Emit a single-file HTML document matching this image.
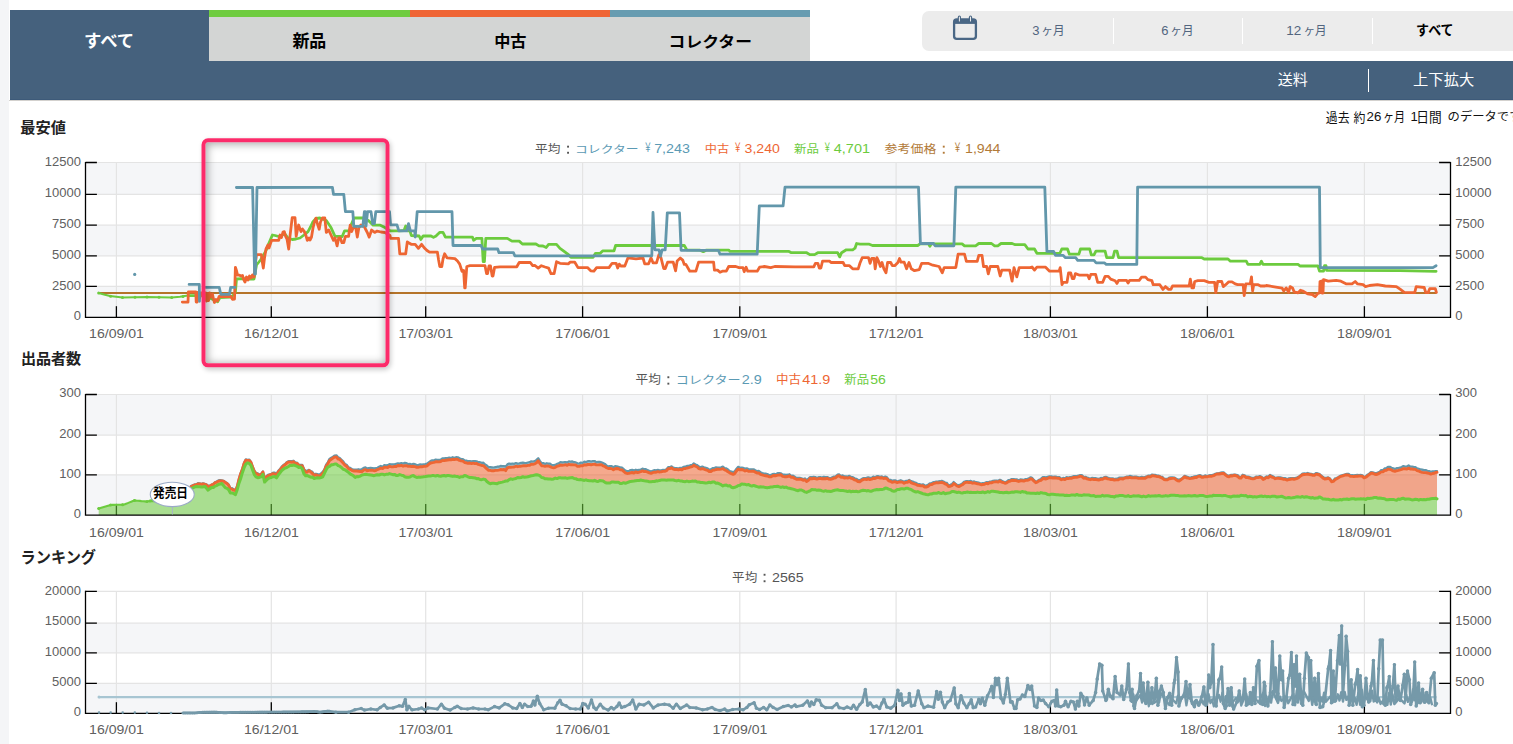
<!DOCTYPE html>
<html lang="ja"><head><meta charset="utf-8"><title>価格推移グラフ</title>
<style>
html,body{margin:0;padding:0;background:#fff;}
html{width:1513px;height:744px;overflow:hidden;}
body{width:1513px;height:744px;overflow:hidden;position:relative;font-family:"Liberation Sans","Noto Sans CJK JP",sans-serif;}
.strip{position:absolute;left:0;top:0;width:8.7px;height:744px;background:#f4f5f7;}
.hdrband{position:absolute;left:10px;top:61px;width:1503px;height:38px;background:#45617d;border-bottom:1px solid #3d5a79;}
.hdrline{position:absolute;left:9px;top:100px;width:1504px;height:1px;background:#d3d1ce;}
.tab{position:absolute;top:10px;height:51px;}
.tab.all{left:10px;width:199px;background:#45617d;}
.tab.g{left:209px;width:201px;background:#d3d5d4;border-top:7px solid #6fcc40;height:44px;}
.tab.o{left:410px;width:200px;background:#d3d5d4;border-top:7px solid #ef6535;height:44px;}
.tab.b{left:610px;width:200px;background:#d3d5d4;border-top:7px solid #679cb1;height:44px;}
.range{position:absolute;left:922px;top:11px;width:591px;height:40px;background:#ececec;border-radius:7px 0 0 7px;}
.sep{position:absolute;top:18px;width:1px;height:26px;background:#fff;}
.vsep{position:absolute;left:1368px;top:69px;width:1px;height:23px;background:#fff;}
.hl{position:absolute;left:202px;top:138px;width:179.8px;height:220.8px;border:4.2px solid #fc2b6a;border-radius:6.5px;
 transform:translate(-0.5px,0.3px);
 box-shadow: inset 1px 1px 9px 1px rgba(0,0,0,0.34), 1.5px 2.5px 5px rgba(0,0,0,0.2);}
svg{position:absolute;left:0;top:0;}
svg text{font-family:"Liberation Sans","Noto Sans CJK JP",sans-serif;}
</style></head><body>
<div class="strip"></div>
<div class="tab all"></div><div class="tab g"></div><div class="tab o"></div><div class="tab b"></div>
<div class="hdrband"></div><div class="hdrline"></div>
<div class="range"></div>
<div class="sep" style="left:1113px"></div>
<div class="sep" style="left:1242px"></div>
<div class="sep" style="left:1371.5px"></div>
<div class="vsep"></div>
<svg width="1513" height="744" viewBox="0 0 1513 744">
<text x="84" y="47" font-size="16.7" font-weight="bold" fill="#fff" textLength="50.2" lengthAdjust="spacingAndGlyphs">すべて</text>
<text x="292.4" y="47.2" font-size="17.3" font-weight="bold" fill="#000" textLength="33.9" lengthAdjust="spacingAndGlyphs">新品</text>
<text x="494.2" y="47" font-size="16.1" font-weight="bold" fill="#000" textLength="32.3" lengthAdjust="spacingAndGlyphs">中古</text>
<text x="668.6" y="47.2" font-size="15.2" font-weight="bold" fill="#000" textLength="83.4" lengthAdjust="spacingAndGlyphs">コレクター</text>
<g fill="none" stroke="#4a6785">
<rect x="954.1" y="19.3" width="21.8" height="19.5" rx="2.6" stroke-width="2.3"/>
<rect x="954.1" y="19.3" width="21.8" height="4.6" fill="#4a6785" stroke="none"/>
</g>
<rect x="957.8" y="15.6" width="3.2" height="6.8" rx="1.6" fill="#4a6785"/>
<rect x="958.9" y="16.4" width="1" height="5" rx="0.5" fill="#ececec"/>
<rect x="968.9" y="15.6" width="3.2" height="6.8" rx="1.6" fill="#4a6785"/>
<rect x="970" y="16.4" width="1" height="5" rx="0.5" fill="#ececec"/>
<text x="1032.2" y="35.3" font-size="13" fill="#52657f">3</text>
<text x="1041.3" y="34.9" font-size="12.2" fill="#52657f" textLength="23.2" lengthAdjust="spacingAndGlyphs">ヶ月</text>
<text x="1161.2" y="35.3" font-size="13" fill="#52657f">6</text>
<text x="1170.3" y="34.9" font-size="12.2" fill="#52657f" textLength="23.2" lengthAdjust="spacingAndGlyphs">ヶ月</text>
<text x="1286.3" y="35.3" font-size="13" fill="#52657f" textLength="15" lengthAdjust="spacingAndGlyphs">12</text>
<text x="1303.5" y="34.9" font-size="12.2" fill="#52657f" textLength="23.2" lengthAdjust="spacingAndGlyphs">ヶ月</text>
<text x="1416.1" y="35.4" font-size="13.5" font-weight="bold" fill="#000" textLength="37.5" lengthAdjust="spacingAndGlyphs">すべて</text>
<text x="1277.8" y="85.1" font-size="14.4" fill="#fff" textLength="30.1" lengthAdjust="spacingAndGlyphs">送料</text>
<text x="1413.1" y="85.1" font-size="14.5" fill="#fff" textLength="61.1" lengthAdjust="spacingAndGlyphs">上下拡大</text>
<text x="1325.8" y="121.6" font-size="12.7" fill="#111" textLength="23.7" lengthAdjust="spacingAndGlyphs">過去</text>
<text x="1353.6" y="121.6" font-size="12.8" fill="#111" textLength="11.9" lengthAdjust="spacingAndGlyphs">約</text>
<text x="1366.6" y="121.4" font-size="13" fill="#111" textLength="14.8" lengthAdjust="spacingAndGlyphs">26</text>
<text x="1383" y="121.4" font-size="12.6" fill="#111" textLength="22.2" lengthAdjust="spacingAndGlyphs">ヶ月</text>
<text x="1410.4" y="121.4" font-size="13" fill="#111">1</text>
<text x="1416.3" y="121.5" font-size="13.1" fill="#111" textLength="25.4" lengthAdjust="spacingAndGlyphs">日間</text>
<text x="1447.6" y="121.3" font-size="12" fill="#111" textLength="73.9" lengthAdjust="spacingAndGlyphs">のデータです</text>
<text x="20.2" y="133.2" font-size="15.2" font-weight="bold" fill="#222" textLength="45.7" lengthAdjust="spacingAndGlyphs">最安値</text>
<text x="20.9" y="364.1" font-size="14.7" font-weight="bold" fill="#222" textLength="60.3" lengthAdjust="spacingAndGlyphs">出品者数</text>
<text x="20.6" y="562.8" font-size="15.9" font-weight="bold" fill="#222" textLength="75.4" lengthAdjust="spacingAndGlyphs">ランキング</text>
<rect x="85.5" y="162.5" width="1365.1" height="31.8" fill="#f5f6f8"/>
<rect x="85.5" y="225.2" width="1365.1" height="30.6" fill="#f5f6f8"/>
<rect x="85.5" y="286.4" width="1365.1" height="31" fill="#f5f6f8"/>
<line x1="85.5" y1="162.5" x2="1450.5" y2="162.5" stroke="#e4e4e4" stroke-width="1.2"/>
<line x1="85.5" y1="194.3" x2="1450.5" y2="194.3" stroke="#e4e4e4" stroke-width="1.2"/>
<line x1="85.5" y1="225.2" x2="1450.5" y2="225.2" stroke="#e4e4e4" stroke-width="1.2"/>
<line x1="85.5" y1="255.8" x2="1450.5" y2="255.8" stroke="#e4e4e4" stroke-width="1.2"/>
<line x1="85.5" y1="286.4" x2="1450.5" y2="286.4" stroke="#e4e4e4" stroke-width="1.2"/>
<line x1="116.4" y1="162.5" x2="116.4" y2="317.4" stroke="#e4e4e4" stroke-width="1.2"/>
<line x1="271.3" y1="162.5" x2="271.3" y2="317.4" stroke="#e4e4e4" stroke-width="1.2"/>
<line x1="425.7" y1="162.5" x2="425.7" y2="317.4" stroke="#e4e4e4" stroke-width="1.2"/>
<line x1="582.6" y1="162.5" x2="582.6" y2="317.4" stroke="#e4e4e4" stroke-width="1.2"/>
<line x1="739.8" y1="162.5" x2="739.8" y2="317.4" stroke="#e4e4e4" stroke-width="1.2"/>
<line x1="896.1" y1="162.5" x2="896.1" y2="317.4" stroke="#e4e4e4" stroke-width="1.2"/>
<line x1="1050.4" y1="162.5" x2="1050.4" y2="317.4" stroke="#e4e4e4" stroke-width="1.2"/>
<line x1="1207.4" y1="162.5" x2="1207.4" y2="317.4" stroke="#e4e4e4" stroke-width="1.2"/>
<line x1="1364.4" y1="162.5" x2="1364.4" y2="317.4" stroke="#e4e4e4" stroke-width="1.2"/>
<line x1="98.7" y1="293" x2="1436.5" y2="293" stroke="#b5742a" stroke-width="1.8"/>
<circle cx="134.7" cy="274.4" r="1.6" fill="#6297ab"/>
<polyline points="98.7,293 104,294.5 110,296 122.5,297.4 135,297.2 147,297 159,297.3 171.7,297.6 180,296.8 188,295.6" fill="none" stroke="#6ccb3e" stroke-width="2" stroke-linejoin="round" stroke-linecap="round"/>
<circle cx="98.7" cy="293" r="1.5" fill="#6ccb3e"/>
<circle cx="110.6" cy="296.2" r="1.5" fill="#6ccb3e"/>
<circle cx="122.5" cy="297.4" r="1.5" fill="#6ccb3e"/>
<circle cx="135" cy="297.2" r="1.5" fill="#6ccb3e"/>
<circle cx="147" cy="297" r="1.5" fill="#6ccb3e"/>
<circle cx="159" cy="297.3" r="1.5" fill="#6ccb3e"/>
<circle cx="171.7" cy="297.6" r="1.5" fill="#6ccb3e"/>
<circle cx="183" cy="296.4" r="1.5" fill="#6ccb3e"/>
<polyline points="188,295.6 201,295.6 206,296 214,300 217.6,301.7 220,297.5 231,297 233.5,295 235.4,292 236.5,279 242.6,278.6 248,279 254,279 256.5,265 260.5,260 263,256 266,250.6 269,243 272.4,235 275,235.5 278.7,236.5 282,235 285,234 288,238 292.2,239.5 296,239 300,238 304,235 308,231.6 310.5,227 312.8,222 316,218.5 320,218 326.3,220.5 331,227.6 335,236.3 342.2,236.5 344.6,230.8 349.4,230.8 351.5,224 354,218 362.8,218 368.4,220.5 373.2,225.2 380.3,225.2 385,227.6 390,230.8 399.4,230.8 404,230.5 405.7,226 407.5,230.8 410,230.8 411.3,235.5 419.2,236 420.8,239.5 423.2,235.9 431,236 433.5,237.4 436,236 438,234 439.8,232.4 443,232.4 445.4,237.1 472.4,237.1 473.6,240.3 476.3,238.4 481.9,238.4 483.2,261.7 484.4,261.7 485.8,238.4 507.3,238.4 512,241.1 519.2,241.1 522.4,244 535.9,244 539,245.9 543,246 546.2,247.5 548.6,244.3 556.5,244.3 560,248.3 562.1,249.8 568.5,254.6 570.9,257.3 593.1,257.3 595.5,253.3 600.2,253.3 602.6,250.9 614,250.9 615.6,245.5 684.3,245.5 686.7,249.8 700,250.2 703.3,251.7 706,250.2 720,250.1 728.7,250.1 730,251.4 789,251.4 791.4,252.7 795,252.7 806.7,252.7 809.8,254.6 814.6,254.6 817.8,252.7 837.6,252.7 839.7,256.9 841.6,252.7 846.3,249.8 852.7,249.8 855,248.2 856.6,243.5 860,244.2 869.3,244.2 872.5,245.5 917.7,245.5 920.1,243.8 928.5,243.8 929.9,246.3 931.3,243.8 962.1,243.8 964.5,245.8 975.6,245.8 978.8,243.5 991.5,243.5 994.6,245.8 997.8,245.8 1001,243.5 1012.1,243.5 1015.2,244.7 1024.8,244.7 1028,249 1034.5,249 1036.9,253.3 1059.9,253.3 1061.8,249 1067.5,249 1069.4,254.2 1078.9,254.2 1080.5,249 1089.7,249 1091.3,254.9 1094,254.9 1095.9,251.1 1105.1,251.1 1106.7,257.7 1113,257.7 1114.6,251.1 1117,251.1 1118.6,257.7 1201.9,257.7 1204.2,259 1228,259 1230.4,261.2 1246.3,261.2 1247.9,264.4 1259.8,264.4 1261.4,261.2 1263,264.4 1265,264.4 1298,264.4 1300,266 1317.9,266 1319.5,271.2 1323.5,271.2 1324.5,265.7 1326,265.7 1326.6,270.4 1400,270.7 1436.1,271.3" fill="none" stroke="#6ccb3e" stroke-width="2.8" stroke-linejoin="round" stroke-linecap="round"/>
<polyline points="182.3,302.1 188,302.1 188.4,291.8 195.8,291.8 196.2,302 197.2,302 197.6,292.5 199,292.5 199.6,298 201,293 205.6,293 206.5,301 207.5,293.5 208.6,300.5 209.6,293 211,297 212.4,294 213.5,299 214.4,302.5 216,299.5 217.5,301 219.2,296.3 231,296.5 232.5,299.3 234.5,299 235.4,267.3 236.6,271 237.6,275.2 239.5,275.2 241,276 242.5,275.5 243.5,279 245,282 246.5,277 248,280 249.5,276 251,278 252.5,275 254,277 255.5,262 256.5,254.6 261.3,254.6 262.3,262 263.3,268 264.5,258 266,249 268,245 269,248 271.6,240.3 278.7,240.3 280,235 281.5,237.5 283,232 284.3,231.6 285.5,236 287,239 288.7,249 290,236 292.2,217.6 295,217.6 296.2,236.3 297.4,230 298.6,225 300,229 301,231.6 302.5,229 304,231 305.5,234 307.3,240.3 309,238 310,240 311.5,237 313,228 314.5,222 316,218.1 317.5,224 319.2,229.2 320.5,222 322.4,218 324.8,218 326.3,232.4 328.7,230 331,235 333.5,240.3 335,238 337.1,245.9 338.7,238 340.3,238 342,242.7 343.8,242.7 345.4,236.3 348.6,236.3 350.2,225.2 351.7,231.6 353.3,227.6 355.7,227.6 357.3,237.1 358.9,227.6 361,225 364.4,226.8 366,230 367.6,233.2 369.2,237.1 371.6,230 374.7,232.4 377.1,231.1 381,232 385.4,232.7 390,235.5 390.6,238.4 398.5,238.4 399.8,253.8 405.7,253.8 407.3,241.9 409,243 411.2,244.3 415.2,244.3 418.4,248.3 421.6,244.3 424.7,248.3 427,250.5 429.5,252.2 437.4,252.2 438.6,260 439.8,266.5 441.8,266.5 443,259 444.6,253.8 447,257.8 454.9,258.6 457.5,261 459.7,264.1 462,271.3 463.6,270.5 464.7,287.9 465.2,287.9 466.8,266.5 470,265.7 485,265.7 486.6,273.7 487.5,273.7 489,266 490.5,266 492.2,276 493,276 494.6,267.3 500,266.8 516.8,266.8 519.2,262.5 530.3,262.5 532.7,265.7 535,265.5 538.2,268.1 541.4,265.7 545,267 548.6,268.1 551,273.7 554.1,273.7 556.5,261.7 560,263.3 568.5,263.8 570,262.2 574.8,262.2 578,267.6 587.5,267.6 590.7,270.8 593.9,271.2 596.6,267.6 609,267.6 612.1,263.3 616.1,263.3 617.7,268 619.3,264.1 620.8,266 624.8,266 628,257.8 636,258.9 643,258 644.7,263.8 648.6,263.8 651,257.8 653,262.8 656.5,262.8 658.9,254.6 661,257.8 663.7,268.5 665.3,268.5 667.6,262.2 673.2,262.2 675.6,270.8 677.2,260.9 680.3,258 682.7,260.1 684.3,264.4 685.9,264.4 689.8,271.2 695.9,271.2 698.6,262.2 713.6,262.2 714.4,270.1 717.6,270.1 720,272.3 722.4,271.2 726.3,271.2 728.7,266.5 735.8,266.5 739,267.6 743,267.6 744.2,271.7 746.1,267.2 747.7,271.2 757.2,271.2 759.6,267.2 764.4,266.5 770.7,267.6 774.7,266.5 795,266.8 813.8,266.9 815.4,263.3 817.8,263.3 819.3,268 820.9,268 822.5,261.2 829.7,261.2 831,262.5 843.1,262.5 844.7,265.7 849.5,265.7 852.7,268.8 858.2,268.8 860,263 862.2,257.7 868.5,257.7 870.1,263.3 871.7,258.5 874.1,258.5 875.2,268.8 876.9,257.7 878.8,261.7 880.4,266.5 882,262.5 883.9,268.8 886,272.8 887.6,262.5 890.7,262.5 892.3,265.7 894.7,265.7 897.9,262.5 899.5,258.5 901,262.2 904.2,262.2 906.6,268.8 909,262.5 911.3,268.8 914.5,270.7 919.3,269.6 921.7,263.3 928,263.3 932.8,265.2 939.1,266.5 942.3,272.8 944.2,267.6 955.8,267.6 958.1,254.2 964.5,254.2 966.4,261.4 977.2,261.4 978.8,255.3 982,255.3 983.5,266.5 986.7,266.5 988.3,273.9 990.2,266.5 997.8,266.5 1000.2,276 1001.8,270.1 1009.7,270.1 1012.1,281.2 1014,267.6 1016.8,276.8 1019.2,267.6 1030,267.6 1032,267 1034.5,270.1 1036.9,267.2 1045.6,267.2 1049.6,271.2 1059.1,271.2 1060.2,267.6 1062,284.7 1063.1,282.3 1067,282.3 1068.6,272.8 1070.7,272.8 1072.3,278.7 1073.9,278.7 1075.4,273.6 1079.7,275.2 1087.7,275.2 1089.2,278.7 1090.8,274.4 1095.6,274.4 1097.7,282.3 1102.7,282.3 1105.1,276.4 1108.3,276.4 1110.7,279.1 1115.1,280.7 1117,283.4 1118.6,280.3 1126.5,280.3 1128.1,283.1 1129.7,280.3 1139.2,280.3 1141.6,277.1 1145.6,277.1 1147.9,279.6 1151.9,280.7 1153.2,284.7 1159.8,284.7 1163,289.4 1165.4,286.6 1168.6,289.4 1170.9,289.4 1172.5,286 1189.2,286 1190.3,279.1 1191.9,287.9 1193.5,287.9 1194.7,281.5 1197.9,280.7 1204.2,280.7 1209,282.3 1214.6,282.3 1215.8,292.6 1217.7,281.5 1221.7,281.5 1223.3,286.6 1225.7,284.7 1228.8,281.8 1232,281.8 1235.2,283.9 1237.6,284.7 1243.1,284.7 1244.2,295.5 1245.8,283.9 1250.2,283.9 1251.5,276.8 1252.6,291 1253.7,284.7 1258.2,284.7 1260.6,286 1265,286 1266.3,285.5 1275.9,287.1 1282.2,288.2 1283.8,291 1286.2,287.9 1288.6,292.3 1290.1,286.6 1292.5,287.9 1294.1,291.8 1298.1,292.9 1300.5,290.2 1302.8,291 1307.6,293.9 1312.3,294.5 1315.2,296.6 1317.9,293.4 1319.6,293 1320,281.5 1321.5,281 1322,293 1323,293 1323.5,279.6 1328.2,281.2 1336.1,280.4 1340.9,281.2 1346.5,283.9 1352,283.9 1355.2,281.5 1357.6,283.9 1363.1,284.7 1365.5,286.6 1369.5,285.5 1377.4,284.7 1385.3,286 1396.4,286.6 1400.4,289.4 1404.3,292.3 1414.7,292.6 1416.2,286.6 1424.2,287.5 1425.8,292.6 1428.1,292.6 1429.7,288.7 1435.3,288.7 1436.4,292.3" fill="none" stroke="#ee6633" stroke-width="2.8" stroke-linejoin="round" stroke-linecap="round"/>
<polyline points="189.1,284.4 199.3,284.4 199.5,301.3" fill="none" stroke="#6297ab" stroke-width="2.8" stroke-linejoin="round" stroke-linecap="round"/>
<polyline points="205.5,287.3 219.2,287.3 220.8,294.3 229.5,294.3 230.7,287.3 235,287.3" fill="none" stroke="#6297ab" stroke-width="2.8" stroke-linejoin="round" stroke-linecap="round"/>
<polyline points="236.4,187.5 252.6,187.5 254.6,274 255.4,274 257,187.5 320,187.3 332.4,187.3 333.5,194.3 343.8,194.3 345.4,211.7 352.8,211.7 353.8,226.3 362.8,226.3 364.4,211.7 365.2,211.7 366,226 367.6,211.7 371,211.7 372.7,223.6 374.4,223.6 375.8,211.7 389.5,211.7 390.6,224.9 397,224.9 398.8,230.8 407,230.8 408.5,223.6 410.4,230.8 414.7,230.8 415.2,237 417.2,211.7 452,211.7 453,245.5 481,245.5 482.6,249 497.7,249 499,252.7 513.5,252.7 514.8,255.8 560,255.8 651.8,255.8 653,212.5 654.9,249.8 659,249.8 660.5,256.1 662.1,249.8 665.2,249.8 667.3,212.8 679.5,212.8 681.1,250.3 718.4,250.3 720,254.2 757.2,254.2 759.3,205.9 783.1,205.9 785,187.1 795,187.1 918.5,187.1 920.4,243.5 933.6,243.5 935.1,245.8 953.9,245.8 955.8,187.1 1030,187.1 1044.8,187.1 1046.9,251.4 1053.6,251.4 1055.5,255.3 1063,255.3 1065.5,257.7 1075.8,257.7 1077.7,260.4 1094,260.4 1096.1,262.8 1104.3,262.8 1106.2,264.4 1136.8,264.4 1137.6,187.1 1265,187.1 1319.5,187.1 1320.3,267.6 1432.9,267.6 1436.1,265.7" fill="none" stroke="#6297ab" stroke-width="2.8" stroke-linejoin="round" stroke-linecap="round"/>
<g stroke="#000" stroke-width="1.3" fill="none">
<path d="M85.5 161.9 V317.4 H1450.5 V161.9"/>
<path d="M85.5 162.5 h11.4 M1450.5 162.5 h-11.4"/>
<path d="M85.5 194.3 h11.4 M1450.5 194.3 h-11.4"/>
<path d="M85.5 225.2 h11.4 M1450.5 225.2 h-11.4"/>
<path d="M85.5 255.8 h11.4 M1450.5 255.8 h-11.4"/>
<path d="M85.5 286.4 h11.4 M1450.5 286.4 h-11.4"/>
<path d="M116.4 317.4 v-11.2"/>
<path d="M271.3 317.4 v-11.2"/>
<path d="M425.7 317.4 v-11.2"/>
<path d="M582.6 317.4 v-11.2"/>
<path d="M739.8 317.4 v-11.2"/>
<path d="M896.1 317.4 v-11.2"/>
<path d="M1050.4 317.4 v-11.2"/>
<path d="M1207.4 317.4 v-11.2"/>
<path d="M1364.4 317.4 v-11.2"/>
</g>
<text x="80.9" y="166.2" font-size="13" fill="#606060" text-anchor="end">12500</text>
<text x="1455.3" y="166.2" font-size="13" fill="#606060">12500</text>
<text x="80.9" y="197.3" font-size="13" fill="#606060" text-anchor="end">10000</text>
<text x="1455.3" y="197.3" font-size="13" fill="#606060">10000</text>
<text x="80.9" y="228.2" font-size="13" fill="#606060" text-anchor="end">7500</text>
<text x="1455.3" y="228.2" font-size="13" fill="#606060">7500</text>
<text x="80.9" y="259.1" font-size="13" fill="#606060" text-anchor="end">5000</text>
<text x="1455.3" y="259.1" font-size="13" fill="#606060">5000</text>
<text x="80.9" y="290.2" font-size="13" fill="#606060" text-anchor="end">2500</text>
<text x="1455.3" y="290.2" font-size="13" fill="#606060">2500</text>
<text x="80.9" y="320.4" font-size="13" fill="#606060" text-anchor="end">0</text>
<text x="1455.3" y="320.4" font-size="13" fill="#606060">0</text>
<text x="89.1" y="338" font-size="13" fill="#606060" textLength="54.8" lengthAdjust="spacingAndGlyphs">16/09/01</text>
<text x="244" y="338" font-size="13" fill="#606060" textLength="54.8" lengthAdjust="spacingAndGlyphs">16/12/01</text>
<text x="398.4" y="338" font-size="13" fill="#606060" textLength="54.8" lengthAdjust="spacingAndGlyphs">17/03/01</text>
<text x="555.3" y="338" font-size="13" fill="#606060" textLength="54.8" lengthAdjust="spacingAndGlyphs">17/06/01</text>
<text x="712.5" y="338" font-size="13" fill="#606060" textLength="54.8" lengthAdjust="spacingAndGlyphs">17/09/01</text>
<text x="868.8" y="338" font-size="13" fill="#606060" textLength="54.8" lengthAdjust="spacingAndGlyphs">17/12/01</text>
<text x="1023.1" y="338" font-size="13" fill="#606060" textLength="54.8" lengthAdjust="spacingAndGlyphs">18/03/01</text>
<text x="1180.1" y="338" font-size="13" fill="#606060" textLength="54.8" lengthAdjust="spacingAndGlyphs">18/06/01</text>
<text x="1337.1" y="338" font-size="13" fill="#606060" textLength="54.8" lengthAdjust="spacingAndGlyphs">18/09/01</text>
<text x="535.1" y="153.1" font-size="11.5" fill="#555" textLength="25.3" lengthAdjust="spacingAndGlyphs">平均</text>
<rect x="567.1" y="145.7" width="1.9" height="1.9" fill="#555"/>
<rect x="567.1" y="151.8" width="1.9" height="1.9" fill="#555"/>
<text x="575" y="152.9" font-size="10.6" fill="#5b9ab4" textLength="63.6" lengthAdjust="spacingAndGlyphs">コレクター</text>
<text x="643.7" y="152.3" font-size="12.3" fill="#5b9ab4" textLength="8.3" lengthAdjust="spacingAndGlyphs">￥</text>
<text x="654.2" y="153.3" font-size="13" fill="#5b9ab4" textLength="35.7" lengthAdjust="spacingAndGlyphs">7,243</text>
<text x="704.8" y="153.1" font-size="11.5" fill="#ee6633" textLength="24.3" lengthAdjust="spacingAndGlyphs">中古</text>
<text x="733.4" y="152.3" font-size="12.3" fill="#ee6633" textLength="8.4" lengthAdjust="spacingAndGlyphs">￥</text>
<text x="744.6" y="153.3" font-size="13" fill="#ee6633" textLength="35.3" lengthAdjust="spacingAndGlyphs">3,240</text>
<text x="794.1" y="153.1" font-size="11.6" fill="#6ccb3e" textLength="24.9" lengthAdjust="spacingAndGlyphs">新品</text>
<text x="823.2" y="152.3" font-size="12.3" fill="#6ccb3e" textLength="8.1" lengthAdjust="spacingAndGlyphs">￥</text>
<text x="833.8" y="153.3" font-size="13" fill="#6ccb3e" textLength="36.2" lengthAdjust="spacingAndGlyphs">4,701</text>
<text x="884.6" y="153.1" font-size="11.5" fill="#b27a38" textLength="51.8" lengthAdjust="spacingAndGlyphs">参考価格</text>
<rect x="942.8" y="145.7" width="1.9" height="1.9" fill="#b27a38"/>
<rect x="942.8" y="151.8" width="1.9" height="1.9" fill="#b27a38"/>
<text x="953.3" y="152.3" font-size="12.3" fill="#b27a38" textLength="8.5" lengthAdjust="spacingAndGlyphs">￥</text>
<text x="965" y="153.3" font-size="13" fill="#b27a38" textLength="35.5" lengthAdjust="spacingAndGlyphs">1,944</text>
<rect x="85.5" y="394.5" width="1365.1" height="40.6" fill="#f5f6f8"/>
<rect x="85.5" y="474.8" width="1365.1" height="40.3" fill="#f5f6f8"/>
<line x1="85.5" y1="394.5" x2="1450.5" y2="394.5" stroke="#e4e4e4" stroke-width="1.2"/>
<line x1="85.5" y1="435.1" x2="1450.5" y2="435.1" stroke="#e4e4e4" stroke-width="1.2"/>
<line x1="85.5" y1="474.8" x2="1450.5" y2="474.8" stroke="#e4e4e4" stroke-width="1.2"/>
<line x1="116.4" y1="394.5" x2="116.4" y2="515.1" stroke="#e4e4e4" stroke-width="1.2"/>
<line x1="271.3" y1="394.5" x2="271.3" y2="515.1" stroke="#e4e4e4" stroke-width="1.2"/>
<line x1="425.7" y1="394.5" x2="425.7" y2="515.1" stroke="#e4e4e4" stroke-width="1.2"/>
<line x1="582.6" y1="394.5" x2="582.6" y2="515.1" stroke="#e4e4e4" stroke-width="1.2"/>
<line x1="739.8" y1="394.5" x2="739.8" y2="515.1" stroke="#e4e4e4" stroke-width="1.2"/>
<line x1="896.1" y1="394.5" x2="896.1" y2="515.1" stroke="#e4e4e4" stroke-width="1.2"/>
<line x1="1050.4" y1="394.5" x2="1050.4" y2="515.1" stroke="#e4e4e4" stroke-width="1.2"/>
<line x1="1207.4" y1="394.5" x2="1207.4" y2="515.1" stroke="#e4e4e4" stroke-width="1.2"/>
<line x1="1364.4" y1="394.5" x2="1364.4" y2="515.1" stroke="#e4e4e4" stroke-width="1.2"/>
<g stroke="#000" stroke-width="1.3">
<path d="M116.4 515.1 v-11.2"/>
<path d="M271.3 515.1 v-11.2"/>
<path d="M425.7 515.1 v-11.2"/>
<path d="M582.6 515.1 v-11.2"/>
<path d="M739.8 515.1 v-11.2"/>
<path d="M896.1 515.1 v-11.2"/>
<path d="M1050.4 515.1 v-11.2"/>
<path d="M1207.4 515.1 v-11.2"/>
<path d="M1364.4 515.1 v-11.2"/>
</g>
<path d="M98.7 508.5 L100.4 508 L102.1 507.5 L103.8 507 L105.5 506.5 L107.2 506 L109 505.5 L110.7 505 L112.4 504.9 L114.1 504.9 L115.8 504.8 L117.5 504.8 L119.2 504.7 L120.9 504.7 L122.6 504.6 L124.3 504.5 L126.1 503.8 L127.8 503.1 L129.5 502.4 L131.2 501.7 L132.9 501 L134.6 500.4 L136.3 500.6 L138 500.7 L139.7 500.9 L141.4 501.1 L143.2 501.2 L144.9 501.4 L146.6 501.6 L148.3 501.3 L150 501 L151.7 500.8 L153.4 500.7 L155.1 500.7 L156.8 500.6 L158.6 500.5 L160.3 500.5 L162 500.2 L163.7 499.9 L165.4 499.7 L167.1 499.4 L168.8 499.2 L170.5 498.8 L172.2 498.1 L173.9 497.4 L175.7 496.7 L177.4 496.1 L179.1 495.4 L180.8 494.5 L182.5 493.4 L184.2 492.4 L185.9 491.3 L187.6 490.2 L189.3 489.4 L191 488.6 L192.8 487.9 L194.5 487.2 L196.2 486.5 L197.9 486.8 L199.6 486.7 L201.3 486.9 L203 486.9 L204.7 486.3 L206.4 488.1 L208.1 490.2 L209.9 488.6 L211.6 487.6 L213.3 487.5 L215 486.1 L216.7 485.6 L218.4 484.4 L220.1 484.1 L221.8 483.5 L223.5 485.5 L225.2 487.6 L227 488.4 L228.7 489.7 L230.4 493 L232.1 492.9 L233.8 493.7 L235.5 494.6 L237.2 489.7 L238.9 483.4 L240.6 478.8 L242.3 472.9 L244.1 467.7 L245.8 464.2 L247.5 462.8 L249.2 463.4 L250.9 465.3 L252.6 469.9 L254.3 474.6 L256 476.9 L257.7 477.7 L259.4 477.4 L261.2 476.8 L262.9 474.3 L264.6 482.1 L266.3 480.3 L268 478.7 L269.7 477.8 L271.4 477.5 L273.1 476.7 L274.8 476.6 L276.5 477.9 L278.3 475 L280 472.9 L281.7 470.7 L283.4 469.2 L285.1 468.1 L286.8 467.5 L288.5 466.5 L290.2 465.3 L291.9 465.5 L293.6 465 L295.4 465.7 L297.1 466.3 L298.8 467.5 L300.5 467 L302.2 468.8 L303.9 473.7 L305.6 475.8 L307.3 475.5 L309 476.4 L310.7 477.2 L312.4 477 L314.2 478.5 L315.9 478.1 L317.6 477.8 L319.3 478 L321 477.6 L322.7 476.9 L324.4 473.4 L326.1 469.8 L327.8 467.1 L329.5 466.4 L331.3 464.8 L333 464.7 L334.7 464.1 L336.4 464 L338.1 465.6 L339.8 466.2 L341.5 467.4 L343.2 469.3 L344.9 469.7 L346.6 470.9 L348.4 472.2 L350.1 473.9 L351.8 474.8 L353.5 475.8 L355.2 477.4 L356.9 476.5 L358.6 476.7 L360.3 476.1 L362 475 L363.7 474.6 L365.5 474.2 L367.2 474.5 L368.9 474.7 L370.6 475 L372.3 475.3 L374 475.7 L375.7 475.1 L377.4 474.8 L379.1 475 L380.8 474.3 L382.6 474.2 L384.3 474.9 L386 474.3 L387.7 474.3 L389.4 473.6 L391.1 474.1 L392.8 474.7 L394.5 474.4 L396.2 475.4 L397.9 475.4 L399.7 474.6 L401.4 475.2 L403.1 475.5 L404.8 476.7 L406.5 477.2 L408.2 477.3 L409.9 477 L411.6 475.9 L413.3 475.6 L415 476.6 L416.8 477.5 L418.5 477.1 L420.2 477.2 L421.9 477.1 L423.6 476.7 L425.3 476.6 L427 476.3 L428.7 476.1 L430.4 476.1 L432.1 475.6 L433.9 475.6 L435.6 476.1 L437.3 475.4 L439 476 L440.7 476.2 L442.4 475.7 L444.1 475.5 L445.8 476.1 L447.5 475.4 L449.2 475.6 L451 476 L452.7 476.4 L454.4 476 L456.1 476.4 L457.8 476.6 L459.5 477.4 L461.2 476.7 L462.9 476.7 L464.6 475.4 L466.3 476 L468.1 476.9 L469.8 477.6 L471.5 477.5 L473.2 477.7 L474.9 477.9 L476.6 478.7 L478.3 478.6 L480 479.5 L481.7 479.7 L483.4 479.1 L485.2 479.5 L486.9 481.5 L488.6 482.8 L490.3 483.7 L492 483.3 L493.7 483.2 L495.4 483.4 L497.1 483.7 L498.8 482.8 L500.5 482.5 L502.3 482.1 L504 481.6 L505.7 481 L507.4 481 L509.1 479.6 L510.8 478.8 L512.5 479.4 L514.2 478.9 L515.9 478.5 L517.6 477.5 L519.4 477.8 L521.1 477.6 L522.8 476.7 L524.5 477.2 L526.2 477.1 L527.9 476.7 L529.6 476.3 L531.3 475.8 L533 475.5 L534.7 475.1 L536.5 474.8 L538.2 475.1 L539.9 475.7 L541.6 477.5 L543.3 477.7 L545 478.8 L546.7 478.7 L548.4 479 L550.1 479.1 L551.8 479.2 L553.6 478.9 L555.3 478.1 L557 478.6 L558.7 477.8 L560.4 477.7 L562.1 478.1 L563.8 477.9 L565.5 477.8 L567.2 478.4 L568.9 478 L570.7 477.7 L572.4 477.6 L574.1 478.5 L575.8 478.7 L577.5 479.6 L579.2 479.7 L580.9 479.6 L582.6 480.1 L584.3 480.4 L586 479.8 L587.8 480.6 L589.5 480.8 L591.2 480.8 L592.9 481 L594.6 480.3 L596.3 481.2 L598 481.5 L599.7 480.6 L601.4 480.8 L603.1 481.1 L604.9 482.3 L606.6 483 L608.3 483 L610 483 L611.7 482 L613.4 482.1 L615.1 482.2 L616.8 482.3 L618.5 482.3 L620.2 483.4 L622 483.4 L623.7 482.7 L625.4 483.3 L627.1 482.6 L628.8 482 L630.5 481.4 L632.2 481.2 L633.9 481 L635.6 480.7 L637.4 480.4 L639.1 480.4 L640.8 480.1 L642.5 480.4 L644.2 480.8 L645.9 481 L647.6 481.2 L649.3 481.8 L651 481.7 L652.7 481.6 L654.5 481.5 L656.2 480.8 L657.9 480.9 L659.6 480.4 L661.3 480.1 L663 480 L664.7 480.1 L666.4 480.2 L668.1 479.9 L669.8 480.1 L671.6 480.1 L673.3 480 L675 480.5 L676.7 480.9 L678.4 480.3 L680.1 480.9 L681.8 481 L683.5 481.6 L685.2 481.7 L686.9 481.1 L688.7 481.7 L690.4 481.6 L692.1 481.1 L693.8 481.3 L695.5 481 L697.2 482 L698.9 482 L700.6 482.5 L702.3 482.6 L704 482.7 L705.8 483.1 L707.5 482.8 L709.2 482.3 L710.9 482.7 L712.6 482 L714.3 482.1 L716 483.2 L717.7 483 L719.4 483.9 L721.1 484.7 L722.9 485.9 L724.6 485.2 L726.3 485.1 L728 486 L729.7 485.6 L731.4 487.2 L733.1 487.7 L734.8 487.3 L736.5 486.7 L738.2 485.6 L740 485.2 L741.7 483.9 L743.4 484.3 L745.1 484.3 L746.8 484.9 L748.5 484.5 L750.2 485.6 L751.9 486.1 L753.6 485.4 L755.3 486 L757.1 486.6 L758.8 487.2 L760.5 486.8 L762.2 486.9 L763.9 487.1 L765.6 487.6 L767.3 487.8 L769 487.4 L770.7 487.1 L772.4 486.9 L774.2 486.6 L775.9 486.5 L777.6 486.2 L779.3 486.8 L781 487.4 L782.7 486.8 L784.4 487.5 L786.1 487.1 L787.8 488 L789.5 488.3 L791.3 488.7 L793 489.1 L794.7 489.7 L796.4 490.3 L798.1 490.7 L799.8 489.9 L801.5 490 L803.2 490.8 L804.9 491.9 L806.6 492.4 L808.4 491.5 L810.1 490.9 L811.8 489.5 L813.5 489.7 L815.2 489.7 L816.9 490.3 L818.6 490.1 L820.3 490.2 L822 490.9 L823.7 491.3 L825.5 490.7 L827.2 491.3 L828.9 491.2 L830.6 491.5 L832.3 491 L834 490.4 L835.7 490.1 L837.4 489.7 L839.1 490.2 L840.8 490.4 L842.6 490.4 L844.3 490.8 L846 491 L847.7 491.6 L849.4 490.9 L851.1 491.8 L852.8 491.3 L854.5 491.4 L856.2 491.3 L857.9 491.7 L859.7 491.4 L861.4 490.7 L863.1 490.3 L864.8 490.4 L866.5 490.9 L868.2 490.6 L869.9 491.2 L871.6 491.2 L873.3 490.4 L875 489.9 L876.8 489.6 L878.5 489.8 L880.2 489.5 L881.9 489.5 L883.6 489.1 L885.3 488.1 L887 488.3 L888.7 489.1 L890.4 489.6 L892.1 490.8 L893.9 491.2 L895.6 490.7 L897.3 489.4 L899 489.5 L900.7 488.8 L902.4 488.8 L904.1 489.1 L905.8 488.3 L907.5 488.2 L909.2 489 L911 489.4 L912.7 490.6 L914.4 491.5 L916.1 492 L917.8 491.6 L919.5 492.3 L921.2 493 L922.9 493.7 L924.6 494 L926.3 494.5 L928.1 494.8 L929.8 494.1 L931.5 494 L933.2 493.3 L934.9 493.2 L936.6 493.3 L938.3 492.5 L940 493.2 L941.7 493.4 L943.4 492.6 L945.2 493.7 L946.9 493.2 L948.6 493.1 L950.3 492.6 L952 491.5 L953.7 491.6 L955.4 491.9 L957.1 492.5 L958.8 492.1 L960.5 492.7 L962.3 492.9 L964 492.6 L965.7 492.4 L967.4 492 L969.1 492.4 L970.8 492.2 L972.5 492.6 L974.2 492.6 L975.9 492.5 L977.6 492.1 L979.4 492.6 L981.1 492.5 L982.8 492 L984.5 492.7 L986.2 492.3 L987.9 491.5 L989.6 492.3 L991.3 491.2 L993 491.3 L994.7 491.5 L996.5 491.7 L998.2 492 L999.9 492.5 L1001.6 492.6 L1003.3 492.8 L1005 492.5 L1006.7 492.2 L1008.4 492.7 L1010.1 492.5 L1011.8 492.1 L1013.6 492.3 L1015.3 491.8 L1017 491.7 L1018.7 491.9 L1020.4 492.4 L1022.1 491.5 L1023.8 492 L1025.5 492.1 L1027.2 493.1 L1028.9 493.1 L1030.7 493.2 L1032.4 493.2 L1034.1 493.3 L1035.8 493.5 L1037.5 493 L1039.2 493.5 L1040.9 492.6 L1042.6 493 L1044.3 493.2 L1046 493.5 L1047.8 494.6 L1049.5 494.8 L1051.2 494.2 L1052.9 494.2 L1054.6 494.4 L1056.3 494.8 L1058 494.8 L1059.7 494.9 L1061.4 495.1 L1063.1 494.9 L1064.9 495.5 L1066.6 495.2 L1068.3 495.4 L1070 495.4 L1071.7 494.9 L1073.4 494.9 L1075.1 495.3 L1076.8 494.4 L1078.5 495.2 L1080.2 495.3 L1082 495.4 L1083.7 494.8 L1085.4 495 L1087.1 495 L1088.8 495 L1090.5 495.7 L1092.2 495.7 L1093.9 495.6 L1095.6 496.5 L1097.3 496.2 L1099.1 496.2 L1100.8 496.3 L1102.5 495.3 L1104.2 496.1 L1105.9 495.8 L1107.6 495.8 L1109.3 496.1 L1111 496.4 L1112.7 496.5 L1114.4 497 L1116.2 495.9 L1117.9 495.9 L1119.6 495.6 L1121.3 495.4 L1123 495.6 L1124.7 496.2 L1126.4 496.3 L1128.1 495.6 L1129.8 496.5 L1131.5 496.4 L1133.3 495.8 L1135 496.1 L1136.7 496 L1138.4 495.8 L1140.1 496.3 L1141.8 496.8 L1143.5 496.1 L1145.2 496.7 L1146.9 496.4 L1148.6 495.6 L1150.4 496.3 L1152.1 495.9 L1153.8 496.1 L1155.5 495.8 L1157.2 495.9 L1158.9 495.5 L1160.6 496 L1162.3 496.2 L1164 496.1 L1165.7 495.6 L1167.5 496 L1169.2 495.7 L1170.9 495.3 L1172.6 495.3 L1174.3 495.3 L1176 495.5 L1177.7 495.5 L1179.4 495.9 L1181.1 496.1 L1182.8 495.9 L1184.6 495.8 L1186.3 496 L1188 495.6 L1189.7 495.8 L1191.4 496.1 L1193.1 495.7 L1194.8 495.4 L1196.5 496.1 L1198.2 495.9 L1199.9 495.5 L1201.7 495.5 L1203.4 495.6 L1205.1 496.2 L1206.8 496.5 L1208.5 496.3 L1210.2 496 L1211.9 496.1 L1213.6 495.2 L1215.3 495.6 L1217 495.4 L1218.8 495.4 L1220.5 495.4 L1222.2 495.7 L1223.9 495.5 L1225.6 495.6 L1227.3 496.1 L1229 496.5 L1230.7 497 L1232.4 496.3 L1234.1 496.1 L1235.9 496.3 L1237.6 496 L1239.3 496.2 L1241 495.2 L1242.7 495.6 L1244.4 495.8 L1246.1 495.6 L1247.8 496.9 L1249.5 496.3 L1251.2 496.4 L1253 497 L1254.7 496.6 L1256.4 497 L1258.1 496.6 L1259.8 496.2 L1261.5 496 L1263.2 496.6 L1264.9 496.1 L1266.6 496.7 L1268.3 496.4 L1270.1 496.9 L1271.8 496.3 L1273.5 496.3 L1275.2 496.3 L1276.9 497 L1278.6 496.8 L1280.3 496.6 L1282 496.3 L1283.7 497.2 L1285.4 497.9 L1287.2 497.8 L1288.9 497.5 L1290.6 497.9 L1292.3 497.8 L1294 497.6 L1295.7 497.1 L1297.4 496.8 L1299.1 497.1 L1300.8 497.2 L1302.5 496.5 L1304.3 497.3 L1306 496.8 L1307.7 497.1 L1309.4 497.5 L1311.1 498 L1312.8 497.5 L1314.5 498.3 L1316.2 498.1 L1317.9 497.9 L1319.6 496.9 L1321.4 497.8 L1323.1 499.1 L1324.8 498.9 L1326.5 499.2 L1328.2 499.3 L1329.9 499.7 L1331.6 500 L1333.3 499.3 L1335 500 L1336.7 499.9 L1338.5 499.9 L1340.2 499.6 L1341.9 499.9 L1343.6 499.2 L1345.3 499.2 L1347 499 L1348.7 499.5 L1350.4 499.1 L1352.1 498.8 L1353.8 498.7 L1355.6 499.2 L1357.3 499 L1359 499.1 L1360.7 498.7 L1362.4 499 L1364.1 498.8 L1365.8 499.5 L1367.5 498.3 L1369.2 498.4 L1370.9 498.2 L1372.7 498 L1374.4 497.4 L1376.1 497.5 L1377.8 498.2 L1379.5 498 L1381.2 498.2 L1382.9 498.6 L1384.6 498.7 L1386.3 499.8 L1388 499.7 L1389.8 499.4 L1391.5 499.6 L1393.2 499.4 L1394.9 499.9 L1396.6 500.3 L1398.3 499.1 L1400 499.4 L1401.7 498.6 L1403.4 498.3 L1405.1 499.2 L1406.9 499 L1408.6 499.1 L1410.3 499.3 L1412 499.9 L1413.7 499.8 L1415.4 499.2 L1417.1 499.4 L1418.8 500.2 L1420.5 499.4 L1422.2 499.8 L1424 499.6 L1425.7 499.7 L1427.4 499.3 L1429.1 499.2 L1430.8 498.8 L1432.5 498.5 L1434.2 498.4 L1435.9 498.3 L1437 498.8 L1437 515.1 L98.7 515.1 Z" fill="rgba(108,203,62,0.56)"/>
<path d="M187.6 488.8 L189.3 487.7 L191 486.7 L192.8 485.8 L194.5 485.1 L196.2 484.6 L197.9 484 L199.6 483.9 L201.3 484.2 L203 484 L204.7 484.3 L206.4 484.9 L208.1 486.5 L209.9 486.2 L211.6 485 L213.3 484.5 L215 482.7 L216.7 482.3 L218.4 481.1 L220.1 481 L221.8 481 L223.5 481.1 L225.2 482.4 L227 483.5 L228.7 485.3 L230.4 489 L232.1 489.1 L233.8 490.2 L235.5 490.7 L237.2 486.5 L238.9 479.6 L240.6 474 L242.3 469.6 L244.1 463.4 L245.8 460.3 L247.5 460.4 L249.2 460.4 L250.9 462.2 L252.6 467 L254.3 471.5 L256 473.7 L257.7 474.1 L259.4 475.6 L261.2 474.6 L262.9 472 L264.6 478.8 L266.3 477.2 L268 475.8 L269.7 475 L271.4 474.4 L273.1 473.7 L274.8 473.9 L276.5 475.2 L278.3 471.7 L280 470.1 L281.7 467.8 L283.4 465.9 L285.1 464.7 L286.8 463.1 L288.5 462.1 L290.2 461.9 L291.9 462.3 L293.6 461.7 L295.4 463.7 L297.1 463.5 L298.8 465.3 L300.5 466.1 L302.2 465.8 L303.9 469.8 L305.6 472.4 L307.3 472 L309 470.6 L310.7 471.9 L312.4 473.3 L314.2 475.5 L315.9 474.8 L317.6 475.6 L319.3 476 L321 475.1 L322.7 473.4 L324.4 470.7 L326.1 466.2 L327.8 463.7 L329.5 460.6 L331.3 459.3 L333 458.1 L334.7 457.1 L336.4 457 L338.1 459 L339.8 459.4 L341.5 461.2 L343.2 463.1 L344.9 465.1 L346.6 466.2 L348.4 468.6 L350.1 469.3 L351.8 470.3 L353.5 471 L355.2 471 L356.9 471 L358.6 471.2 L360.3 471.5 L362 471.5 L363.7 470.2 L365.5 469.7 L367.2 470.8 L368.9 470.4 L370.6 470.3 L372.3 470.2 L374 470.7 L375.7 470.6 L377.4 469.6 L379.1 469 L380.8 468.1 L382.6 468.6 L384.3 467.2 L386 467.4 L387.7 467.5 L389.4 466.3 L391.1 466.7 L392.8 466.9 L394.5 466.4 L396.2 466.5 L397.9 465.5 L399.7 465.8 L401.4 465.4 L403.1 466.2 L404.8 465.6 L406.5 465.7 L408.2 466.4 L409.9 466.2 L411.6 466.5 L413.3 466.3 L415 466.7 L416.8 467.3 L418.5 467.2 L420.2 466.8 L421.9 466.8 L423.6 466.3 L425.3 466.4 L427 465.8 L428.7 464.3 L430.4 463 L432.1 462.7 L433.9 462.3 L435.6 461.8 L437.3 461.8 L439 461.9 L440.7 461.5 L442.4 460.4 L444.1 460.6 L445.8 460.3 L447.5 460 L449.2 459.8 L451 459.8 L452.7 459.3 L454.4 459.6 L456.1 459.1 L457.8 459.4 L459.5 460.4 L461.2 460.9 L462.9 461.1 L464.6 462.5 L466.3 462.8 L468.1 463.3 L469.8 463 L471.5 463.6 L473.2 463.1 L474.9 463.6 L476.6 463.4 L478.3 464.4 L480 464.8 L481.7 465.5 L483.4 465.6 L485.2 467.3 L486.9 468.8 L488.6 470.3 L490.3 470.4 L492 470.8 L493.7 470.7 L495.4 470.4 L497.1 470.4 L498.8 470.1 L500.5 469.5 L502.3 469.7 L504 469.5 L505.7 470.6 L507.4 467.8 L509.1 467.1 L510.8 467.2 L512.5 467.1 L514.2 467 L515.9 466.2 L517.6 466.7 L519.4 466.3 L521.1 466.2 L522.8 465.8 L524.5 465.8 L526.2 465.8 L527.9 465.4 L529.6 465.3 L531.3 464.2 L533 464.2 L534.7 463.9 L536.5 462.7 L538.2 460.8 L539.9 463.4 L541.6 465.7 L543.3 465.9 L545 466.3 L546.7 465.9 L548.4 466 L550.1 466.7 L551.8 467.4 L553.6 467.8 L555.3 467.3 L557 466.2 L558.7 465.9 L560.4 465 L562.1 465.2 L563.8 465.1 L565.5 464.7 L567.2 465.4 L568.9 464.3 L570.7 464.8 L572.4 464.6 L574.1 464.9 L575.8 465 L577.5 466.4 L579.2 466.3 L580.9 465.6 L582.6 465.8 L584.3 464.8 L586 465 L587.8 464.5 L589.5 464.5 L591.2 464.7 L592.9 464.4 L594.6 464.1 L596.3 464.9 L598 464.9 L599.7 464.8 L601.4 464.8 L603.1 465.8 L604.9 466.5 L606.6 467.7 L608.3 468.5 L610 468.5 L611.7 468.6 L613.4 469.7 L615.1 468.7 L616.8 468.5 L618.5 468.8 L620.2 469.7 L622 469.9 L623.7 471.4 L625.4 472.8 L627.1 473.5 L628.8 473.4 L630.5 472.8 L632.2 472.5 L633.9 473 L635.6 472 L637.4 472.5 L639.1 472.2 L640.8 471.6 L642.5 470.9 L644.2 471.6 L645.9 471.5 L647.6 472.2 L649.3 472.9 L651 473.4 L652.7 472.6 L654.5 472.1 L656.2 472.2 L657.9 471.6 L659.6 472.1 L661.3 471.7 L663 471.4 L664.7 471.4 L666.4 470.7 L668.1 468.8 L669.8 468.6 L671.6 467.9 L673.3 469.2 L675 469.6 L676.7 469.4 L678.4 469.9 L680.1 469.3 L681.8 469.9 L683.5 468.6 L685.2 468.6 L686.9 468 L688.7 467.6 L690.4 467 L692.1 466.6 L693.8 465.3 L695.5 466.2 L697.2 467 L698.9 468.6 L700.6 469.1 L702.3 468.6 L704 469.2 L705.8 469.8 L707.5 470.3 L709.2 471.5 L710.9 471.5 L712.6 470.3 L714.3 470.1 L716 469.5 L717.7 469.2 L719.4 469.4 L721.1 469.1 L722.9 468.7 L724.6 469.8 L726.3 470.5 L728 471.8 L729.7 472.9 L731.4 473.7 L733.1 474.4 L734.8 473.4 L736.5 470.9 L738.2 469.1 L740 469.9 L741.7 469.5 L743.4 470 L745.1 471 L746.8 470.3 L748.5 471.4 L750.2 471.4 L751.9 471.2 L753.6 471.2 L755.3 472.1 L757.1 473.1 L758.8 473 L760.5 474.3 L762.2 474.9 L763.9 475.4 L765.6 475.7 L767.3 476 L769 476.7 L770.7 476.9 L772.4 475.9 L774.2 475.5 L775.9 475.7 L777.6 475.1 L779.3 475 L781 474.8 L782.7 476.3 L784.4 476.7 L786.1 476.8 L787.8 476.5 L789.5 475.8 L791.3 477.3 L793 477.3 L794.7 478.5 L796.4 479.2 L798.1 479.4 L799.8 479.1 L801.5 479.4 L803.2 480.3 L804.9 479.8 L806.6 481.6 L808.4 480.4 L810.1 478.3 L811.8 478.8 L813.5 478.3 L815.2 478.6 L816.9 479.1 L818.6 478.6 L820.3 478.4 L822 478.7 L823.7 478.7 L825.5 478.8 L827.2 478.3 L828.9 479.1 L830.6 479.3 L832.3 478.9 L834 478 L835.7 477.7 L837.4 476.1 L839.1 475.8 L840.8 477.2 L842.6 477.1 L844.3 478 L846 477.7 L847.7 478.1 L849.4 477.5 L851.1 478.3 L852.8 478.7 L854.5 479.9 L856.2 480.3 L857.9 481.5 L859.7 481.8 L861.4 480.5 L863.1 479.6 L864.8 479.1 L866.5 479.6 L868.2 478.9 L869.9 479.6 L871.6 479.2 L873.3 478.2 L875 478.5 L876.8 477.6 L878.5 477.6 L880.2 478 L881.9 477.7 L883.6 478.5 L885.3 478.1 L887 478.8 L888.7 480.8 L890.4 481.3 L892.1 482.4 L893.9 481.8 L895.6 481.9 L897.3 482.6 L899 482 L900.7 481.9 L902.4 482.1 L904.1 483.2 L905.8 482.4 L907.5 482.2 L909.2 481 L911 482.6 L912.7 483.3 L914.4 483.9 L916.1 484.5 L917.8 485.4 L919.5 485.5 L921.2 485.9 L922.9 485.8 L924.6 487 L926.3 487 L928.1 486.4 L929.8 484.8 L931.5 484.6 L933.2 483.7 L934.9 483.2 L936.6 482.6 L938.3 482.9 L940 482.6 L941.7 482.3 L943.4 482.8 L945.2 483.9 L946.9 484.6 L948.6 486.5 L950.3 486.2 L952 485.6 L953.7 483.6 L955.4 484.6 L957.1 486 L958.8 486.6 L960.5 485.7 L962.3 484.8 L964 483.3 L965.7 482.4 L967.4 482.3 L969.1 482.5 L970.8 482.4 L972.5 483.2 L974.2 482.8 L975.9 483.3 L977.6 483.8 L979.4 484.1 L981.1 484.7 L982.8 484.5 L984.5 484.3 L986.2 483.3 L987.9 483.8 L989.6 482.7 L991.3 482.9 L993 482.1 L994.7 481.9 L996.5 481.6 L998.2 482.1 L999.9 481 L1001.6 482.1 L1003.3 482.5 L1005 483.3 L1006.7 482.8 L1008.4 481.6 L1010.1 481.1 L1011.8 480.3 L1013.6 480.5 L1015.3 480.4 L1017 480.8 L1018.7 481.5 L1020.4 480.8 L1022.1 480.8 L1023.8 481.1 L1025.5 480.4 L1027.2 480.4 L1028.9 479.8 L1030.7 478.7 L1032.4 479.4 L1034.1 481.2 L1035.8 482.7 L1037.5 481.9 L1039.2 480.7 L1040.9 480.4 L1042.6 478.8 L1044.3 478.5 L1046 479 L1047.8 478.3 L1049.5 477.5 L1051.2 477.8 L1052.9 478 L1054.6 477.8 L1056.3 478.1 L1058 478.2 L1059.7 478.7 L1061.4 479.7 L1063.1 479.2 L1064.9 479.6 L1066.6 478.5 L1068.3 478.6 L1070 478.2 L1071.7 478.3 L1073.4 477.5 L1075.1 477.4 L1076.8 477.3 L1078.5 476.9 L1080.2 476.2 L1082 476.6 L1083.7 478.3 L1085.4 477.9 L1087.1 478.9 L1088.8 479.3 L1090.5 479.7 L1092.2 479.2 L1093.9 479.6 L1095.6 479.4 L1097.3 479.8 L1099.1 480 L1100.8 479.3 L1102.5 479.4 L1104.2 478.3 L1105.9 478 L1107.6 478.9 L1109.3 479.1 L1111 479.5 L1112.7 479.5 L1114.4 480 L1116.2 479.9 L1117.9 479.9 L1119.6 478.9 L1121.3 478.8 L1123 479.1 L1124.7 478.1 L1126.4 477.8 L1128.1 477.8 L1129.8 477.3 L1131.5 477.9 L1133.3 477.9 L1135 477.7 L1136.7 477.9 L1138.4 478.3 L1140.1 478.4 L1141.8 478.1 L1143.5 478.3 L1145.2 478.2 L1146.9 477.2 L1148.6 476.6 L1150.4 476.9 L1152.1 475.7 L1153.8 475.8 L1155.5 476.2 L1157.2 476.6 L1158.9 476.6 L1160.6 477.4 L1162.3 478.1 L1164 479.5 L1165.7 479.9 L1167.5 479.7 L1169.2 478.8 L1170.9 478.5 L1172.6 478.4 L1174.3 478.4 L1176 479.7 L1177.7 480.7 L1179.4 481 L1181.1 479.6 L1182.8 478.4 L1184.6 476.8 L1186.3 477.7 L1188 478 L1189.7 478.6 L1191.4 478.4 L1193.1 478 L1194.8 477.5 L1196.5 477.5 L1198.2 476.4 L1199.9 476.3 L1201.7 477.3 L1203.4 477.2 L1205.1 476.7 L1206.8 476.9 L1208.5 476.4 L1210.2 476.1 L1211.9 476.2 L1213.6 475.7 L1215.3 474.7 L1217 474 L1218.8 474 L1220.5 473.7 L1222.2 473.4 L1223.9 473.5 L1225.6 475.1 L1227.3 476.3 L1229 476.9 L1230.7 475.8 L1232.4 476 L1234.1 475.3 L1235.9 475.6 L1237.6 476.3 L1239.3 478 L1241 478 L1242.7 475.9 L1244.4 476.2 L1246.1 477.5 L1247.8 477.5 L1249.5 478 L1251.2 478.6 L1253 478.9 L1254.7 478.6 L1256.4 477.6 L1258.1 477.6 L1259.8 477.2 L1261.5 477.6 L1263.2 479.4 L1264.9 478.6 L1266.6 477.4 L1268.3 477.8 L1270.1 475.9 L1271.8 477.1 L1273.5 477.6 L1275.2 478.7 L1276.9 478.3 L1278.6 478.3 L1280.3 478.6 L1282 478.7 L1283.7 479.4 L1285.4 479.4 L1287.2 480.1 L1288.9 479.5 L1290.6 479.3 L1292.3 478.8 L1294 479.4 L1295.7 478.9 L1297.4 478.4 L1299.1 477.2 L1300.8 475.9 L1302.5 474.7 L1304.3 474.5 L1306 474.4 L1307.7 474.1 L1309.4 474.5 L1311.1 474.7 L1312.8 475.3 L1314.5 475.2 L1316.2 474.1 L1317.9 474.5 L1319.6 475 L1321.4 476.7 L1323.1 478.1 L1324.8 479 L1326.5 478.9 L1328.2 478.1 L1329.9 479.3 L1331.6 481.8 L1333.3 481.4 L1335 479.7 L1336.7 478.8 L1338.5 477.7 L1340.2 476.6 L1341.9 476.2 L1343.6 475.6 L1345.3 475 L1347 474.9 L1348.7 475.1 L1350.4 476.4 L1352.1 476.4 L1353.8 476.5 L1355.6 476.2 L1357.3 476.2 L1359 476 L1360.7 476.1 L1362.4 476.2 L1364.1 477.9 L1365.8 477.2 L1367.5 476 L1369.2 474.6 L1370.9 473.3 L1372.7 473.3 L1374.4 474 L1376.1 474.5 L1377.8 474 L1379.5 473.1 L1381.2 471.9 L1382.9 471.8 L1384.6 470.5 L1386.3 470.4 L1388 469.1 L1389.8 469.4 L1391.5 469.9 L1393.2 470.9 L1394.9 471.4 L1396.6 470.7 L1398.3 470.4 L1400 469.9 L1401.7 469.3 L1403.4 468.6 L1405.1 468.8 L1406.9 469 L1408.6 468.1 L1410.3 469.1 L1412 469 L1413.7 469.3 L1415.4 469.4 L1417.1 470.6 L1418.8 471 L1420.5 471.9 L1422.2 472.4 L1424 472.6 L1425.7 472.6 L1427.4 473 L1429.1 473.4 L1430.8 474.1 L1432.5 473.5 L1434.2 473.2 L1435.9 472.4 L1437 472.3 L1437 498.8 L1435.9 498.3 L1434.2 498.4 L1432.5 498.5 L1430.8 498.8 L1429.1 499.2 L1427.4 499.3 L1425.7 499.7 L1424 499.6 L1422.2 499.8 L1420.5 499.4 L1418.8 500.2 L1417.1 499.4 L1415.4 499.2 L1413.7 499.8 L1412 499.9 L1410.3 499.3 L1408.6 499.1 L1406.9 499 L1405.1 499.2 L1403.4 498.3 L1401.7 498.6 L1400 499.4 L1398.3 499.1 L1396.6 500.3 L1394.9 499.9 L1393.2 499.4 L1391.5 499.6 L1389.8 499.4 L1388 499.7 L1386.3 499.8 L1384.6 498.7 L1382.9 498.6 L1381.2 498.2 L1379.5 498 L1377.8 498.2 L1376.1 497.5 L1374.4 497.4 L1372.7 498 L1370.9 498.2 L1369.2 498.4 L1367.5 498.3 L1365.8 499.5 L1364.1 498.8 L1362.4 499 L1360.7 498.7 L1359 499.1 L1357.3 499 L1355.6 499.2 L1353.8 498.7 L1352.1 498.8 L1350.4 499.1 L1348.7 499.5 L1347 499 L1345.3 499.2 L1343.6 499.2 L1341.9 499.9 L1340.2 499.6 L1338.5 499.9 L1336.7 499.9 L1335 500 L1333.3 499.3 L1331.6 500 L1329.9 499.7 L1328.2 499.3 L1326.5 499.2 L1324.8 498.9 L1323.1 499.1 L1321.4 497.8 L1319.6 496.9 L1317.9 497.9 L1316.2 498.1 L1314.5 498.3 L1312.8 497.5 L1311.1 498 L1309.4 497.5 L1307.7 497.1 L1306 496.8 L1304.3 497.3 L1302.5 496.5 L1300.8 497.2 L1299.1 497.1 L1297.4 496.8 L1295.7 497.1 L1294 497.6 L1292.3 497.8 L1290.6 497.9 L1288.9 497.5 L1287.2 497.8 L1285.4 497.9 L1283.7 497.2 L1282 496.3 L1280.3 496.6 L1278.6 496.8 L1276.9 497 L1275.2 496.3 L1273.5 496.3 L1271.8 496.3 L1270.1 496.9 L1268.3 496.4 L1266.6 496.7 L1264.9 496.1 L1263.2 496.6 L1261.5 496 L1259.8 496.2 L1258.1 496.6 L1256.4 497 L1254.7 496.6 L1253 497 L1251.2 496.4 L1249.5 496.3 L1247.8 496.9 L1246.1 495.6 L1244.4 495.8 L1242.7 495.6 L1241 495.2 L1239.3 496.2 L1237.6 496 L1235.9 496.3 L1234.1 496.1 L1232.4 496.3 L1230.7 497 L1229 496.5 L1227.3 496.1 L1225.6 495.6 L1223.9 495.5 L1222.2 495.7 L1220.5 495.4 L1218.8 495.4 L1217 495.4 L1215.3 495.6 L1213.6 495.2 L1211.9 496.1 L1210.2 496 L1208.5 496.3 L1206.8 496.5 L1205.1 496.2 L1203.4 495.6 L1201.7 495.5 L1199.9 495.5 L1198.2 495.9 L1196.5 496.1 L1194.8 495.4 L1193.1 495.7 L1191.4 496.1 L1189.7 495.8 L1188 495.6 L1186.3 496 L1184.6 495.8 L1182.8 495.9 L1181.1 496.1 L1179.4 495.9 L1177.7 495.5 L1176 495.5 L1174.3 495.3 L1172.6 495.3 L1170.9 495.3 L1169.2 495.7 L1167.5 496 L1165.7 495.6 L1164 496.1 L1162.3 496.2 L1160.6 496 L1158.9 495.5 L1157.2 495.9 L1155.5 495.8 L1153.8 496.1 L1152.1 495.9 L1150.4 496.3 L1148.6 495.6 L1146.9 496.4 L1145.2 496.7 L1143.5 496.1 L1141.8 496.8 L1140.1 496.3 L1138.4 495.8 L1136.7 496 L1135 496.1 L1133.3 495.8 L1131.5 496.4 L1129.8 496.5 L1128.1 495.6 L1126.4 496.3 L1124.7 496.2 L1123 495.6 L1121.3 495.4 L1119.6 495.6 L1117.9 495.9 L1116.2 495.9 L1114.4 497 L1112.7 496.5 L1111 496.4 L1109.3 496.1 L1107.6 495.8 L1105.9 495.8 L1104.2 496.1 L1102.5 495.3 L1100.8 496.3 L1099.1 496.2 L1097.3 496.2 L1095.6 496.5 L1093.9 495.6 L1092.2 495.7 L1090.5 495.7 L1088.8 495 L1087.1 495 L1085.4 495 L1083.7 494.8 L1082 495.4 L1080.2 495.3 L1078.5 495.2 L1076.8 494.4 L1075.1 495.3 L1073.4 494.9 L1071.7 494.9 L1070 495.4 L1068.3 495.4 L1066.6 495.2 L1064.9 495.5 L1063.1 494.9 L1061.4 495.1 L1059.7 494.9 L1058 494.8 L1056.3 494.8 L1054.6 494.4 L1052.9 494.2 L1051.2 494.2 L1049.5 494.8 L1047.8 494.6 L1046 493.5 L1044.3 493.2 L1042.6 493 L1040.9 492.6 L1039.2 493.5 L1037.5 493 L1035.8 493.5 L1034.1 493.3 L1032.4 493.2 L1030.7 493.2 L1028.9 493.1 L1027.2 493.1 L1025.5 492.1 L1023.8 492 L1022.1 491.5 L1020.4 492.4 L1018.7 491.9 L1017 491.7 L1015.3 491.8 L1013.6 492.3 L1011.8 492.1 L1010.1 492.5 L1008.4 492.7 L1006.7 492.2 L1005 492.5 L1003.3 492.8 L1001.6 492.6 L999.9 492.5 L998.2 492 L996.5 491.7 L994.7 491.5 L993 491.3 L991.3 491.2 L989.6 492.3 L987.9 491.5 L986.2 492.3 L984.5 492.7 L982.8 492 L981.1 492.5 L979.4 492.6 L977.6 492.1 L975.9 492.5 L974.2 492.6 L972.5 492.6 L970.8 492.2 L969.1 492.4 L967.4 492 L965.7 492.4 L964 492.6 L962.3 492.9 L960.5 492.7 L958.8 492.1 L957.1 492.5 L955.4 491.9 L953.7 491.6 L952 491.5 L950.3 492.6 L948.6 493.1 L946.9 493.2 L945.2 493.7 L943.4 492.6 L941.7 493.4 L940 493.2 L938.3 492.5 L936.6 493.3 L934.9 493.2 L933.2 493.3 L931.5 494 L929.8 494.1 L928.1 494.8 L926.3 494.5 L924.6 494 L922.9 493.7 L921.2 493 L919.5 492.3 L917.8 491.6 L916.1 492 L914.4 491.5 L912.7 490.6 L911 489.4 L909.2 489 L907.5 488.2 L905.8 488.3 L904.1 489.1 L902.4 488.8 L900.7 488.8 L899 489.5 L897.3 489.4 L895.6 490.7 L893.9 491.2 L892.1 490.8 L890.4 489.6 L888.7 489.1 L887 488.3 L885.3 488.1 L883.6 489.1 L881.9 489.5 L880.2 489.5 L878.5 489.8 L876.8 489.6 L875 489.9 L873.3 490.4 L871.6 491.2 L869.9 491.2 L868.2 490.6 L866.5 490.9 L864.8 490.4 L863.1 490.3 L861.4 490.7 L859.7 491.4 L857.9 491.7 L856.2 491.3 L854.5 491.4 L852.8 491.3 L851.1 491.8 L849.4 490.9 L847.7 491.6 L846 491 L844.3 490.8 L842.6 490.4 L840.8 490.4 L839.1 490.2 L837.4 489.7 L835.7 490.1 L834 490.4 L832.3 491 L830.6 491.5 L828.9 491.2 L827.2 491.3 L825.5 490.7 L823.7 491.3 L822 490.9 L820.3 490.2 L818.6 490.1 L816.9 490.3 L815.2 489.7 L813.5 489.7 L811.8 489.5 L810.1 490.9 L808.4 491.5 L806.6 492.4 L804.9 491.9 L803.2 490.8 L801.5 490 L799.8 489.9 L798.1 490.7 L796.4 490.3 L794.7 489.7 L793 489.1 L791.3 488.7 L789.5 488.3 L787.8 488 L786.1 487.1 L784.4 487.5 L782.7 486.8 L781 487.4 L779.3 486.8 L777.6 486.2 L775.9 486.5 L774.2 486.6 L772.4 486.9 L770.7 487.1 L769 487.4 L767.3 487.8 L765.6 487.6 L763.9 487.1 L762.2 486.9 L760.5 486.8 L758.8 487.2 L757.1 486.6 L755.3 486 L753.6 485.4 L751.9 486.1 L750.2 485.6 L748.5 484.5 L746.8 484.9 L745.1 484.3 L743.4 484.3 L741.7 483.9 L740 485.2 L738.2 485.6 L736.5 486.7 L734.8 487.3 L733.1 487.7 L731.4 487.2 L729.7 485.6 L728 486 L726.3 485.1 L724.6 485.2 L722.9 485.9 L721.1 484.7 L719.4 483.9 L717.7 483 L716 483.2 L714.3 482.1 L712.6 482 L710.9 482.7 L709.2 482.3 L707.5 482.8 L705.8 483.1 L704 482.7 L702.3 482.6 L700.6 482.5 L698.9 482 L697.2 482 L695.5 481 L693.8 481.3 L692.1 481.1 L690.4 481.6 L688.7 481.7 L686.9 481.1 L685.2 481.7 L683.5 481.6 L681.8 481 L680.1 480.9 L678.4 480.3 L676.7 480.9 L675 480.5 L673.3 480 L671.6 480.1 L669.8 480.1 L668.1 479.9 L666.4 480.2 L664.7 480.1 L663 480 L661.3 480.1 L659.6 480.4 L657.9 480.9 L656.2 480.8 L654.5 481.5 L652.7 481.6 L651 481.7 L649.3 481.8 L647.6 481.2 L645.9 481 L644.2 480.8 L642.5 480.4 L640.8 480.1 L639.1 480.4 L637.4 480.4 L635.6 480.7 L633.9 481 L632.2 481.2 L630.5 481.4 L628.8 482 L627.1 482.6 L625.4 483.3 L623.7 482.7 L622 483.4 L620.2 483.4 L618.5 482.3 L616.8 482.3 L615.1 482.2 L613.4 482.1 L611.7 482 L610 483 L608.3 483 L606.6 483 L604.9 482.3 L603.1 481.1 L601.4 480.8 L599.7 480.6 L598 481.5 L596.3 481.2 L594.6 480.3 L592.9 481 L591.2 480.8 L589.5 480.8 L587.8 480.6 L586 479.8 L584.3 480.4 L582.6 480.1 L580.9 479.6 L579.2 479.7 L577.5 479.6 L575.8 478.7 L574.1 478.5 L572.4 477.6 L570.7 477.7 L568.9 478 L567.2 478.4 L565.5 477.8 L563.8 477.9 L562.1 478.1 L560.4 477.7 L558.7 477.8 L557 478.6 L555.3 478.1 L553.6 478.9 L551.8 479.2 L550.1 479.1 L548.4 479 L546.7 478.7 L545 478.8 L543.3 477.7 L541.6 477.5 L539.9 475.7 L538.2 475.1 L536.5 474.8 L534.7 475.1 L533 475.5 L531.3 475.8 L529.6 476.3 L527.9 476.7 L526.2 477.1 L524.5 477.2 L522.8 476.7 L521.1 477.6 L519.4 477.8 L517.6 477.5 L515.9 478.5 L514.2 478.9 L512.5 479.4 L510.8 478.8 L509.1 479.6 L507.4 481 L505.7 481 L504 481.6 L502.3 482.1 L500.5 482.5 L498.8 482.8 L497.1 483.7 L495.4 483.4 L493.7 483.2 L492 483.3 L490.3 483.7 L488.6 482.8 L486.9 481.5 L485.2 479.5 L483.4 479.1 L481.7 479.7 L480 479.5 L478.3 478.6 L476.6 478.7 L474.9 477.9 L473.2 477.7 L471.5 477.5 L469.8 477.6 L468.1 476.9 L466.3 476 L464.6 475.4 L462.9 476.7 L461.2 476.7 L459.5 477.4 L457.8 476.6 L456.1 476.4 L454.4 476 L452.7 476.4 L451 476 L449.2 475.6 L447.5 475.4 L445.8 476.1 L444.1 475.5 L442.4 475.7 L440.7 476.2 L439 476 L437.3 475.4 L435.6 476.1 L433.9 475.6 L432.1 475.6 L430.4 476.1 L428.7 476.1 L427 476.3 L425.3 476.6 L423.6 476.7 L421.9 477.1 L420.2 477.2 L418.5 477.1 L416.8 477.5 L415 476.6 L413.3 475.6 L411.6 475.9 L409.9 477 L408.2 477.3 L406.5 477.2 L404.8 476.7 L403.1 475.5 L401.4 475.2 L399.7 474.6 L397.9 475.4 L396.2 475.4 L394.5 474.4 L392.8 474.7 L391.1 474.1 L389.4 473.6 L387.7 474.3 L386 474.3 L384.3 474.9 L382.6 474.2 L380.8 474.3 L379.1 475 L377.4 474.8 L375.7 475.1 L374 475.7 L372.3 475.3 L370.6 475 L368.9 474.7 L367.2 474.5 L365.5 474.2 L363.7 474.6 L362 475 L360.3 476.1 L358.6 476.7 L356.9 476.5 L355.2 477.4 L353.5 475.8 L351.8 474.8 L350.1 473.9 L348.4 472.2 L346.6 470.9 L344.9 469.7 L343.2 469.3 L341.5 467.4 L339.8 466.2 L338.1 465.6 L336.4 464 L334.7 464.1 L333 464.7 L331.3 464.8 L329.5 466.4 L327.8 467.1 L326.1 469.8 L324.4 473.4 L322.7 476.9 L321 477.6 L319.3 478 L317.6 477.8 L315.9 478.1 L314.2 478.5 L312.4 477 L310.7 477.2 L309 476.4 L307.3 475.5 L305.6 475.8 L303.9 473.7 L302.2 468.8 L300.5 467 L298.8 467.5 L297.1 466.3 L295.4 465.7 L293.6 465 L291.9 465.5 L290.2 465.3 L288.5 466.5 L286.8 467.5 L285.1 468.1 L283.4 469.2 L281.7 470.7 L280 472.9 L278.3 475 L276.5 477.9 L274.8 476.6 L273.1 476.7 L271.4 477.5 L269.7 477.8 L268 478.7 L266.3 480.3 L264.6 482.1 L262.9 474.3 L261.2 476.8 L259.4 477.4 L257.7 477.7 L256 476.9 L254.3 474.6 L252.6 469.9 L250.9 465.3 L249.2 463.4 L247.5 462.8 L245.8 464.2 L244.1 467.7 L242.3 472.9 L240.6 478.8 L238.9 483.4 L237.2 489.7 L235.5 494.6 L233.8 493.7 L232.1 492.9 L230.4 493 L228.7 489.7 L227 488.4 L225.2 487.6 L223.5 485.5 L221.8 483.5 L220.1 484.1 L218.4 484.4 L216.7 485.6 L215 486.1 L213.3 487.5 L211.6 487.6 L209.9 488.6 L208.1 490.2 L206.4 488.1 L204.7 486.3 L203 486.9 L201.3 486.9 L199.6 486.7 L197.9 486.8 L196.2 486.5 L194.5 487.2 L192.8 487.9 L191 488.6 L189.3 489.4 L187.6 490.2 Z" fill="rgba(238,102,51,0.56)"/>
<path d="M191 486.1 L192.8 485.2 L194.5 484.4 L196.2 484.3 L197.9 483.2 L199.6 483.4 L201.3 483.9 L203 483.2 L204.7 483.8 L206.4 484.4 L208.1 485.6 L209.9 485.6 L211.6 484.6 L213.3 483.9 L215 482.2 L216.7 481.4 L218.4 480.4 L220.1 480.1 L221.8 480.3 L223.5 480.7 L225.2 481.8 L227 483 L228.7 484.6 L230.4 488.5 L232.1 488.2 L233.8 489.3 L235.5 490.1 L237.2 485.9 L238.9 478.9 L240.6 473.1 L242.3 468.8 L244.1 462.5 L245.8 459.4 L247.5 459.8 L249.2 459.5 L250.9 461.6 L252.6 466.4 L254.3 470.5 L256 472.8 L257.7 473.3 L259.4 474.5 L261.2 473.7 L262.9 471.4 L264.6 477.8 L266.3 476.4 L268 474.7 L269.7 474.2 L271.4 473.8 L273.1 472.6 L274.8 472.7 L276.5 474.1 L278.3 470.8 L280 468.9 L281.7 466.6 L283.4 465 L285.1 464 L286.8 462.1 L288.5 461.1 L290.2 461.1 L291.9 461.1 L293.6 460.7 L295.4 462.5 L297.1 462.6 L298.8 464.6 L300.5 464.9 L302.2 464.8 L303.9 468.8 L305.6 471 L307.3 470.7 L309 469.8 L310.7 471 L312.4 471.8 L314.2 474.4 L315.9 473.7 L317.6 474.1 L319.3 474.7 L321 473.4 L322.7 471.9 L324.4 469.3 L326.1 464.7 L327.8 462.3 L329.5 458.8 L331.3 457.6 L333 456.7 L334.7 455.5 L336.4 455.3 L338.1 457.3 L339.8 458.1 L341.5 459.7 L343.2 461.3 L344.9 463.9 L346.6 464.7 L348.4 467.2 L350.1 467.8 L351.8 469 L353.5 469.7 L355.2 469.5 L356.9 469.6 L358.6 469.2 L360.3 469.7 L362 469 L363.7 467.9 L365.5 467.4 L367.2 468.4 L368.9 468.1 L370.6 467.8 L372.3 468 L374 468.4 L375.7 468.2 L377.4 467.7 L379.1 466.8 L380.8 465.9 L382.6 466.7 L384.3 465 L386 465.3 L387.7 465.1 L389.4 464.2 L391.1 464.3 L392.8 464.3 L394.5 464.3 L396.2 463.8 L397.9 463.3 L399.7 463.6 L401.4 463 L403.1 463.5 L404.8 462.9 L406.5 463.2 L408.2 464 L409.9 463.9 L411.6 464.5 L413.3 463.9 L415 464.2 L416.8 465.1 L418.5 464.8 L420.2 464.4 L421.9 464.6 L423.6 464.3 L425.3 464 L427 463.6 L428.7 462.3 L430.4 461 L432.1 460.4 L433.9 460.4 L435.6 459.5 L437.3 459.8 L439 459.9 L440.7 459.6 L442.4 458.3 L444.1 458.3 L445.8 458 L447.5 458 L449.2 457.6 L451 458 L452.7 457.2 L454.4 458 L456.1 457.1 L457.8 457.3 L459.5 458.3 L461.2 459 L462.9 459.1 L464.6 460.4 L466.3 460.5 L468.1 461.2 L469.8 461.1 L471.5 461.4 L473.2 461.2 L474.9 461 L476.6 461.3 L478.3 462.2 L480 462.2 L481.7 462.8 L483.4 462.7 L485.2 464.5 L486.9 465.4 L488.6 467.2 L490.3 467.1 L492 467.3 L493.7 467.5 L495.4 467.1 L497.1 466.7 L498.8 466.7 L500.5 465.9 L502.3 466.1 L504 466 L505.7 466.6 L507.4 464.3 L509.1 463.5 L510.8 463.9 L512.5 463.5 L514.2 463.8 L515.9 463 L517.6 463.6 L519.4 463.3 L521.1 462.8 L522.8 462.7 L524.5 462.9 L526.2 463 L527.9 462.5 L529.6 462.2 L531.3 461.3 L533 461.5 L534.7 461.1 L536.5 459.9 L538.2 458.2 L539.9 460.9 L541.6 463.2 L543.3 463 L545 463.9 L546.7 463.2 L548.4 463.6 L550.1 463.7 L551.8 465 L553.6 465.2 L555.3 464.9 L557 463.8 L558.7 463.4 L560.4 462 L562.1 462.3 L563.8 462.2 L565.5 462 L567.2 462.4 L568.9 461.3 L570.7 461.7 L572.4 461.4 L574.1 462.2 L575.8 462.4 L577.5 463.3 L579.2 463.5 L580.9 462.5 L582.6 462.8 L584.3 461.7 L586 462 L587.8 461.2 L589.5 461.2 L591.2 461.5 L592.9 461 L594.6 461 L596.3 462.2 L598 461.8 L599.7 461.8 L601.4 462.3 L603.1 463 L604.9 463.9 L606.6 465.6 L608.3 466.4 L610 466.1 L611.7 466.1 L613.4 467.2 L615.1 466.2 L616.8 466.3 L618.5 466.7 L620.2 467.4 L622 467.7 L623.7 469.1 L625.4 470.5 L627.1 471.1 L628.8 471.1 L630.5 470 L632.2 469.9 L633.9 470.4 L635.6 469.7 L637.4 470.1 L639.1 469.8 L640.8 469.5 L642.5 468.6 L644.2 469.2 L645.9 469.2 L647.6 470.1 L649.3 470.9 L651 471.5 L652.7 470.7 L654.5 470.1 L656.2 470.4 L657.9 469.9 L659.6 470.3 L661.3 470.3 L663 469.8 L664.7 470.1 L666.4 469.3 L668.1 467.1 L669.8 467.2 L671.6 466.3 L673.3 467.6 L675 468 L676.7 468 L678.4 468.5 L680.1 467.8 L681.8 468 L683.5 466.9 L685.2 466.7 L686.9 465.9 L688.7 465.8 L690.4 465.2 L692.1 465 L693.8 463.4 L695.5 464.5 L697.2 465.1 L698.9 466.5 L700.6 467.3 L702.3 466.6 L704 467.3 L705.8 467.7 L707.5 468.2 L709.2 469.9 L710.9 469.4 L712.6 468.2 L714.3 468 L716 467.3 L717.7 467.5 L719.4 467.7 L721.1 467.2 L722.9 466.6 L724.6 468 L726.3 468.4 L728 469.5 L729.7 471 L731.4 471.5 L733.1 472.1 L734.8 471.1 L736.5 468.7 L738.2 466.8 L740 467.8 L741.7 467.5 L743.4 467.9 L745.1 468.6 L746.8 468.3 L748.5 469 L750.2 469.3 L751.9 469.4 L753.6 469.3 L755.3 470.3 L757.1 471.2 L758.8 470.9 L760.5 472.1 L762.2 473 L763.9 473.6 L765.6 473.7 L767.3 474 L769 475 L770.7 475 L772.4 474.1 L774.2 473.8 L775.9 474.2 L777.6 473.1 L779.3 473.1 L781 473.3 L782.7 474.7 L784.4 474.7 L786.1 474.9 L787.8 474.7 L789.5 474.2 L791.3 476 L793 475.6 L794.7 476.7 L796.4 477.8 L798.1 477.8 L799.8 477.8 L801.5 478.2 L803.2 479.1 L804.9 478.4 L806.6 480.1 L808.4 478.6 L810.1 477 L811.8 477.2 L813.5 476.8 L815.2 477.1 L816.9 477.9 L818.6 477.2 L820.3 477.1 L822 477.5 L823.7 476.9 L825.5 477.2 L827.2 477 L828.9 477.7 L830.6 478.1 L832.3 477.2 L834 476.5 L835.7 476.4 L837.4 474.7 L839.1 474.4 L840.8 476 L842.6 475.4 L844.3 476.3 L846 476.4 L847.7 476.6 L849.4 475.8 L851.1 477 L852.8 477.1 L854.5 478.2 L856.2 478.7 L857.9 479.7 L859.7 480.2 L861.4 479.2 L863.1 478.1 L864.8 478 L866.5 477.9 L868.2 477.3 L869.9 477.9 L871.6 477.8 L873.3 476.5 L875 477.2 L876.8 476.2 L878.5 476.2 L880.2 476.8 L881.9 476.4 L883.6 477.4 L885.3 476.5 L887 477.3 L888.7 479.7 L890.4 479.8 L892.1 480.8 L893.9 480.4 L895.6 480.3 L897.3 481.4 L899 480.7 L900.7 480.2 L902.4 481 L904.1 481.8 L905.8 480.9 L907.5 480.9 L909.2 479.9 L911 481.1 L912.7 481.6 L914.4 482.3 L916.1 482.9 L917.8 484 L919.5 484 L921.2 484.7 L922.9 484.3 L924.6 485.3 L926.3 485.6 L928.1 484.7 L929.8 483.3 L931.5 483.1 L933.2 482.1 L934.9 481.9 L936.6 481.5 L938.3 481.4 L940 481.2 L941.7 480.8 L943.4 481.6 L945.2 482.5 L946.9 482.9 L948.6 485.3 L950.3 484.7 L952 483.9 L953.7 482 L955.4 483.5 L957.1 484.8 L958.8 485.1 L960.5 484.4 L962.3 483.5 L964 481.7 L965.7 481.2 L967.4 481.1 L969.1 481.4 L970.8 480.8 L972.5 481.9 L974.2 481.4 L975.9 482.2 L977.6 482.4 L979.4 482.9 L981.1 483.6 L982.8 483.1 L984.5 483 L986.2 482.2 L987.9 482.2 L989.6 481.7 L991.3 481.5 L993 480.8 L994.7 480.5 L996.5 480.5 L998.2 480.8 L999.9 479.8 L1001.6 480.6 L1003.3 481.5 L1005 482.2 L1006.7 481.6 L1008.4 480.1 L1010.1 479.7 L1011.8 479 L1013.6 479 L1015.3 479.3 L1017 479.4 L1018.7 480.5 L1020.4 479.4 L1022.1 479.6 L1023.8 479.9 L1025.5 479.1 L1027.2 479 L1028.9 478.3 L1030.7 477.3 L1032.4 478.1 L1034.1 480.1 L1035.8 481.7 L1037.5 480.9 L1039.2 479.7 L1040.9 478.9 L1042.6 477.2 L1044.3 477.1 L1046 477.4 L1047.8 476.8 L1049.5 476.3 L1051.2 476.3 L1052.9 476.8 L1054.6 476.5 L1056.3 476.7 L1058 477.2 L1059.7 477.2 L1061.4 478.7 L1063.1 477.9 L1064.9 478.4 L1066.6 477 L1068.3 477.5 L1070 477.1 L1071.7 476.8 L1073.4 476.2 L1075.1 476.2 L1076.8 476 L1078.5 475.7 L1080.2 475 L1082 475.2 L1083.7 477.1 L1085.4 476.8 L1087.1 477.6 L1088.8 478.1 L1090.5 478.5 L1092.2 477.9 L1093.9 478 L1095.6 478.1 L1097.3 478.7 L1099.1 478.9 L1100.8 477.8 L1102.5 478.1 L1104.2 477.1 L1105.9 476.8 L1107.6 477.5 L1109.3 478 L1111 478.4 L1112.7 478.3 L1114.4 479 L1116.2 478.7 L1117.9 478.3 L1119.6 477.5 L1121.3 477.7 L1123 477.6 L1124.7 477.2 L1126.4 476.7 L1128.1 476.7 L1129.8 475.9 L1131.5 476.4 L1133.3 476.9 L1135 476.5 L1136.7 476.7 L1138.4 477.1 L1140.1 477.4 L1141.8 476.8 L1143.5 477.2 L1145.2 476.8 L1146.9 476.3 L1148.6 475.5 L1150.4 475.6 L1152.1 474.5 L1153.8 474.8 L1155.5 474.9 L1157.2 475.6 L1158.9 475.7 L1160.6 476.5 L1162.3 476.9 L1164 478.6 L1165.7 478.8 L1167.5 478.8 L1169.2 477.5 L1170.9 477.4 L1172.6 477.3 L1174.3 477.5 L1176 478.6 L1177.7 479.4 L1179.4 479.8 L1181.1 478.8 L1182.8 477.6 L1184.6 475.8 L1186.3 476.4 L1188 477.1 L1189.7 477.8 L1191.4 477.2 L1193.1 476.9 L1194.8 476.4 L1196.5 476.2 L1198.2 475.6 L1199.9 475.1 L1201.7 476 L1203.4 476.4 L1205.1 475.4 L1206.8 476 L1208.5 475.6 L1210.2 475 L1211.9 475.1 L1213.6 474.5 L1215.3 473.8 L1217 473.3 L1218.8 473.1 L1220.5 472.7 L1222.2 472.4 L1223.9 472.4 L1225.6 474.2 L1227.3 475.2 L1229 475.8 L1230.7 474.9 L1232.4 474.9 L1234.1 474.6 L1235.9 474.7 L1237.6 475.1 L1239.3 476.7 L1241 477.1 L1242.7 474.7 L1244.4 475.2 L1246.1 476.5 L1247.8 476.7 L1249.5 476.9 L1251.2 477.6 L1253 478.1 L1254.7 477.4 L1256.4 476.5 L1258.1 476.8 L1259.8 476.1 L1261.5 476.8 L1263.2 478.2 L1264.9 477.4 L1266.6 476.3 L1268.3 476.7 L1270.1 474.8 L1271.8 475.9 L1273.5 476.5 L1275.2 477.9 L1276.9 477.6 L1278.6 477.4 L1280.3 477.4 L1282 477.8 L1283.7 478.2 L1285.4 478.1 L1287.2 479.2 L1288.9 478.3 L1290.6 478.1 L1292.3 478 L1294 478.1 L1295.7 477.7 L1297.4 477.2 L1299.1 476.4 L1300.8 475 L1302.5 473.5 L1304.3 473.3 L1306 473.6 L1307.7 472.9 L1309.4 473.7 L1311.1 473.8 L1312.8 474.4 L1314.5 474.2 L1316.2 473 L1317.9 473.4 L1319.6 474.1 L1321.4 475.5 L1323.1 477.1 L1324.8 477.9 L1326.5 477.8 L1328.2 477.3 L1329.9 478.4 L1331.6 480.9 L1333.3 480.5 L1335 478.4 L1336.7 478 L1338.5 476.9 L1340.2 475.8 L1341.9 475.3 L1343.6 474.8 L1345.3 474.3 L1347 473.8 L1348.7 473.9 L1350.4 475.3 L1352.1 475.1 L1353.8 475.3 L1355.6 475 L1357.3 474.9 L1359 475 L1360.7 474.8 L1362.4 475.2 L1364.1 477 L1365.8 476.2 L1367.5 474.6 L1369.2 473.6 L1370.9 472 L1372.7 472.3 L1374.4 472.9 L1376.1 473.3 L1377.8 472.5 L1379.5 471.9 L1381.2 470 L1382.9 470.3 L1384.6 468.4 L1386.3 468.2 L1388 466.8 L1389.8 466.8 L1391.5 467.8 L1393.2 468.3 L1394.9 469 L1396.6 468.2 L1398.3 468 L1400 467.7 L1401.7 466.9 L1403.4 466 L1405.1 466.5 L1406.9 466.4 L1408.6 465.3 L1410.3 466.7 L1412 466.7 L1413.7 466.9 L1415.4 467 L1417.1 468.3 L1418.8 468.7 L1420.5 469.4 L1422.2 469.6 L1424 470.1 L1425.7 470 L1427.4 470.7 L1429.1 471.1 L1430.8 471.8 L1432.5 471.4 L1434.2 471.3 L1435.9 471 L1437 471 L1437 472.3 L1435.9 472.4 L1434.2 473.2 L1432.5 473.5 L1430.8 474.1 L1429.1 473.4 L1427.4 473 L1425.7 472.6 L1424 472.6 L1422.2 472.4 L1420.5 471.9 L1418.8 471 L1417.1 470.6 L1415.4 469.4 L1413.7 469.3 L1412 469 L1410.3 469.1 L1408.6 468.1 L1406.9 469 L1405.1 468.8 L1403.4 468.6 L1401.7 469.3 L1400 469.9 L1398.3 470.4 L1396.6 470.7 L1394.9 471.4 L1393.2 470.9 L1391.5 469.9 L1389.8 469.4 L1388 469.1 L1386.3 470.4 L1384.6 470.5 L1382.9 471.8 L1381.2 471.9 L1379.5 473.1 L1377.8 474 L1376.1 474.5 L1374.4 474 L1372.7 473.3 L1370.9 473.3 L1369.2 474.6 L1367.5 476 L1365.8 477.2 L1364.1 477.9 L1362.4 476.2 L1360.7 476.1 L1359 476 L1357.3 476.2 L1355.6 476.2 L1353.8 476.5 L1352.1 476.4 L1350.4 476.4 L1348.7 475.1 L1347 474.9 L1345.3 475 L1343.6 475.6 L1341.9 476.2 L1340.2 476.6 L1338.5 477.7 L1336.7 478.8 L1335 479.7 L1333.3 481.4 L1331.6 481.8 L1329.9 479.3 L1328.2 478.1 L1326.5 478.9 L1324.8 479 L1323.1 478.1 L1321.4 476.7 L1319.6 475 L1317.9 474.5 L1316.2 474.1 L1314.5 475.2 L1312.8 475.3 L1311.1 474.7 L1309.4 474.5 L1307.7 474.1 L1306 474.4 L1304.3 474.5 L1302.5 474.7 L1300.8 475.9 L1299.1 477.2 L1297.4 478.4 L1295.7 478.9 L1294 479.4 L1292.3 478.8 L1290.6 479.3 L1288.9 479.5 L1287.2 480.1 L1285.4 479.4 L1283.7 479.4 L1282 478.7 L1280.3 478.6 L1278.6 478.3 L1276.9 478.3 L1275.2 478.7 L1273.5 477.6 L1271.8 477.1 L1270.1 475.9 L1268.3 477.8 L1266.6 477.4 L1264.9 478.6 L1263.2 479.4 L1261.5 477.6 L1259.8 477.2 L1258.1 477.6 L1256.4 477.6 L1254.7 478.6 L1253 478.9 L1251.2 478.6 L1249.5 478 L1247.8 477.5 L1246.1 477.5 L1244.4 476.2 L1242.7 475.9 L1241 478 L1239.3 478 L1237.6 476.3 L1235.9 475.6 L1234.1 475.3 L1232.4 476 L1230.7 475.8 L1229 476.9 L1227.3 476.3 L1225.6 475.1 L1223.9 473.5 L1222.2 473.4 L1220.5 473.7 L1218.8 474 L1217 474 L1215.3 474.7 L1213.6 475.7 L1211.9 476.2 L1210.2 476.1 L1208.5 476.4 L1206.8 476.9 L1205.1 476.7 L1203.4 477.2 L1201.7 477.3 L1199.9 476.3 L1198.2 476.4 L1196.5 477.5 L1194.8 477.5 L1193.1 478 L1191.4 478.4 L1189.7 478.6 L1188 478 L1186.3 477.7 L1184.6 476.8 L1182.8 478.4 L1181.1 479.6 L1179.4 481 L1177.7 480.7 L1176 479.7 L1174.3 478.4 L1172.6 478.4 L1170.9 478.5 L1169.2 478.8 L1167.5 479.7 L1165.7 479.9 L1164 479.5 L1162.3 478.1 L1160.6 477.4 L1158.9 476.6 L1157.2 476.6 L1155.5 476.2 L1153.8 475.8 L1152.1 475.7 L1150.4 476.9 L1148.6 476.6 L1146.9 477.2 L1145.2 478.2 L1143.5 478.3 L1141.8 478.1 L1140.1 478.4 L1138.4 478.3 L1136.7 477.9 L1135 477.7 L1133.3 477.9 L1131.5 477.9 L1129.8 477.3 L1128.1 477.8 L1126.4 477.8 L1124.7 478.1 L1123 479.1 L1121.3 478.8 L1119.6 478.9 L1117.9 479.9 L1116.2 479.9 L1114.4 480 L1112.7 479.5 L1111 479.5 L1109.3 479.1 L1107.6 478.9 L1105.9 478 L1104.2 478.3 L1102.5 479.4 L1100.8 479.3 L1099.1 480 L1097.3 479.8 L1095.6 479.4 L1093.9 479.6 L1092.2 479.2 L1090.5 479.7 L1088.8 479.3 L1087.1 478.9 L1085.4 477.9 L1083.7 478.3 L1082 476.6 L1080.2 476.2 L1078.5 476.9 L1076.8 477.3 L1075.1 477.4 L1073.4 477.5 L1071.7 478.3 L1070 478.2 L1068.3 478.6 L1066.6 478.5 L1064.9 479.6 L1063.1 479.2 L1061.4 479.7 L1059.7 478.7 L1058 478.2 L1056.3 478.1 L1054.6 477.8 L1052.9 478 L1051.2 477.8 L1049.5 477.5 L1047.8 478.3 L1046 479 L1044.3 478.5 L1042.6 478.8 L1040.9 480.4 L1039.2 480.7 L1037.5 481.9 L1035.8 482.7 L1034.1 481.2 L1032.4 479.4 L1030.7 478.7 L1028.9 479.8 L1027.2 480.4 L1025.5 480.4 L1023.8 481.1 L1022.1 480.8 L1020.4 480.8 L1018.7 481.5 L1017 480.8 L1015.3 480.4 L1013.6 480.5 L1011.8 480.3 L1010.1 481.1 L1008.4 481.6 L1006.7 482.8 L1005 483.3 L1003.3 482.5 L1001.6 482.1 L999.9 481 L998.2 482.1 L996.5 481.6 L994.7 481.9 L993 482.1 L991.3 482.9 L989.6 482.7 L987.9 483.8 L986.2 483.3 L984.5 484.3 L982.8 484.5 L981.1 484.7 L979.4 484.1 L977.6 483.8 L975.9 483.3 L974.2 482.8 L972.5 483.2 L970.8 482.4 L969.1 482.5 L967.4 482.3 L965.7 482.4 L964 483.3 L962.3 484.8 L960.5 485.7 L958.8 486.6 L957.1 486 L955.4 484.6 L953.7 483.6 L952 485.6 L950.3 486.2 L948.6 486.5 L946.9 484.6 L945.2 483.9 L943.4 482.8 L941.7 482.3 L940 482.6 L938.3 482.9 L936.6 482.6 L934.9 483.2 L933.2 483.7 L931.5 484.6 L929.8 484.8 L928.1 486.4 L926.3 487 L924.6 487 L922.9 485.8 L921.2 485.9 L919.5 485.5 L917.8 485.4 L916.1 484.5 L914.4 483.9 L912.7 483.3 L911 482.6 L909.2 481 L907.5 482.2 L905.8 482.4 L904.1 483.2 L902.4 482.1 L900.7 481.9 L899 482 L897.3 482.6 L895.6 481.9 L893.9 481.8 L892.1 482.4 L890.4 481.3 L888.7 480.8 L887 478.8 L885.3 478.1 L883.6 478.5 L881.9 477.7 L880.2 478 L878.5 477.6 L876.8 477.6 L875 478.5 L873.3 478.2 L871.6 479.2 L869.9 479.6 L868.2 478.9 L866.5 479.6 L864.8 479.1 L863.1 479.6 L861.4 480.5 L859.7 481.8 L857.9 481.5 L856.2 480.3 L854.5 479.9 L852.8 478.7 L851.1 478.3 L849.4 477.5 L847.7 478.1 L846 477.7 L844.3 478 L842.6 477.1 L840.8 477.2 L839.1 475.8 L837.4 476.1 L835.7 477.7 L834 478 L832.3 478.9 L830.6 479.3 L828.9 479.1 L827.2 478.3 L825.5 478.8 L823.7 478.7 L822 478.7 L820.3 478.4 L818.6 478.6 L816.9 479.1 L815.2 478.6 L813.5 478.3 L811.8 478.8 L810.1 478.3 L808.4 480.4 L806.6 481.6 L804.9 479.8 L803.2 480.3 L801.5 479.4 L799.8 479.1 L798.1 479.4 L796.4 479.2 L794.7 478.5 L793 477.3 L791.3 477.3 L789.5 475.8 L787.8 476.5 L786.1 476.8 L784.4 476.7 L782.7 476.3 L781 474.8 L779.3 475 L777.6 475.1 L775.9 475.7 L774.2 475.5 L772.4 475.9 L770.7 476.9 L769 476.7 L767.3 476 L765.6 475.7 L763.9 475.4 L762.2 474.9 L760.5 474.3 L758.8 473 L757.1 473.1 L755.3 472.1 L753.6 471.2 L751.9 471.2 L750.2 471.4 L748.5 471.4 L746.8 470.3 L745.1 471 L743.4 470 L741.7 469.5 L740 469.9 L738.2 469.1 L736.5 470.9 L734.8 473.4 L733.1 474.4 L731.4 473.7 L729.7 472.9 L728 471.8 L726.3 470.5 L724.6 469.8 L722.9 468.7 L721.1 469.1 L719.4 469.4 L717.7 469.2 L716 469.5 L714.3 470.1 L712.6 470.3 L710.9 471.5 L709.2 471.5 L707.5 470.3 L705.8 469.8 L704 469.2 L702.3 468.6 L700.6 469.1 L698.9 468.6 L697.2 467 L695.5 466.2 L693.8 465.3 L692.1 466.6 L690.4 467 L688.7 467.6 L686.9 468 L685.2 468.6 L683.5 468.6 L681.8 469.9 L680.1 469.3 L678.4 469.9 L676.7 469.4 L675 469.6 L673.3 469.2 L671.6 467.9 L669.8 468.6 L668.1 468.8 L666.4 470.7 L664.7 471.4 L663 471.4 L661.3 471.7 L659.6 472.1 L657.9 471.6 L656.2 472.2 L654.5 472.1 L652.7 472.6 L651 473.4 L649.3 472.9 L647.6 472.2 L645.9 471.5 L644.2 471.6 L642.5 470.9 L640.8 471.6 L639.1 472.2 L637.4 472.5 L635.6 472 L633.9 473 L632.2 472.5 L630.5 472.8 L628.8 473.4 L627.1 473.5 L625.4 472.8 L623.7 471.4 L622 469.9 L620.2 469.7 L618.5 468.8 L616.8 468.5 L615.1 468.7 L613.4 469.7 L611.7 468.6 L610 468.5 L608.3 468.5 L606.6 467.7 L604.9 466.5 L603.1 465.8 L601.4 464.8 L599.7 464.8 L598 464.9 L596.3 464.9 L594.6 464.1 L592.9 464.4 L591.2 464.7 L589.5 464.5 L587.8 464.5 L586 465 L584.3 464.8 L582.6 465.8 L580.9 465.6 L579.2 466.3 L577.5 466.4 L575.8 465 L574.1 464.9 L572.4 464.6 L570.7 464.8 L568.9 464.3 L567.2 465.4 L565.5 464.7 L563.8 465.1 L562.1 465.2 L560.4 465 L558.7 465.9 L557 466.2 L555.3 467.3 L553.6 467.8 L551.8 467.4 L550.1 466.7 L548.4 466 L546.7 465.9 L545 466.3 L543.3 465.9 L541.6 465.7 L539.9 463.4 L538.2 460.8 L536.5 462.7 L534.7 463.9 L533 464.2 L531.3 464.2 L529.6 465.3 L527.9 465.4 L526.2 465.8 L524.5 465.8 L522.8 465.8 L521.1 466.2 L519.4 466.3 L517.6 466.7 L515.9 466.2 L514.2 467 L512.5 467.1 L510.8 467.2 L509.1 467.1 L507.4 467.8 L505.7 470.6 L504 469.5 L502.3 469.7 L500.5 469.5 L498.8 470.1 L497.1 470.4 L495.4 470.4 L493.7 470.7 L492 470.8 L490.3 470.4 L488.6 470.3 L486.9 468.8 L485.2 467.3 L483.4 465.6 L481.7 465.5 L480 464.8 L478.3 464.4 L476.6 463.4 L474.9 463.6 L473.2 463.1 L471.5 463.6 L469.8 463 L468.1 463.3 L466.3 462.8 L464.6 462.5 L462.9 461.1 L461.2 460.9 L459.5 460.4 L457.8 459.4 L456.1 459.1 L454.4 459.6 L452.7 459.3 L451 459.8 L449.2 459.8 L447.5 460 L445.8 460.3 L444.1 460.6 L442.4 460.4 L440.7 461.5 L439 461.9 L437.3 461.8 L435.6 461.8 L433.9 462.3 L432.1 462.7 L430.4 463 L428.7 464.3 L427 465.8 L425.3 466.4 L423.6 466.3 L421.9 466.8 L420.2 466.8 L418.5 467.2 L416.8 467.3 L415 466.7 L413.3 466.3 L411.6 466.5 L409.9 466.2 L408.2 466.4 L406.5 465.7 L404.8 465.6 L403.1 466.2 L401.4 465.4 L399.7 465.8 L397.9 465.5 L396.2 466.5 L394.5 466.4 L392.8 466.9 L391.1 466.7 L389.4 466.3 L387.7 467.5 L386 467.4 L384.3 467.2 L382.6 468.6 L380.8 468.1 L379.1 469 L377.4 469.6 L375.7 470.6 L374 470.7 L372.3 470.2 L370.6 470.3 L368.9 470.4 L367.2 470.8 L365.5 469.7 L363.7 470.2 L362 471.5 L360.3 471.5 L358.6 471.2 L356.9 471 L355.2 471 L353.5 471 L351.8 470.3 L350.1 469.3 L348.4 468.6 L346.6 466.2 L344.9 465.1 L343.2 463.1 L341.5 461.2 L339.8 459.4 L338.1 459 L336.4 457 L334.7 457.1 L333 458.1 L331.3 459.3 L329.5 460.6 L327.8 463.7 L326.1 466.2 L324.4 470.7 L322.7 473.4 L321 475.1 L319.3 476 L317.6 475.6 L315.9 474.8 L314.2 475.5 L312.4 473.3 L310.7 471.9 L309 470.6 L307.3 472 L305.6 472.4 L303.9 469.8 L302.2 465.8 L300.5 466.1 L298.8 465.3 L297.1 463.5 L295.4 463.7 L293.6 461.7 L291.9 462.3 L290.2 461.9 L288.5 462.1 L286.8 463.1 L285.1 464.7 L283.4 465.9 L281.7 467.8 L280 470.1 L278.3 471.7 L276.5 475.2 L274.8 473.9 L273.1 473.7 L271.4 474.4 L269.7 475 L268 475.8 L266.3 477.2 L264.6 478.8 L262.9 472 L261.2 474.6 L259.4 475.6 L257.7 474.1 L256 473.7 L254.3 471.5 L252.6 467 L250.9 462.2 L249.2 460.4 L247.5 460.4 L245.8 460.3 L244.1 463.4 L242.3 469.6 L240.6 474 L238.9 479.6 L237.2 486.5 L235.5 490.7 L233.8 490.2 L232.1 489.1 L230.4 489 L228.7 485.3 L227 483.5 L225.2 482.4 L223.5 481.1 L221.8 481 L220.1 481 L218.4 481.1 L216.7 482.3 L215 482.7 L213.3 484.5 L211.6 485 L209.9 486.2 L208.1 486.5 L206.4 484.9 L204.7 484.3 L203 484 L201.3 484.2 L199.6 483.9 L197.9 484 L196.2 484.6 L194.5 485.1 L192.8 485.8 L191 486.7 Z" fill="rgba(98,151,171,0.6)"/>
<polyline points="191,486.1 192.8,485.2 194.5,484.4 196.2,484.3 197.9,483.2 199.6,483.4 201.3,483.9 203,483.2 204.7,483.8 206.4,484.4 208.1,485.6 209.9,485.6 211.6,484.6 213.3,483.9 215,482.2 216.7,481.4 218.4,480.4 220.1,480.1 221.8,480.3 223.5,480.7 225.2,481.8 227,483 228.7,484.6 230.4,488.5 232.1,488.2 233.8,489.3 235.5,490.1 237.2,485.9 238.9,478.9 240.6,473.1 242.3,468.8 244.1,462.5 245.8,459.4 247.5,459.8 249.2,459.5 250.9,461.6 252.6,466.4 254.3,470.5 256,472.8 257.7,473.3 259.4,474.5 261.2,473.7 262.9,471.4 264.6,477.8 266.3,476.4 268,474.7 269.7,474.2 271.4,473.8 273.1,472.6 274.8,472.7 276.5,474.1 278.3,470.8 280,468.9 281.7,466.6 283.4,465 285.1,464 286.8,462.1 288.5,461.1 290.2,461.1 291.9,461.1 293.6,460.7 295.4,462.5 297.1,462.6 298.8,464.6 300.5,464.9 302.2,464.8 303.9,468.8 305.6,471 307.3,470.7 309,469.8 310.7,471 312.4,471.8 314.2,474.4 315.9,473.7 317.6,474.1 319.3,474.7 321,473.4 322.7,471.9 324.4,469.3 326.1,464.7 327.8,462.3 329.5,458.8 331.3,457.6 333,456.7 334.7,455.5 336.4,455.3 338.1,457.3 339.8,458.1 341.5,459.7 343.2,461.3 344.9,463.9 346.6,464.7 348.4,467.2 350.1,467.8 351.8,469 353.5,469.7 355.2,469.5 356.9,469.6 358.6,469.2 360.3,469.7 362,469 363.7,467.9 365.5,467.4 367.2,468.4 368.9,468.1 370.6,467.8 372.3,468 374,468.4 375.7,468.2 377.4,467.7 379.1,466.8 380.8,465.9 382.6,466.7 384.3,465 386,465.3 387.7,465.1 389.4,464.2 391.1,464.3 392.8,464.3 394.5,464.3 396.2,463.8 397.9,463.3 399.7,463.6 401.4,463 403.1,463.5 404.8,462.9 406.5,463.2 408.2,464 409.9,463.9 411.6,464.5 413.3,463.9 415,464.2 416.8,465.1 418.5,464.8 420.2,464.4 421.9,464.6 423.6,464.3 425.3,464 427,463.6 428.7,462.3 430.4,461 432.1,460.4 433.9,460.4 435.6,459.5 437.3,459.8 439,459.9 440.7,459.6 442.4,458.3 444.1,458.3 445.8,458 447.5,458 449.2,457.6 451,458 452.7,457.2 454.4,458 456.1,457.1 457.8,457.3 459.5,458.3 461.2,459 462.9,459.1 464.6,460.4 466.3,460.5 468.1,461.2 469.8,461.1 471.5,461.4 473.2,461.2 474.9,461 476.6,461.3 478.3,462.2 480,462.2 481.7,462.8 483.4,462.7 485.2,464.5 486.9,465.4 488.6,467.2 490.3,467.1 492,467.3 493.7,467.5 495.4,467.1 497.1,466.7 498.8,466.7 500.5,465.9 502.3,466.1 504,466 505.7,466.6 507.4,464.3 509.1,463.5 510.8,463.9 512.5,463.5 514.2,463.8 515.9,463 517.6,463.6 519.4,463.3 521.1,462.8 522.8,462.7 524.5,462.9 526.2,463 527.9,462.5 529.6,462.2 531.3,461.3 533,461.5 534.7,461.1 536.5,459.9 538.2,458.2 539.9,460.9 541.6,463.2 543.3,463 545,463.9 546.7,463.2 548.4,463.6 550.1,463.7 551.8,465 553.6,465.2 555.3,464.9 557,463.8 558.7,463.4 560.4,462 562.1,462.3 563.8,462.2 565.5,462 567.2,462.4 568.9,461.3 570.7,461.7 572.4,461.4 574.1,462.2 575.8,462.4 577.5,463.3 579.2,463.5 580.9,462.5 582.6,462.8 584.3,461.7 586,462 587.8,461.2 589.5,461.2 591.2,461.5 592.9,461 594.6,461 596.3,462.2 598,461.8 599.7,461.8 601.4,462.3 603.1,463 604.9,463.9 606.6,465.6 608.3,466.4 610,466.1 611.7,466.1 613.4,467.2 615.1,466.2 616.8,466.3 618.5,466.7 620.2,467.4 622,467.7 623.7,469.1 625.4,470.5 627.1,471.1 628.8,471.1 630.5,470 632.2,469.9 633.9,470.4 635.6,469.7 637.4,470.1 639.1,469.8 640.8,469.5 642.5,468.6 644.2,469.2 645.9,469.2 647.6,470.1 649.3,470.9 651,471.5 652.7,470.7 654.5,470.1 656.2,470.4 657.9,469.9 659.6,470.3 661.3,470.3 663,469.8 664.7,470.1 666.4,469.3 668.1,467.1 669.8,467.2 671.6,466.3 673.3,467.6 675,468 676.7,468 678.4,468.5 680.1,467.8 681.8,468 683.5,466.9 685.2,466.7 686.9,465.9 688.7,465.8 690.4,465.2 692.1,465 693.8,463.4 695.5,464.5 697.2,465.1 698.9,466.5 700.6,467.3 702.3,466.6 704,467.3 705.8,467.7 707.5,468.2 709.2,469.9 710.9,469.4 712.6,468.2 714.3,468 716,467.3 717.7,467.5 719.4,467.7 721.1,467.2 722.9,466.6 724.6,468 726.3,468.4 728,469.5 729.7,471 731.4,471.5 733.1,472.1 734.8,471.1 736.5,468.7 738.2,466.8 740,467.8 741.7,467.5 743.4,467.9 745.1,468.6 746.8,468.3 748.5,469 750.2,469.3 751.9,469.4 753.6,469.3 755.3,470.3 757.1,471.2 758.8,470.9 760.5,472.1 762.2,473 763.9,473.6 765.6,473.7 767.3,474 769,475 770.7,475 772.4,474.1 774.2,473.8 775.9,474.2 777.6,473.1 779.3,473.1 781,473.3 782.7,474.7 784.4,474.7 786.1,474.9 787.8,474.7 789.5,474.2 791.3,476 793,475.6 794.7,476.7 796.4,477.8 798.1,477.8 799.8,477.8 801.5,478.2 803.2,479.1 804.9,478.4 806.6,480.1 808.4,478.6 810.1,477 811.8,477.2 813.5,476.8 815.2,477.1 816.9,477.9 818.6,477.2 820.3,477.1 822,477.5 823.7,476.9 825.5,477.2 827.2,477 828.9,477.7 830.6,478.1 832.3,477.2 834,476.5 835.7,476.4 837.4,474.7 839.1,474.4 840.8,476 842.6,475.4 844.3,476.3 846,476.4 847.7,476.6 849.4,475.8 851.1,477 852.8,477.1 854.5,478.2 856.2,478.7 857.9,479.7 859.7,480.2 861.4,479.2 863.1,478.1 864.8,478 866.5,477.9 868.2,477.3 869.9,477.9 871.6,477.8 873.3,476.5 875,477.2 876.8,476.2 878.5,476.2 880.2,476.8 881.9,476.4 883.6,477.4 885.3,476.5 887,477.3 888.7,479.7 890.4,479.8 892.1,480.8 893.9,480.4 895.6,480.3 897.3,481.4 899,480.7 900.7,480.2 902.4,481 904.1,481.8 905.8,480.9 907.5,480.9 909.2,479.9 911,481.1 912.7,481.6 914.4,482.3 916.1,482.9 917.8,484 919.5,484 921.2,484.7 922.9,484.3 924.6,485.3 926.3,485.6 928.1,484.7 929.8,483.3 931.5,483.1 933.2,482.1 934.9,481.9 936.6,481.5 938.3,481.4 940,481.2 941.7,480.8 943.4,481.6 945.2,482.5 946.9,482.9 948.6,485.3 950.3,484.7 952,483.9 953.7,482 955.4,483.5 957.1,484.8 958.8,485.1 960.5,484.4 962.3,483.5 964,481.7 965.7,481.2 967.4,481.1 969.1,481.4 970.8,480.8 972.5,481.9 974.2,481.4 975.9,482.2 977.6,482.4 979.4,482.9 981.1,483.6 982.8,483.1 984.5,483 986.2,482.2 987.9,482.2 989.6,481.7 991.3,481.5 993,480.8 994.7,480.5 996.5,480.5 998.2,480.8 999.9,479.8 1001.6,480.6 1003.3,481.5 1005,482.2 1006.7,481.6 1008.4,480.1 1010.1,479.7 1011.8,479 1013.6,479 1015.3,479.3 1017,479.4 1018.7,480.5 1020.4,479.4 1022.1,479.6 1023.8,479.9 1025.5,479.1 1027.2,479 1028.9,478.3 1030.7,477.3 1032.4,478.1 1034.1,480.1 1035.8,481.7 1037.5,480.9 1039.2,479.7 1040.9,478.9 1042.6,477.2 1044.3,477.1 1046,477.4 1047.8,476.8 1049.5,476.3 1051.2,476.3 1052.9,476.8 1054.6,476.5 1056.3,476.7 1058,477.2 1059.7,477.2 1061.4,478.7 1063.1,477.9 1064.9,478.4 1066.6,477 1068.3,477.5 1070,477.1 1071.7,476.8 1073.4,476.2 1075.1,476.2 1076.8,476 1078.5,475.7 1080.2,475 1082,475.2 1083.7,477.1 1085.4,476.8 1087.1,477.6 1088.8,478.1 1090.5,478.5 1092.2,477.9 1093.9,478 1095.6,478.1 1097.3,478.7 1099.1,478.9 1100.8,477.8 1102.5,478.1 1104.2,477.1 1105.9,476.8 1107.6,477.5 1109.3,478 1111,478.4 1112.7,478.3 1114.4,479 1116.2,478.7 1117.9,478.3 1119.6,477.5 1121.3,477.7 1123,477.6 1124.7,477.2 1126.4,476.7 1128.1,476.7 1129.8,475.9 1131.5,476.4 1133.3,476.9 1135,476.5 1136.7,476.7 1138.4,477.1 1140.1,477.4 1141.8,476.8 1143.5,477.2 1145.2,476.8 1146.9,476.3 1148.6,475.5 1150.4,475.6 1152.1,474.5 1153.8,474.8 1155.5,474.9 1157.2,475.6 1158.9,475.7 1160.6,476.5 1162.3,476.9 1164,478.6 1165.7,478.8 1167.5,478.8 1169.2,477.5 1170.9,477.4 1172.6,477.3 1174.3,477.5 1176,478.6 1177.7,479.4 1179.4,479.8 1181.1,478.8 1182.8,477.6 1184.6,475.8 1186.3,476.4 1188,477.1 1189.7,477.8 1191.4,477.2 1193.1,476.9 1194.8,476.4 1196.5,476.2 1198.2,475.6 1199.9,475.1 1201.7,476 1203.4,476.4 1205.1,475.4 1206.8,476 1208.5,475.6 1210.2,475 1211.9,475.1 1213.6,474.5 1215.3,473.8 1217,473.3 1218.8,473.1 1220.5,472.7 1222.2,472.4 1223.9,472.4 1225.6,474.2 1227.3,475.2 1229,475.8 1230.7,474.9 1232.4,474.9 1234.1,474.6 1235.9,474.7 1237.6,475.1 1239.3,476.7 1241,477.1 1242.7,474.7 1244.4,475.2 1246.1,476.5 1247.8,476.7 1249.5,476.9 1251.2,477.6 1253,478.1 1254.7,477.4 1256.4,476.5 1258.1,476.8 1259.8,476.1 1261.5,476.8 1263.2,478.2 1264.9,477.4 1266.6,476.3 1268.3,476.7 1270.1,474.8 1271.8,475.9 1273.5,476.5 1275.2,477.9 1276.9,477.6 1278.6,477.4 1280.3,477.4 1282,477.8 1283.7,478.2 1285.4,478.1 1287.2,479.2 1288.9,478.3 1290.6,478.1 1292.3,478 1294,478.1 1295.7,477.7 1297.4,477.2 1299.1,476.4 1300.8,475 1302.5,473.5 1304.3,473.3 1306,473.6 1307.7,472.9 1309.4,473.7 1311.1,473.8 1312.8,474.4 1314.5,474.2 1316.2,473 1317.9,473.4 1319.6,474.1 1321.4,475.5 1323.1,477.1 1324.8,477.9 1326.5,477.8 1328.2,477.3 1329.9,478.4 1331.6,480.9 1333.3,480.5 1335,478.4 1336.7,478 1338.5,476.9 1340.2,475.8 1341.9,475.3 1343.6,474.8 1345.3,474.3 1347,473.8 1348.7,473.9 1350.4,475.3 1352.1,475.1 1353.8,475.3 1355.6,475 1357.3,474.9 1359,475 1360.7,474.8 1362.4,475.2 1364.1,477 1365.8,476.2 1367.5,474.6 1369.2,473.6 1370.9,472 1372.7,472.3 1374.4,472.9 1376.1,473.3 1377.8,472.5 1379.5,471.9 1381.2,470 1382.9,470.3 1384.6,468.4 1386.3,468.2 1388,466.8 1389.8,466.8 1391.5,467.8 1393.2,468.3 1394.9,469 1396.6,468.2 1398.3,468 1400,467.7 1401.7,466.9 1403.4,466 1405.1,466.5 1406.9,466.4 1408.6,465.3 1410.3,466.7 1412,466.7 1413.7,466.9 1415.4,467 1417.1,468.3 1418.8,468.7 1420.5,469.4 1422.2,469.6 1424,470.1 1425.7,470 1427.4,470.7 1429.1,471.1 1430.8,471.8 1432.5,471.4 1434.2,471.3 1435.9,471 1437,471" fill="none" stroke="#6297ab" stroke-width="2.2" stroke-linejoin="round" stroke-linecap="round"/>
<polyline points="187.6,488.8 189.3,487.7 191,486.7 192.8,485.8 194.5,485.1 196.2,484.6 197.9,484 199.6,483.9 201.3,484.2 203,484 204.7,484.3 206.4,484.9 208.1,486.5 209.9,486.2 211.6,485 213.3,484.5 215,482.7 216.7,482.3 218.4,481.1 220.1,481 221.8,481 223.5,481.1 225.2,482.4 227,483.5 228.7,485.3 230.4,489 232.1,489.1 233.8,490.2 235.5,490.7 237.2,486.5 238.9,479.6 240.6,474 242.3,469.6 244.1,463.4 245.8,460.3 247.5,460.4 249.2,460.4 250.9,462.2 252.6,467 254.3,471.5 256,473.7 257.7,474.1 259.4,475.6 261.2,474.6 262.9,472 264.6,478.8 266.3,477.2 268,475.8 269.7,475 271.4,474.4 273.1,473.7 274.8,473.9 276.5,475.2 278.3,471.7 280,470.1 281.7,467.8 283.4,465.9 285.1,464.7 286.8,463.1 288.5,462.1 290.2,461.9 291.9,462.3 293.6,461.7 295.4,463.7 297.1,463.5 298.8,465.3 300.5,466.1 302.2,465.8 303.9,469.8 305.6,472.4 307.3,472 309,470.6 310.7,471.9 312.4,473.3 314.2,475.5 315.9,474.8 317.6,475.6 319.3,476 321,475.1 322.7,473.4 324.4,470.7 326.1,466.2 327.8,463.7 329.5,460.6 331.3,459.3 333,458.1 334.7,457.1 336.4,457 338.1,459 339.8,459.4 341.5,461.2 343.2,463.1 344.9,465.1 346.6,466.2 348.4,468.6 350.1,469.3 351.8,470.3 353.5,471 355.2,471 356.9,471 358.6,471.2 360.3,471.5 362,471.5 363.7,470.2 365.5,469.7 367.2,470.8 368.9,470.4 370.6,470.3 372.3,470.2 374,470.7 375.7,470.6 377.4,469.6 379.1,469 380.8,468.1 382.6,468.6 384.3,467.2 386,467.4 387.7,467.5 389.4,466.3 391.1,466.7 392.8,466.9 394.5,466.4 396.2,466.5 397.9,465.5 399.7,465.8 401.4,465.4 403.1,466.2 404.8,465.6 406.5,465.7 408.2,466.4 409.9,466.2 411.6,466.5 413.3,466.3 415,466.7 416.8,467.3 418.5,467.2 420.2,466.8 421.9,466.8 423.6,466.3 425.3,466.4 427,465.8 428.7,464.3 430.4,463 432.1,462.7 433.9,462.3 435.6,461.8 437.3,461.8 439,461.9 440.7,461.5 442.4,460.4 444.1,460.6 445.8,460.3 447.5,460 449.2,459.8 451,459.8 452.7,459.3 454.4,459.6 456.1,459.1 457.8,459.4 459.5,460.4 461.2,460.9 462.9,461.1 464.6,462.5 466.3,462.8 468.1,463.3 469.8,463 471.5,463.6 473.2,463.1 474.9,463.6 476.6,463.4 478.3,464.4 480,464.8 481.7,465.5 483.4,465.6 485.2,467.3 486.9,468.8 488.6,470.3 490.3,470.4 492,470.8 493.7,470.7 495.4,470.4 497.1,470.4 498.8,470.1 500.5,469.5 502.3,469.7 504,469.5 505.7,470.6 507.4,467.8 509.1,467.1 510.8,467.2 512.5,467.1 514.2,467 515.9,466.2 517.6,466.7 519.4,466.3 521.1,466.2 522.8,465.8 524.5,465.8 526.2,465.8 527.9,465.4 529.6,465.3 531.3,464.2 533,464.2 534.7,463.9 536.5,462.7 538.2,460.8 539.9,463.4 541.6,465.7 543.3,465.9 545,466.3 546.7,465.9 548.4,466 550.1,466.7 551.8,467.4 553.6,467.8 555.3,467.3 557,466.2 558.7,465.9 560.4,465 562.1,465.2 563.8,465.1 565.5,464.7 567.2,465.4 568.9,464.3 570.7,464.8 572.4,464.6 574.1,464.9 575.8,465 577.5,466.4 579.2,466.3 580.9,465.6 582.6,465.8 584.3,464.8 586,465 587.8,464.5 589.5,464.5 591.2,464.7 592.9,464.4 594.6,464.1 596.3,464.9 598,464.9 599.7,464.8 601.4,464.8 603.1,465.8 604.9,466.5 606.6,467.7 608.3,468.5 610,468.5 611.7,468.6 613.4,469.7 615.1,468.7 616.8,468.5 618.5,468.8 620.2,469.7 622,469.9 623.7,471.4 625.4,472.8 627.1,473.5 628.8,473.4 630.5,472.8 632.2,472.5 633.9,473 635.6,472 637.4,472.5 639.1,472.2 640.8,471.6 642.5,470.9 644.2,471.6 645.9,471.5 647.6,472.2 649.3,472.9 651,473.4 652.7,472.6 654.5,472.1 656.2,472.2 657.9,471.6 659.6,472.1 661.3,471.7 663,471.4 664.7,471.4 666.4,470.7 668.1,468.8 669.8,468.6 671.6,467.9 673.3,469.2 675,469.6 676.7,469.4 678.4,469.9 680.1,469.3 681.8,469.9 683.5,468.6 685.2,468.6 686.9,468 688.7,467.6 690.4,467 692.1,466.6 693.8,465.3 695.5,466.2 697.2,467 698.9,468.6 700.6,469.1 702.3,468.6 704,469.2 705.8,469.8 707.5,470.3 709.2,471.5 710.9,471.5 712.6,470.3 714.3,470.1 716,469.5 717.7,469.2 719.4,469.4 721.1,469.1 722.9,468.7 724.6,469.8 726.3,470.5 728,471.8 729.7,472.9 731.4,473.7 733.1,474.4 734.8,473.4 736.5,470.9 738.2,469.1 740,469.9 741.7,469.5 743.4,470 745.1,471 746.8,470.3 748.5,471.4 750.2,471.4 751.9,471.2 753.6,471.2 755.3,472.1 757.1,473.1 758.8,473 760.5,474.3 762.2,474.9 763.9,475.4 765.6,475.7 767.3,476 769,476.7 770.7,476.9 772.4,475.9 774.2,475.5 775.9,475.7 777.6,475.1 779.3,475 781,474.8 782.7,476.3 784.4,476.7 786.1,476.8 787.8,476.5 789.5,475.8 791.3,477.3 793,477.3 794.7,478.5 796.4,479.2 798.1,479.4 799.8,479.1 801.5,479.4 803.2,480.3 804.9,479.8 806.6,481.6 808.4,480.4 810.1,478.3 811.8,478.8 813.5,478.3 815.2,478.6 816.9,479.1 818.6,478.6 820.3,478.4 822,478.7 823.7,478.7 825.5,478.8 827.2,478.3 828.9,479.1 830.6,479.3 832.3,478.9 834,478 835.7,477.7 837.4,476.1 839.1,475.8 840.8,477.2 842.6,477.1 844.3,478 846,477.7 847.7,478.1 849.4,477.5 851.1,478.3 852.8,478.7 854.5,479.9 856.2,480.3 857.9,481.5 859.7,481.8 861.4,480.5 863.1,479.6 864.8,479.1 866.5,479.6 868.2,478.9 869.9,479.6 871.6,479.2 873.3,478.2 875,478.5 876.8,477.6 878.5,477.6 880.2,478 881.9,477.7 883.6,478.5 885.3,478.1 887,478.8 888.7,480.8 890.4,481.3 892.1,482.4 893.9,481.8 895.6,481.9 897.3,482.6 899,482 900.7,481.9 902.4,482.1 904.1,483.2 905.8,482.4 907.5,482.2 909.2,481 911,482.6 912.7,483.3 914.4,483.9 916.1,484.5 917.8,485.4 919.5,485.5 921.2,485.9 922.9,485.8 924.6,487 926.3,487 928.1,486.4 929.8,484.8 931.5,484.6 933.2,483.7 934.9,483.2 936.6,482.6 938.3,482.9 940,482.6 941.7,482.3 943.4,482.8 945.2,483.9 946.9,484.6 948.6,486.5 950.3,486.2 952,485.6 953.7,483.6 955.4,484.6 957.1,486 958.8,486.6 960.5,485.7 962.3,484.8 964,483.3 965.7,482.4 967.4,482.3 969.1,482.5 970.8,482.4 972.5,483.2 974.2,482.8 975.9,483.3 977.6,483.8 979.4,484.1 981.1,484.7 982.8,484.5 984.5,484.3 986.2,483.3 987.9,483.8 989.6,482.7 991.3,482.9 993,482.1 994.7,481.9 996.5,481.6 998.2,482.1 999.9,481 1001.6,482.1 1003.3,482.5 1005,483.3 1006.7,482.8 1008.4,481.6 1010.1,481.1 1011.8,480.3 1013.6,480.5 1015.3,480.4 1017,480.8 1018.7,481.5 1020.4,480.8 1022.1,480.8 1023.8,481.1 1025.5,480.4 1027.2,480.4 1028.9,479.8 1030.7,478.7 1032.4,479.4 1034.1,481.2 1035.8,482.7 1037.5,481.9 1039.2,480.7 1040.9,480.4 1042.6,478.8 1044.3,478.5 1046,479 1047.8,478.3 1049.5,477.5 1051.2,477.8 1052.9,478 1054.6,477.8 1056.3,478.1 1058,478.2 1059.7,478.7 1061.4,479.7 1063.1,479.2 1064.9,479.6 1066.6,478.5 1068.3,478.6 1070,478.2 1071.7,478.3 1073.4,477.5 1075.1,477.4 1076.8,477.3 1078.5,476.9 1080.2,476.2 1082,476.6 1083.7,478.3 1085.4,477.9 1087.1,478.9 1088.8,479.3 1090.5,479.7 1092.2,479.2 1093.9,479.6 1095.6,479.4 1097.3,479.8 1099.1,480 1100.8,479.3 1102.5,479.4 1104.2,478.3 1105.9,478 1107.6,478.9 1109.3,479.1 1111,479.5 1112.7,479.5 1114.4,480 1116.2,479.9 1117.9,479.9 1119.6,478.9 1121.3,478.8 1123,479.1 1124.7,478.1 1126.4,477.8 1128.1,477.8 1129.8,477.3 1131.5,477.9 1133.3,477.9 1135,477.7 1136.7,477.9 1138.4,478.3 1140.1,478.4 1141.8,478.1 1143.5,478.3 1145.2,478.2 1146.9,477.2 1148.6,476.6 1150.4,476.9 1152.1,475.7 1153.8,475.8 1155.5,476.2 1157.2,476.6 1158.9,476.6 1160.6,477.4 1162.3,478.1 1164,479.5 1165.7,479.9 1167.5,479.7 1169.2,478.8 1170.9,478.5 1172.6,478.4 1174.3,478.4 1176,479.7 1177.7,480.7 1179.4,481 1181.1,479.6 1182.8,478.4 1184.6,476.8 1186.3,477.7 1188,478 1189.7,478.6 1191.4,478.4 1193.1,478 1194.8,477.5 1196.5,477.5 1198.2,476.4 1199.9,476.3 1201.7,477.3 1203.4,477.2 1205.1,476.7 1206.8,476.9 1208.5,476.4 1210.2,476.1 1211.9,476.2 1213.6,475.7 1215.3,474.7 1217,474 1218.8,474 1220.5,473.7 1222.2,473.4 1223.9,473.5 1225.6,475.1 1227.3,476.3 1229,476.9 1230.7,475.8 1232.4,476 1234.1,475.3 1235.9,475.6 1237.6,476.3 1239.3,478 1241,478 1242.7,475.9 1244.4,476.2 1246.1,477.5 1247.8,477.5 1249.5,478 1251.2,478.6 1253,478.9 1254.7,478.6 1256.4,477.6 1258.1,477.6 1259.8,477.2 1261.5,477.6 1263.2,479.4 1264.9,478.6 1266.6,477.4 1268.3,477.8 1270.1,475.9 1271.8,477.1 1273.5,477.6 1275.2,478.7 1276.9,478.3 1278.6,478.3 1280.3,478.6 1282,478.7 1283.7,479.4 1285.4,479.4 1287.2,480.1 1288.9,479.5 1290.6,479.3 1292.3,478.8 1294,479.4 1295.7,478.9 1297.4,478.4 1299.1,477.2 1300.8,475.9 1302.5,474.7 1304.3,474.5 1306,474.4 1307.7,474.1 1309.4,474.5 1311.1,474.7 1312.8,475.3 1314.5,475.2 1316.2,474.1 1317.9,474.5 1319.6,475 1321.4,476.7 1323.1,478.1 1324.8,479 1326.5,478.9 1328.2,478.1 1329.9,479.3 1331.6,481.8 1333.3,481.4 1335,479.7 1336.7,478.8 1338.5,477.7 1340.2,476.6 1341.9,476.2 1343.6,475.6 1345.3,475 1347,474.9 1348.7,475.1 1350.4,476.4 1352.1,476.4 1353.8,476.5 1355.6,476.2 1357.3,476.2 1359,476 1360.7,476.1 1362.4,476.2 1364.1,477.9 1365.8,477.2 1367.5,476 1369.2,474.6 1370.9,473.3 1372.7,473.3 1374.4,474 1376.1,474.5 1377.8,474 1379.5,473.1 1381.2,471.9 1382.9,471.8 1384.6,470.5 1386.3,470.4 1388,469.1 1389.8,469.4 1391.5,469.9 1393.2,470.9 1394.9,471.4 1396.6,470.7 1398.3,470.4 1400,469.9 1401.7,469.3 1403.4,468.6 1405.1,468.8 1406.9,469 1408.6,468.1 1410.3,469.1 1412,469 1413.7,469.3 1415.4,469.4 1417.1,470.6 1418.8,471 1420.5,471.9 1422.2,472.4 1424,472.6 1425.7,472.6 1427.4,473 1429.1,473.4 1430.8,474.1 1432.5,473.5 1434.2,473.2 1435.9,472.4 1437,472.3" fill="none" stroke="#ee6633" stroke-width="2.9" stroke-linejoin="round" stroke-linecap="round"/>
<polyline points="98.7,508.5 100.4,508 102.1,507.5 103.8,507 105.5,506.5 107.2,506 109,505.5 110.7,505 112.4,504.9 114.1,504.9 115.8,504.8 117.5,504.8 119.2,504.7 120.9,504.7 122.6,504.6 124.3,504.5 126.1,503.8 127.8,503.1 129.5,502.4 131.2,501.7 132.9,501 134.6,500.4 136.3,500.6 138,500.7 139.7,500.9 141.4,501.1 143.2,501.2 144.9,501.4 146.6,501.6 148.3,501.3 150,501 151.7,500.8" fill="none" stroke="#6ccb3e" stroke-width="2.1" stroke-linejoin="round" stroke-linecap="round"/>
<circle cx="98.7" cy="508.5" r="1.5" fill="#6ccb3e"/>
<circle cx="110.6" cy="505" r="1.5" fill="#6ccb3e"/>
<circle cx="122.6" cy="504.7" r="1.5" fill="#6ccb3e"/>
<circle cx="134.4" cy="500.4" r="1.5" fill="#6ccb3e"/>
<circle cx="147" cy="501.6" r="1.5" fill="#6ccb3e"/>
<polyline points="150,501 151.7,500.8 153.4,500.7 155.1,500.7 156.8,500.6 158.6,500.5 160.3,500.5 162,500.2 163.7,499.9 165.4,499.7 167.1,499.4 168.8,499.2 170.5,498.8 172.2,498.1 173.9,497.4 175.7,496.7 177.4,496.1 179.1,495.4 180.8,494.5 182.5,493.4 184.2,492.4 185.9,491.3 187.6,490.2 189.3,489.4 191,488.6 192.8,487.9 194.5,487.2 196.2,486.5 197.9,486.8 199.6,486.7 201.3,486.9 203,486.9 204.7,486.3 206.4,488.1 208.1,490.2 209.9,488.6 211.6,487.6 213.3,487.5 215,486.1 216.7,485.6 218.4,484.4 220.1,484.1 221.8,483.5 223.5,485.5 225.2,487.6 227,488.4 228.7,489.7 230.4,493 232.1,492.9 233.8,493.7 235.5,494.6 237.2,489.7 238.9,483.4 240.6,478.8 242.3,472.9 244.1,467.7 245.8,464.2 247.5,462.8 249.2,463.4 250.9,465.3 252.6,469.9 254.3,474.6 256,476.9 257.7,477.7 259.4,477.4 261.2,476.8 262.9,474.3 264.6,482.1 266.3,480.3 268,478.7 269.7,477.8 271.4,477.5 273.1,476.7 274.8,476.6 276.5,477.9 278.3,475 280,472.9 281.7,470.7 283.4,469.2 285.1,468.1 286.8,467.5 288.5,466.5 290.2,465.3 291.9,465.5 293.6,465 295.4,465.7 297.1,466.3 298.8,467.5 300.5,467 302.2,468.8 303.9,473.7 305.6,475.8 307.3,475.5 309,476.4 310.7,477.2 312.4,477 314.2,478.5 315.9,478.1 317.6,477.8 319.3,478 321,477.6 322.7,476.9 324.4,473.4 326.1,469.8 327.8,467.1 329.5,466.4 331.3,464.8 333,464.7 334.7,464.1 336.4,464 338.1,465.6 339.8,466.2 341.5,467.4 343.2,469.3 344.9,469.7 346.6,470.9 348.4,472.2 350.1,473.9 351.8,474.8 353.5,475.8 355.2,477.4 356.9,476.5 358.6,476.7 360.3,476.1 362,475 363.7,474.6 365.5,474.2 367.2,474.5 368.9,474.7 370.6,475 372.3,475.3 374,475.7 375.7,475.1 377.4,474.8 379.1,475 380.8,474.3 382.6,474.2 384.3,474.9 386,474.3 387.7,474.3 389.4,473.6 391.1,474.1 392.8,474.7 394.5,474.4 396.2,475.4 397.9,475.4 399.7,474.6 401.4,475.2 403.1,475.5 404.8,476.7 406.5,477.2 408.2,477.3 409.9,477 411.6,475.9 413.3,475.6 415,476.6 416.8,477.5 418.5,477.1 420.2,477.2 421.9,477.1 423.6,476.7 425.3,476.6 427,476.3 428.7,476.1 430.4,476.1 432.1,475.6 433.9,475.6 435.6,476.1 437.3,475.4 439,476 440.7,476.2 442.4,475.7 444.1,475.5 445.8,476.1 447.5,475.4 449.2,475.6 451,476 452.7,476.4 454.4,476 456.1,476.4 457.8,476.6 459.5,477.4 461.2,476.7 462.9,476.7 464.6,475.4 466.3,476 468.1,476.9 469.8,477.6 471.5,477.5 473.2,477.7 474.9,477.9 476.6,478.7 478.3,478.6 480,479.5 481.7,479.7 483.4,479.1 485.2,479.5 486.9,481.5 488.6,482.8 490.3,483.7 492,483.3 493.7,483.2 495.4,483.4 497.1,483.7 498.8,482.8 500.5,482.5 502.3,482.1 504,481.6 505.7,481 507.4,481 509.1,479.6 510.8,478.8 512.5,479.4 514.2,478.9 515.9,478.5 517.6,477.5 519.4,477.8 521.1,477.6 522.8,476.7 524.5,477.2 526.2,477.1 527.9,476.7 529.6,476.3 531.3,475.8 533,475.5 534.7,475.1 536.5,474.8 538.2,475.1 539.9,475.7 541.6,477.5 543.3,477.7 545,478.8 546.7,478.7 548.4,479 550.1,479.1 551.8,479.2 553.6,478.9 555.3,478.1 557,478.6 558.7,477.8 560.4,477.7 562.1,478.1 563.8,477.9 565.5,477.8 567.2,478.4 568.9,478 570.7,477.7 572.4,477.6 574.1,478.5 575.8,478.7 577.5,479.6 579.2,479.7 580.9,479.6 582.6,480.1 584.3,480.4 586,479.8 587.8,480.6 589.5,480.8 591.2,480.8 592.9,481 594.6,480.3 596.3,481.2 598,481.5 599.7,480.6 601.4,480.8 603.1,481.1 604.9,482.3 606.6,483 608.3,483 610,483 611.7,482 613.4,482.1 615.1,482.2 616.8,482.3 618.5,482.3 620.2,483.4 622,483.4 623.7,482.7 625.4,483.3 627.1,482.6 628.8,482 630.5,481.4 632.2,481.2 633.9,481 635.6,480.7 637.4,480.4 639.1,480.4 640.8,480.1 642.5,480.4 644.2,480.8 645.9,481 647.6,481.2 649.3,481.8 651,481.7 652.7,481.6 654.5,481.5 656.2,480.8 657.9,480.9 659.6,480.4 661.3,480.1 663,480 664.7,480.1 666.4,480.2 668.1,479.9 669.8,480.1 671.6,480.1 673.3,480 675,480.5 676.7,480.9 678.4,480.3 680.1,480.9 681.8,481 683.5,481.6 685.2,481.7 686.9,481.1 688.7,481.7 690.4,481.6 692.1,481.1 693.8,481.3 695.5,481 697.2,482 698.9,482 700.6,482.5 702.3,482.6 704,482.7 705.8,483.1 707.5,482.8 709.2,482.3 710.9,482.7 712.6,482 714.3,482.1 716,483.2 717.7,483 719.4,483.9 721.1,484.7 722.9,485.9 724.6,485.2 726.3,485.1 728,486 729.7,485.6 731.4,487.2 733.1,487.7 734.8,487.3 736.5,486.7 738.2,485.6 740,485.2 741.7,483.9 743.4,484.3 745.1,484.3 746.8,484.9 748.5,484.5 750.2,485.6 751.9,486.1 753.6,485.4 755.3,486 757.1,486.6 758.8,487.2 760.5,486.8 762.2,486.9 763.9,487.1 765.6,487.6 767.3,487.8 769,487.4 770.7,487.1 772.4,486.9 774.2,486.6 775.9,486.5 777.6,486.2 779.3,486.8 781,487.4 782.7,486.8 784.4,487.5 786.1,487.1 787.8,488 789.5,488.3 791.3,488.7 793,489.1 794.7,489.7 796.4,490.3 798.1,490.7 799.8,489.9 801.5,490 803.2,490.8 804.9,491.9 806.6,492.4 808.4,491.5 810.1,490.9 811.8,489.5 813.5,489.7 815.2,489.7 816.9,490.3 818.6,490.1 820.3,490.2 822,490.9 823.7,491.3 825.5,490.7 827.2,491.3 828.9,491.2 830.6,491.5 832.3,491 834,490.4 835.7,490.1 837.4,489.7 839.1,490.2 840.8,490.4 842.6,490.4 844.3,490.8 846,491 847.7,491.6 849.4,490.9 851.1,491.8 852.8,491.3 854.5,491.4 856.2,491.3 857.9,491.7 859.7,491.4 861.4,490.7 863.1,490.3 864.8,490.4 866.5,490.9 868.2,490.6 869.9,491.2 871.6,491.2 873.3,490.4 875,489.9 876.8,489.6 878.5,489.8 880.2,489.5 881.9,489.5 883.6,489.1 885.3,488.1 887,488.3 888.7,489.1 890.4,489.6 892.1,490.8 893.9,491.2 895.6,490.7 897.3,489.4 899,489.5 900.7,488.8 902.4,488.8 904.1,489.1 905.8,488.3 907.5,488.2 909.2,489 911,489.4 912.7,490.6 914.4,491.5 916.1,492 917.8,491.6 919.5,492.3 921.2,493 922.9,493.7 924.6,494 926.3,494.5 928.1,494.8 929.8,494.1 931.5,494 933.2,493.3 934.9,493.2 936.6,493.3 938.3,492.5 940,493.2 941.7,493.4 943.4,492.6 945.2,493.7 946.9,493.2 948.6,493.1 950.3,492.6 952,491.5 953.7,491.6 955.4,491.9 957.1,492.5 958.8,492.1 960.5,492.7 962.3,492.9 964,492.6 965.7,492.4 967.4,492 969.1,492.4 970.8,492.2 972.5,492.6 974.2,492.6 975.9,492.5 977.6,492.1 979.4,492.6 981.1,492.5 982.8,492 984.5,492.7 986.2,492.3 987.9,491.5 989.6,492.3 991.3,491.2 993,491.3 994.7,491.5 996.5,491.7 998.2,492 999.9,492.5 1001.6,492.6 1003.3,492.8 1005,492.5 1006.7,492.2 1008.4,492.7 1010.1,492.5 1011.8,492.1 1013.6,492.3 1015.3,491.8 1017,491.7 1018.7,491.9 1020.4,492.4 1022.1,491.5 1023.8,492 1025.5,492.1 1027.2,493.1 1028.9,493.1 1030.7,493.2 1032.4,493.2 1034.1,493.3 1035.8,493.5 1037.5,493 1039.2,493.5 1040.9,492.6 1042.6,493 1044.3,493.2 1046,493.5 1047.8,494.6 1049.5,494.8 1051.2,494.2 1052.9,494.2 1054.6,494.4 1056.3,494.8 1058,494.8 1059.7,494.9 1061.4,495.1 1063.1,494.9 1064.9,495.5 1066.6,495.2 1068.3,495.4 1070,495.4 1071.7,494.9 1073.4,494.9 1075.1,495.3 1076.8,494.4 1078.5,495.2 1080.2,495.3 1082,495.4 1083.7,494.8 1085.4,495 1087.1,495 1088.8,495 1090.5,495.7 1092.2,495.7 1093.9,495.6 1095.6,496.5 1097.3,496.2 1099.1,496.2 1100.8,496.3 1102.5,495.3 1104.2,496.1 1105.9,495.8 1107.6,495.8 1109.3,496.1 1111,496.4 1112.7,496.5 1114.4,497 1116.2,495.9 1117.9,495.9 1119.6,495.6 1121.3,495.4 1123,495.6 1124.7,496.2 1126.4,496.3 1128.1,495.6 1129.8,496.5 1131.5,496.4 1133.3,495.8 1135,496.1 1136.7,496 1138.4,495.8 1140.1,496.3 1141.8,496.8 1143.5,496.1 1145.2,496.7 1146.9,496.4 1148.6,495.6 1150.4,496.3 1152.1,495.9 1153.8,496.1 1155.5,495.8 1157.2,495.9 1158.9,495.5 1160.6,496 1162.3,496.2 1164,496.1 1165.7,495.6 1167.5,496 1169.2,495.7 1170.9,495.3 1172.6,495.3 1174.3,495.3 1176,495.5 1177.7,495.5 1179.4,495.9 1181.1,496.1 1182.8,495.9 1184.6,495.8 1186.3,496 1188,495.6 1189.7,495.8 1191.4,496.1 1193.1,495.7 1194.8,495.4 1196.5,496.1 1198.2,495.9 1199.9,495.5 1201.7,495.5 1203.4,495.6 1205.1,496.2 1206.8,496.5 1208.5,496.3 1210.2,496 1211.9,496.1 1213.6,495.2 1215.3,495.6 1217,495.4 1218.8,495.4 1220.5,495.4 1222.2,495.7 1223.9,495.5 1225.6,495.6 1227.3,496.1 1229,496.5 1230.7,497 1232.4,496.3 1234.1,496.1 1235.9,496.3 1237.6,496 1239.3,496.2 1241,495.2 1242.7,495.6 1244.4,495.8 1246.1,495.6 1247.8,496.9 1249.5,496.3 1251.2,496.4 1253,497 1254.7,496.6 1256.4,497 1258.1,496.6 1259.8,496.2 1261.5,496 1263.2,496.6 1264.9,496.1 1266.6,496.7 1268.3,496.4 1270.1,496.9 1271.8,496.3 1273.5,496.3 1275.2,496.3 1276.9,497 1278.6,496.8 1280.3,496.6 1282,496.3 1283.7,497.2 1285.4,497.9 1287.2,497.8 1288.9,497.5 1290.6,497.9 1292.3,497.8 1294,497.6 1295.7,497.1 1297.4,496.8 1299.1,497.1 1300.8,497.2 1302.5,496.5 1304.3,497.3 1306,496.8 1307.7,497.1 1309.4,497.5 1311.1,498 1312.8,497.5 1314.5,498.3 1316.2,498.1 1317.9,497.9 1319.6,496.9 1321.4,497.8 1323.1,499.1 1324.8,498.9 1326.5,499.2 1328.2,499.3 1329.9,499.7 1331.6,500 1333.3,499.3 1335,500 1336.7,499.9 1338.5,499.9 1340.2,499.6 1341.9,499.9 1343.6,499.2 1345.3,499.2 1347,499 1348.7,499.5 1350.4,499.1 1352.1,498.8 1353.8,498.7 1355.6,499.2 1357.3,499 1359,499.1 1360.7,498.7 1362.4,499 1364.1,498.8 1365.8,499.5 1367.5,498.3 1369.2,498.4 1370.9,498.2 1372.7,498 1374.4,497.4 1376.1,497.5 1377.8,498.2 1379.5,498 1381.2,498.2 1382.9,498.6 1384.6,498.7 1386.3,499.8 1388,499.7 1389.8,499.4 1391.5,499.6 1393.2,499.4 1394.9,499.9 1396.6,500.3 1398.3,499.1 1400,499.4 1401.7,498.6 1403.4,498.3 1405.1,499.2 1406.9,499 1408.6,499.1 1410.3,499.3 1412,499.9 1413.7,499.8 1415.4,499.2 1417.1,499.4 1418.8,500.2 1420.5,499.4 1422.2,499.8 1424,499.6 1425.7,499.7 1427.4,499.3 1429.1,499.2 1430.8,498.8 1432.5,498.5 1434.2,498.4 1435.9,498.3 1437,498.8" fill="none" stroke="#6ccb3e" stroke-width="3" stroke-linejoin="round" stroke-linecap="round"/>
<g stroke="#000" stroke-width="1.3" fill="none">
<path d="M85.5 393.9 V515.1 H1450.5 V393.9"/>
<path d="M85.5 394.5 h11.4 M1450.5 394.5 h-11.4"/>
<path d="M85.5 435.1 h11.4 M1450.5 435.1 h-11.4"/>
<path d="M85.5 474.8 h11.4 M1450.5 474.8 h-11.4"/>
</g>
<text x="80.9" y="397.1" font-size="13" fill="#606060" text-anchor="end">300</text>
<text x="1455.3" y="397.1" font-size="13" fill="#606060">300</text>
<text x="80.9" y="437.5" font-size="13" fill="#606060" text-anchor="end">200</text>
<text x="1455.3" y="437.5" font-size="13" fill="#606060">200</text>
<text x="80.9" y="478.3" font-size="13" fill="#606060" text-anchor="end">100</text>
<text x="1455.3" y="478.3" font-size="13" fill="#606060">100</text>
<text x="80.9" y="518.2" font-size="13" fill="#606060" text-anchor="end">0</text>
<text x="1455.3" y="518.2" font-size="13" fill="#606060">0</text>
<text x="89.1" y="536.6" font-size="13" fill="#606060" textLength="54.8" lengthAdjust="spacingAndGlyphs">16/09/01</text>
<text x="244" y="536.6" font-size="13" fill="#606060" textLength="54.8" lengthAdjust="spacingAndGlyphs">16/12/01</text>
<text x="398.4" y="536.6" font-size="13" fill="#606060" textLength="54.8" lengthAdjust="spacingAndGlyphs">17/03/01</text>
<text x="555.3" y="536.6" font-size="13" fill="#606060" textLength="54.8" lengthAdjust="spacingAndGlyphs">17/06/01</text>
<text x="712.5" y="536.6" font-size="13" fill="#606060" textLength="54.8" lengthAdjust="spacingAndGlyphs">17/09/01</text>
<text x="868.8" y="536.6" font-size="13" fill="#606060" textLength="54.8" lengthAdjust="spacingAndGlyphs">17/12/01</text>
<text x="1023.1" y="536.6" font-size="13" fill="#606060" textLength="54.8" lengthAdjust="spacingAndGlyphs">18/03/01</text>
<text x="1180.1" y="536.6" font-size="13" fill="#606060" textLength="54.8" lengthAdjust="spacingAndGlyphs">18/06/01</text>
<text x="1337.1" y="536.6" font-size="13" fill="#606060" textLength="54.8" lengthAdjust="spacingAndGlyphs">18/09/01</text>
<line x1="172.4" y1="506.5" x2="172.4" y2="514.6" stroke="#a9b6c8" stroke-width="1.1"/>
<ellipse cx="172.25" cy="494.4" rx="22" ry="12.2" fill="#fff" stroke="#9aaac6" stroke-width="1.1"/>
<text x="153.1" y="497.2" font-size="12.8" font-weight="bold" fill="#000" textLength="34.9" lengthAdjust="spacingAndGlyphs">発売日</text>
<text x="635.5" y="384.1" font-size="12" fill="#555" textLength="25.3" lengthAdjust="spacingAndGlyphs">平均</text>
<rect x="667.4" y="376.3" width="1.9" height="1.9" fill="#555"/>
<rect x="667.4" y="382.7" width="1.9" height="1.9" fill="#555"/>
<text x="675.7" y="383.8" font-size="10.9" fill="#5b9ab4" textLength="65" lengthAdjust="spacingAndGlyphs">コレクター</text>
<text x="741.8" y="384.2" font-size="13" fill="#5b9ab4" textLength="20" lengthAdjust="spacingAndGlyphs">2.9</text>
<text x="776" y="384.1" font-size="12.1" fill="#ee6633" textLength="25" lengthAdjust="spacingAndGlyphs">中古</text>
<text x="802.2" y="384.2" font-size="13" fill="#ee6633" textLength="28" lengthAdjust="spacingAndGlyphs">41.9</text>
<text x="844.3" y="384.1" font-size="12.1" fill="#6ccb3e" textLength="24.7" lengthAdjust="spacingAndGlyphs">新品</text>
<text x="870.3" y="384.2" font-size="13" fill="#6ccb3e" textLength="15.6" lengthAdjust="spacingAndGlyphs">56</text>
<rect x="85.5" y="623.2" width="1365.1" height="29.6" fill="#f5f6f8"/>
<rect x="85.5" y="683.4" width="1365.1" height="30" fill="#f5f6f8"/>
<line x1="85.5" y1="591.4" x2="1450.5" y2="591.4" stroke="#e4e4e4" stroke-width="1.2"/>
<line x1="85.5" y1="623.2" x2="1450.5" y2="623.2" stroke="#e4e4e4" stroke-width="1.2"/>
<line x1="85.5" y1="652.8" x2="1450.5" y2="652.8" stroke="#e4e4e4" stroke-width="1.2"/>
<line x1="85.5" y1="683.4" x2="1450.5" y2="683.4" stroke="#e4e4e4" stroke-width="1.2"/>
<line x1="116.4" y1="591.4" x2="116.4" y2="713.4" stroke="#e4e4e4" stroke-width="1.2"/>
<line x1="271.3" y1="591.4" x2="271.3" y2="713.4" stroke="#e4e4e4" stroke-width="1.2"/>
<line x1="425.7" y1="591.4" x2="425.7" y2="713.4" stroke="#e4e4e4" stroke-width="1.2"/>
<line x1="582.6" y1="591.4" x2="582.6" y2="713.4" stroke="#e4e4e4" stroke-width="1.2"/>
<line x1="739.8" y1="591.4" x2="739.8" y2="713.4" stroke="#e4e4e4" stroke-width="1.2"/>
<line x1="896.1" y1="591.4" x2="896.1" y2="713.4" stroke="#e4e4e4" stroke-width="1.2"/>
<line x1="1050.4" y1="591.4" x2="1050.4" y2="713.4" stroke="#e4e4e4" stroke-width="1.2"/>
<line x1="1207.4" y1="591.4" x2="1207.4" y2="713.4" stroke="#e4e4e4" stroke-width="1.2"/>
<line x1="1364.4" y1="591.4" x2="1364.4" y2="713.4" stroke="#e4e4e4" stroke-width="1.2"/>
<line x1="99" y1="697.1" x2="1436.5" y2="697.1" stroke="#a7c5d2" stroke-width="2.4"/>
<circle cx="99" cy="697.1" r="1.5" fill="#a7c5d2"/>
<g stroke="#000" stroke-width="1.3">
<path d="M116.4 713.4 v-11.2"/>
<path d="M271.3 713.4 v-11.2"/>
<path d="M425.7 713.4 v-11.2"/>
<path d="M582.6 713.4 v-11.2"/>
<path d="M739.8 713.4 v-11.2"/>
<path d="M896.1 713.4 v-11.2"/>
<path d="M1050.4 713.4 v-11.2"/>
<path d="M1207.4 713.4 v-11.2"/>
<path d="M1364.4 713.4 v-11.2"/>
</g>
<g stroke="#000" stroke-width="1.3" fill="none">
<path d="M85.5 590.8 V713.4 H1450.5 V590.8"/>
<path d="M85.5 591.4 h11.4 M1450.5 591.4 h-11.4"/>
<path d="M85.5 623.2 h11.4 M1450.5 623.2 h-11.4"/>
<path d="M85.5 652.8 h11.4 M1450.5 652.8 h-11.4"/>
<path d="M85.5 683.4 h11.4 M1450.5 683.4 h-11.4"/>
</g>
<text x="80.9" y="595.1" font-size="13" fill="#606060" text-anchor="end">20000</text>
<text x="1455.3" y="595.1" font-size="13" fill="#606060">20000</text>
<text x="80.9" y="625.4" font-size="13" fill="#606060" text-anchor="end">15000</text>
<text x="1455.3" y="625.4" font-size="13" fill="#606060">15000</text>
<text x="80.9" y="655.9" font-size="13" fill="#606060" text-anchor="end">10000</text>
<text x="1455.3" y="655.9" font-size="13" fill="#606060">10000</text>
<text x="80.9" y="686.1" font-size="13" fill="#606060" text-anchor="end">5000</text>
<text x="1455.3" y="686.1" font-size="13" fill="#606060">5000</text>
<text x="80.9" y="716.4" font-size="13" fill="#606060" text-anchor="end">0</text>
<text x="1455.3" y="716.4" font-size="13" fill="#606060">0</text>
<text x="89.1" y="734.2" font-size="13" fill="#606060" textLength="54.8" lengthAdjust="spacingAndGlyphs">16/09/01</text>
<text x="244" y="734.2" font-size="13" fill="#606060" textLength="54.8" lengthAdjust="spacingAndGlyphs">16/12/01</text>
<text x="398.4" y="734.2" font-size="13" fill="#606060" textLength="54.8" lengthAdjust="spacingAndGlyphs">17/03/01</text>
<text x="555.3" y="734.2" font-size="13" fill="#606060" textLength="54.8" lengthAdjust="spacingAndGlyphs">17/06/01</text>
<text x="712.5" y="734.2" font-size="13" fill="#606060" textLength="54.8" lengthAdjust="spacingAndGlyphs">17/09/01</text>
<text x="868.8" y="734.2" font-size="13" fill="#606060" textLength="54.8" lengthAdjust="spacingAndGlyphs">17/12/01</text>
<text x="1023.1" y="734.2" font-size="13" fill="#606060" textLength="54.8" lengthAdjust="spacingAndGlyphs">18/03/01</text>
<text x="1180.1" y="734.2" font-size="13" fill="#606060" textLength="54.8" lengthAdjust="spacingAndGlyphs">18/06/01</text>
<text x="1337.1" y="734.2" font-size="13" fill="#606060" textLength="54.8" lengthAdjust="spacingAndGlyphs">18/09/01</text>
<circle cx="99" cy="712.6" r="1.3" fill="#7599a9"/>
<circle cx="110.7" cy="712.6" r="1.3" fill="#7599a9"/>
<circle cx="122.7" cy="712.6" r="1.3" fill="#7599a9"/>
<circle cx="134.8" cy="712.6" r="1.3" fill="#7599a9"/>
<circle cx="147" cy="712.8" r="1.3" fill="#7599a9"/>
<circle cx="159" cy="713" r="1.3" fill="#7599a9"/>
<circle cx="171" cy="713" r="1.3" fill="#7599a9"/>
<circle cx="183" cy="713" r="1.3" fill="#7599a9"/>
<polyline points="1266,695.6 1267.7,702.4 1269.4,696.5 1271.1,702.6 1272.8,691.2 1278,703 1279.7,696.5 1281.4,700.9 1286.5,696 1288.2,703.2 1293.4,693.7 1295.1,705.2 1296.8,690.5 1298.5,700.2 1300.2,693.3 1301.9,701.6 1303.6,690.8 1308.8,700.9 1310.5,691 1312.2,704.9 1313.9,696.2 1315.6,703.9 1317.3,693.5 1319,700.7 1320.7,697.4 1322.4,701.7 1324.1,692.7 1325.9,701.8 1331,695.8 1332.7,702.5 1334.4,694.2 1336.1,700.8 1337.8,694.3 1339.5,700.6 1341.2,692.3 1343,701.6 1344.7,691.9 1346.4,699.9 1348.1,696.4 1349.8,703.6 1351.5,697.5 1353.2,701.9 1354.9,698.1 1356.6,704.8 1358.3,692.6 1360.1,704.8 1361.8,689.7 1363.5,704.1 1365.2,697 1370.3,701.2 1372,690.6 1373.7,701.5 1375.4,698.3 1377.2,702.4 1378.9,698.1 1380.6,703.9 1385.7,697 1387.4,704.8 1389.1,693 1390.8,704.6 1392.5,694.1 1394.3,704.1 1399.4,698.1 1404.5,703.4 1406.2,694.6 1407.9,701.9 1409.6,697.6 1411.4,700.1 1413.1,689.2 1414.8,700.3 1416.5,695.2 1418.2,702.7 1419.9,693.7 1421.6,700.5 1423.3,692.6 1425,702.8 1430.2,697.3 1431.9,704.2" fill="none" stroke="#7599a9" stroke-width="2.4" stroke-linejoin="round" stroke-linecap="round"/>
<polyline points="1130,692.6 1131.7,702 1133.4,694.3 1135.1,702.7 1140.3,694.8 1142,702.6 1143.7,696.9 1145.4,701.5 1147.1,696.6 1148.8,706.3 1150.5,698.3 1152.2,704.1 1157.4,700.8 1159.1,702.7 1160.8,693 1169.3,705.2 1171,697.6 1176.2,703.4 1177.9,695.5 1179.6,702.2 1184.7,694.2 1186.4,705.5 1188.1,696.1 1193.3,703.7 1195,700.7 1200.1,703.7 1201.8,700 1203.5,704.4 1205.2,698 1207,704.8 1208.7,694.2 1210.4,703.1 1212.1,699.4 1213.8,706.4 1218.9,694.8 1220.6,701.8 1222.3,692.7 1224.1,706.2 1225.8,696.2 1230.9,704.9 1236,697.8 1237.7,702.4 1239.4,694.9 1241.2,705.6 1246.3,693.8 1248,702.5 1249.7,700.5 1251.4,703.4 1253.1,694.5 1258.3,702.5 1263.4,692.3 1265.1,706.1" fill="none" stroke="#7599a9" stroke-width="2.2" stroke-linejoin="round" stroke-linecap="round"/>
<polyline points="182.8,713 195,713 201.8,712.3 215,712.2 225,712.8 232,712.4 260,712.2 290,712 305,711.8 315,711.5 320,712.2 327.9,711.1 335.9,712.2 348.6,712.2 354.9,709.8 361.2,708.5 364.4,710.1 370.8,709 377.1,709.8 380.3,707.4 384.2,705 387.4,708.2 393,707.9 399.3,705.8 402.5,706.3 405.3,699.5 406.9,709.8 408.8,706.3 412,709.8 418.4,709 421.5,707.9 424.7,709.8 427.9,707.9 437.4,709 441.4,704.2 444.5,708.2 450.1,710.1 454.8,707.4 457.2,706.3 461.2,708.5 467.5,709 473.1,707.9 478.6,709 485,709 488.1,709.8 494.5,706.6 499.2,707.9 504.8,703.8 508,704.7 512.7,707.9 516.7,708.5 519.9,703.5 522.3,707.4 524.6,704.2 527.8,706.6 531,706.3 533.4,701.1 534.9,705 537.3,696.3 539.7,703.5 543.7,709.8 548.4,708.2 554.8,708.2 557.9,702.7 560,700.3 562.1,704.2 566.1,705.8 570.1,708.5 575.6,709 580.4,709 582.8,703.5 585.1,704.2 588.3,707.9 591.5,700 593.9,707.4 596.2,709.5 600.2,704.2 603.4,707.9 608.1,710.1 611.3,707.4 613.7,709 616.9,706.6 619.2,703.1 621.6,707.4 624.8,706.6 629.6,704.2 632.7,700 635.9,709 639.1,704.2 643.8,705 648.6,702.2 653.3,707.9 658.1,705 664.5,704.2 669.2,705 673.2,708.2 676.4,704.2 680.3,708.5 686.7,705 689.8,707.4 696.2,707.9 702.5,709.8 707.3,709 712,707.4 715.2,709.5 720,710.6 724.7,709 727.1,711.1 732.7,709.5 739,709 743,709.8 746.9,707.4 749.3,704.7 754.1,702.7 756.5,708.2 759.6,709.5 763.6,707.4 766.8,709.8 769.9,705 773.1,707.4 777.1,709.5 783.4,706.6 788.2,705.4 791.4,706.9 795,705 796.3,706.6 802.7,705.3 807.4,700.9 809.8,706.1 811.4,702.1 813.8,704.5 816.2,699.8 819.3,700.2 821.7,705.3 825.7,707.7 832,707.7 836.8,703.7 839.2,707.7 843.9,708.5 847.1,706.9 851.1,708.5 853.5,705.3 856.6,709.3 859.8,704.5 862.2,702.1 865.3,689.5 867.7,705.3 870.1,702.9 873.3,706.9 876.5,706.1 879.6,708.5 882,702.9 883.9,699.3 886.8,706.9 890.7,708.2 894.7,705.3 897.9,690.2 899.5,700.6 901,693.9 902.9,705.3 905.8,702.9 908.2,702.1 909.3,693.4 911.3,706.1 914.5,705.3 918.2,691 921.7,703.7 924,707.7 928,706.1 933.6,707.2 936.7,691.4 938.3,699.3 940.4,692.3 942.3,702.1 944.7,707.7 947.8,702.1 950.2,700.6 954.2,687.9 955.8,703.7 958.2,707.7 961,695.8 963.7,702.9 966.9,707.7 969.2,703.7 971.2,699.8 973.2,707.7 975.6,706.9 978.8,699.3 980.4,703.7 982.3,698.2 984.8,705.3 987.5,695.8 990.7,689.5 991.8,686.3 993.4,697.4 995.4,678.3 997,684.7 998.6,678.3 1001,698.2 1003.4,702.9 1005.4,694.2 1007.3,678.3 1010.5,702.1 1012.1,701.8 1014.5,708.5 1016,708.5 1017.6,699.8 1020,699 1022.4,695 1024.8,696.6 1027.9,685.5 1030,689.5 1031.7,686.1 1034.5,706 1036.9,707.6 1038.5,698 1040.9,700.4 1043.2,700.1 1045.6,703.6 1048.8,706.8 1052,701.2 1054.3,700.4 1055.5,706 1056.7,690.1 1058.3,706 1060.7,706.8 1063.9,705.2 1065.5,701.2 1068.1,706.8 1071,701.2 1073.4,702 1075.4,709.1 1077.3,701.2 1078.9,706 1080.8,693.3 1082.9,696.5 1084.5,704.9 1086.9,698 1089.2,705.2 1093.2,700.4 1095.6,692.5 1097.2,679 1099.6,663.9 1101.9,665.2 1102.7,690.9 1105.9,700.4 1106.6,699.1 1108.3,689.3 1110,695.6 1110.7,696.5 1113,698.8 1115.1,676.6 1117,692.5 1120.2,694.9 1121.8,686.1 1123.7,699.6 1126.5,689.3 1128.4,663.9 1129.7,692.5 1131,700.4 1132.1,689.3 1133.8,706.1 1134.5,708.4 1136.8,695.7 1139.2,690.9 1140.5,673.5 1141.6,697.2 1143.2,683 1144.9,701.1 1145.9,703.6 1147.9,682.2 1149.5,703.6 1150.2,701.7 1151.9,687.7 1153.8,702 1154.6,699.1 1156.3,678.2 1157.9,705.2 1159.8,690.9 1161.4,686.1 1163.3,692.5 1165.4,708.4 1167.8,697.2 1169.7,693.3 1171.7,705.2 1174.1,683 1174.8,680 1176.5,657.6 1178.1,671.9 1178.9,706 1181.3,698 1183.6,695.7 1184.3,694 1186,681.4 1187.6,696.5 1188.3,695.1 1190,684.6 1191.7,701.3 1192.4,703.6 1194.4,706.8 1196.3,700.4 1198.7,705.2 1201.9,696.5 1203.9,686.9 1205.8,705.2 1207,701.6 1208.7,675 1209.8,687.7 1211.3,682.5 1213,644.6 1214.1,698.8 1216.2,706 1218.8,679.8 1220,678.3 1221.7,667.1 1223.3,703.6 1225.2,708.4 1226.3,706 1228,688.5 1229.6,705.2 1231.2,687.7 1232.9,706.5 1233.6,709.1 1236.8,702 1237.5,700.7 1239.2,690.9 1241.1,701.2 1243,698.5 1244.7,679 1246.3,705.2 1248.6,703.7 1250.3,692.5 1251.8,704.4 1253.4,687.7 1255,703.6 1256.9,666.3 1259,660.4 1260.6,703.6 1262.9,704.4 1264.2,682.2 1265,686.1 1265.6,700.4 1267.9,706 1270.3,692.5 1272.4,641.7 1274,692.5 1275.4,667.9 1277.1,698.8 1278.1,693.7 1279.8,656 1281.4,679.8 1282.7,671.1 1284.1,707.6 1286.2,698.8 1288.6,678.2 1289.8,675.1 1291.4,652.5 1293,704.4 1294.1,664.7 1295.2,686.1 1296.5,656 1297.8,702 1299.7,674.2 1301.6,703.6 1302.8,705.2 1304.4,678.2 1306.3,653.1 1308.4,657.6 1310,698 1310.8,660.4 1312.3,700.4 1313,697.7 1314.7,678.2 1316.3,704.4 1318.4,673.5 1320,707.6 1322.7,706.8 1325,698.8 1328.2,668.7 1328.9,666.5 1330.6,650.5 1331.4,702.8 1333.3,671.1 1334.9,701.2 1337.4,660.8 1339.3,635.4 1340.1,663.9 1341.7,625.9 1342.8,697.2 1344.9,665.5 1346.1,636.2 1347.6,651.2 1349.1,705.2 1351.2,679.8 1352.8,705.2 1355.2,684.6 1355.9,682.8 1357.6,669.5 1358.7,695.7 1360.3,675.8 1362.3,706.8 1363.9,705.2 1366,678.2 1367.7,699.1 1368.7,702 1371,686.1 1371.8,683 1373.4,660.4 1375,700.4 1377.4,698.8 1378.7,668.7 1380.2,640.1 1382.5,640.1 1383.7,703.6 1385.3,705.2 1386.9,687.7 1387.6,686.4 1389.3,676.6 1390.4,700.4 1392.9,686.1 1394.4,664.7 1395.6,700.4 1396.3,698.7 1398,686.1 1399.7,698.7 1400.4,700.4 1402.8,685.3 1404.3,674.2 1405.6,698.8 1407.5,671.1 1409.4,679.8 1410.7,704.4 1413.1,698.8 1414.7,662 1416.2,706 1416.9,703.2 1418.6,683 1420.2,702.8 1420.9,701.2 1422.6,689.3 1424.2,702 1424.9,700.9 1426.6,692.5 1428.2,701.6 1428.9,702.8 1431.3,678.2 1434.2,672.7 1435.3,705.2 1436.4,703.6" fill="none" stroke="#7599a9" stroke-width="2.7" stroke-linejoin="round" stroke-linecap="round"/>
<g fill="#7599a9">
<circle cx="335.9" cy="712.2" r="1.75"/>
<circle cx="348.6" cy="712.2" r="1.75"/>
<circle cx="354.9" cy="709.8" r="1.75"/>
<circle cx="361.2" cy="708.5" r="1.75"/>
<circle cx="364.4" cy="710.1" r="1.75"/>
<circle cx="370.8" cy="709" r="1.75"/>
<circle cx="377.1" cy="709.8" r="1.75"/>
<circle cx="380.3" cy="707.4" r="1.75"/>
<circle cx="384.2" cy="705" r="1.75"/>
<circle cx="387.4" cy="708.2" r="1.75"/>
<circle cx="393" cy="707.9" r="1.75"/>
<circle cx="399.3" cy="705.8" r="1.75"/>
<circle cx="402.5" cy="706.3" r="1.75"/>
<circle cx="405.3" cy="699.5" r="1.75"/>
<circle cx="406.9" cy="709.8" r="1.75"/>
<circle cx="408.8" cy="706.3" r="1.75"/>
<circle cx="412" cy="709.8" r="1.75"/>
<circle cx="418.4" cy="709" r="1.75"/>
<circle cx="421.5" cy="707.9" r="1.75"/>
<circle cx="424.7" cy="709.8" r="1.75"/>
<circle cx="427.9" cy="707.9" r="1.75"/>
<circle cx="437.4" cy="709" r="1.75"/>
<circle cx="441.4" cy="704.2" r="1.75"/>
<circle cx="444.5" cy="708.2" r="1.75"/>
<circle cx="450.1" cy="710.1" r="1.75"/>
<circle cx="454.8" cy="707.4" r="1.75"/>
<circle cx="457.2" cy="706.3" r="1.75"/>
<circle cx="461.2" cy="708.5" r="1.75"/>
<circle cx="467.5" cy="709" r="1.75"/>
<circle cx="473.1" cy="707.9" r="1.75"/>
<circle cx="478.6" cy="709" r="1.75"/>
<circle cx="485" cy="709" r="1.75"/>
<circle cx="488.1" cy="709.8" r="1.75"/>
<circle cx="494.5" cy="706.6" r="1.75"/>
<circle cx="499.2" cy="707.9" r="1.75"/>
<circle cx="504.8" cy="703.8" r="1.75"/>
<circle cx="508" cy="704.7" r="1.75"/>
<circle cx="512.7" cy="707.9" r="1.75"/>
<circle cx="516.7" cy="708.5" r="1.75"/>
<circle cx="519.9" cy="703.5" r="1.75"/>
<circle cx="522.3" cy="707.4" r="1.75"/>
<circle cx="524.6" cy="704.2" r="1.75"/>
<circle cx="527.8" cy="706.6" r="1.75"/>
<circle cx="531" cy="706.3" r="1.75"/>
<circle cx="533.4" cy="701.1" r="1.75"/>
<circle cx="534.9" cy="705" r="1.75"/>
<circle cx="537.3" cy="696.3" r="1.75"/>
<circle cx="539.7" cy="703.5" r="1.75"/>
<circle cx="543.7" cy="709.8" r="1.75"/>
<circle cx="548.4" cy="708.2" r="1.75"/>
<circle cx="554.8" cy="708.2" r="1.75"/>
<circle cx="557.9" cy="702.7" r="1.75"/>
<circle cx="560" cy="700.3" r="1.75"/>
<circle cx="562.1" cy="704.2" r="1.75"/>
<circle cx="566.1" cy="705.8" r="1.75"/>
<circle cx="570.1" cy="708.5" r="1.75"/>
<circle cx="575.6" cy="709" r="1.75"/>
<circle cx="580.4" cy="709" r="1.75"/>
<circle cx="582.8" cy="703.5" r="1.75"/>
<circle cx="585.1" cy="704.2" r="1.75"/>
<circle cx="588.3" cy="707.9" r="1.75"/>
<circle cx="591.5" cy="700" r="1.75"/>
<circle cx="593.9" cy="707.4" r="1.75"/>
<circle cx="596.2" cy="709.5" r="1.75"/>
<circle cx="600.2" cy="704.2" r="1.75"/>
<circle cx="603.4" cy="707.9" r="1.75"/>
<circle cx="608.1" cy="710.1" r="1.75"/>
<circle cx="611.3" cy="707.4" r="1.75"/>
<circle cx="613.7" cy="709" r="1.75"/>
<circle cx="616.9" cy="706.6" r="1.75"/>
<circle cx="619.2" cy="703.1" r="1.75"/>
<circle cx="621.6" cy="707.4" r="1.75"/>
<circle cx="624.8" cy="706.6" r="1.75"/>
<circle cx="629.6" cy="704.2" r="1.75"/>
<circle cx="632.7" cy="700" r="1.75"/>
<circle cx="635.9" cy="709" r="1.75"/>
<circle cx="639.1" cy="704.2" r="1.75"/>
<circle cx="643.8" cy="705" r="1.75"/>
<circle cx="648.6" cy="702.2" r="1.75"/>
<circle cx="653.3" cy="707.9" r="1.75"/>
<circle cx="658.1" cy="705" r="1.75"/>
<circle cx="664.5" cy="704.2" r="1.75"/>
<circle cx="669.2" cy="705" r="1.75"/>
<circle cx="673.2" cy="708.2" r="1.75"/>
<circle cx="676.4" cy="704.2" r="1.75"/>
<circle cx="680.3" cy="708.5" r="1.75"/>
<circle cx="686.7" cy="705" r="1.75"/>
<circle cx="689.8" cy="707.4" r="1.75"/>
<circle cx="696.2" cy="707.9" r="1.75"/>
<circle cx="702.5" cy="709.8" r="1.75"/>
<circle cx="707.3" cy="709" r="1.75"/>
<circle cx="712" cy="707.4" r="1.75"/>
<circle cx="715.2" cy="709.5" r="1.75"/>
<circle cx="720" cy="710.6" r="1.75"/>
<circle cx="724.7" cy="709" r="1.75"/>
<circle cx="727.1" cy="711.1" r="1.75"/>
<circle cx="732.7" cy="709.5" r="1.75"/>
<circle cx="739" cy="709" r="1.75"/>
<circle cx="743" cy="709.8" r="1.75"/>
<circle cx="746.9" cy="707.4" r="1.75"/>
<circle cx="749.3" cy="704.7" r="1.75"/>
<circle cx="754.1" cy="702.7" r="1.75"/>
<circle cx="756.5" cy="708.2" r="1.75"/>
<circle cx="759.6" cy="709.5" r="1.75"/>
<circle cx="763.6" cy="707.4" r="1.75"/>
<circle cx="766.8" cy="709.8" r="1.75"/>
<circle cx="769.9" cy="705" r="1.75"/>
<circle cx="773.1" cy="707.4" r="1.75"/>
<circle cx="777.1" cy="709.5" r="1.75"/>
<circle cx="783.4" cy="706.6" r="1.75"/>
<circle cx="788.2" cy="705.4" r="1.75"/>
<circle cx="791.4" cy="706.9" r="1.75"/>
<circle cx="795" cy="705" r="1.75"/>
<circle cx="796.3" cy="706.6" r="1.75"/>
<circle cx="802.7" cy="705.3" r="1.75"/>
<circle cx="807.4" cy="700.9" r="1.75"/>
<circle cx="809.8" cy="706.1" r="1.75"/>
<circle cx="811.4" cy="702.1" r="1.75"/>
<circle cx="813.8" cy="704.5" r="1.75"/>
<circle cx="816.2" cy="699.8" r="1.75"/>
<circle cx="819.3" cy="700.2" r="1.75"/>
<circle cx="821.7" cy="705.3" r="1.75"/>
<circle cx="825.7" cy="707.7" r="1.75"/>
<circle cx="832" cy="707.7" r="1.75"/>
<circle cx="836.8" cy="703.7" r="1.75"/>
<circle cx="839.2" cy="707.7" r="1.75"/>
<circle cx="843.9" cy="708.5" r="1.75"/>
<circle cx="847.1" cy="706.9" r="1.75"/>
<circle cx="851.1" cy="708.5" r="1.75"/>
<circle cx="853.5" cy="705.3" r="1.75"/>
<circle cx="856.6" cy="709.3" r="1.75"/>
<circle cx="859.8" cy="704.5" r="1.75"/>
<circle cx="862.2" cy="702.1" r="1.75"/>
<circle cx="865.3" cy="689.5" r="1.75"/>
<circle cx="867.7" cy="705.3" r="1.75"/>
<circle cx="870.1" cy="702.9" r="1.75"/>
<circle cx="873.3" cy="706.9" r="1.75"/>
<circle cx="876.5" cy="706.1" r="1.75"/>
<circle cx="879.6" cy="708.5" r="1.75"/>
<circle cx="882" cy="702.9" r="1.75"/>
<circle cx="883.9" cy="699.3" r="1.75"/>
<circle cx="886.8" cy="706.9" r="1.75"/>
<circle cx="890.7" cy="708.2" r="1.75"/>
<circle cx="894.7" cy="705.3" r="1.75"/>
<circle cx="897.9" cy="690.2" r="1.75"/>
<circle cx="899.5" cy="700.6" r="1.75"/>
<circle cx="901" cy="693.9" r="1.75"/>
<circle cx="902.9" cy="705.3" r="1.75"/>
<circle cx="905.8" cy="702.9" r="1.75"/>
<circle cx="908.2" cy="702.1" r="1.75"/>
<circle cx="909.3" cy="693.4" r="1.75"/>
<circle cx="911.3" cy="706.1" r="1.75"/>
<circle cx="914.5" cy="705.3" r="1.75"/>
<circle cx="918.2" cy="691" r="1.75"/>
<circle cx="921.7" cy="703.7" r="1.75"/>
<circle cx="924" cy="707.7" r="1.75"/>
<circle cx="928" cy="706.1" r="1.75"/>
<circle cx="933.6" cy="707.2" r="1.75"/>
<circle cx="936.7" cy="691.4" r="1.75"/>
<circle cx="938.3" cy="699.3" r="1.75"/>
<circle cx="940.4" cy="692.3" r="1.75"/>
<circle cx="942.3" cy="702.1" r="1.75"/>
<circle cx="944.7" cy="707.7" r="1.75"/>
<circle cx="947.8" cy="702.1" r="1.75"/>
<circle cx="950.2" cy="700.6" r="1.75"/>
<circle cx="954.2" cy="687.9" r="1.75"/>
<circle cx="955.8" cy="703.7" r="1.75"/>
<circle cx="958.2" cy="707.7" r="1.75"/>
<circle cx="961" cy="695.8" r="1.75"/>
<circle cx="963.7" cy="702.9" r="1.75"/>
<circle cx="966.9" cy="707.7" r="1.75"/>
<circle cx="969.2" cy="703.7" r="1.75"/>
<circle cx="971.2" cy="699.8" r="1.75"/>
<circle cx="973.2" cy="707.7" r="1.75"/>
<circle cx="975.6" cy="706.9" r="1.75"/>
<circle cx="978.8" cy="699.3" r="1.75"/>
<circle cx="980.4" cy="703.7" r="1.75"/>
<circle cx="982.3" cy="698.2" r="1.75"/>
<circle cx="984.8" cy="705.3" r="1.75"/>
<circle cx="987.5" cy="695.8" r="1.75"/>
<circle cx="990.7" cy="689.5" r="1.75"/>
<circle cx="991.8" cy="686.3" r="1.75"/>
<circle cx="993.4" cy="697.4" r="1.75"/>
<circle cx="995.4" cy="678.3" r="1.75"/>
<circle cx="997" cy="684.7" r="1.75"/>
<circle cx="998.6" cy="678.3" r="1.75"/>
<circle cx="1001" cy="698.2" r="1.75"/>
<circle cx="1003.4" cy="702.9" r="1.75"/>
<circle cx="1005.4" cy="694.2" r="1.75"/>
<circle cx="1007.3" cy="678.3" r="1.75"/>
<circle cx="1010.5" cy="702.1" r="1.75"/>
<circle cx="1012.1" cy="701.8" r="1.75"/>
<circle cx="1014.5" cy="708.5" r="1.75"/>
<circle cx="1016" cy="708.5" r="1.75"/>
<circle cx="1017.6" cy="699.8" r="1.75"/>
<circle cx="1020" cy="699" r="1.75"/>
<circle cx="1022.4" cy="695" r="1.75"/>
<circle cx="1024.8" cy="696.6" r="1.75"/>
<circle cx="1027.9" cy="685.5" r="1.75"/>
<circle cx="1030" cy="689.5" r="1.75"/>
<circle cx="1031.7" cy="686.1" r="1.75"/>
<circle cx="1034.5" cy="706" r="1.75"/>
<circle cx="1036.9" cy="707.6" r="1.75"/>
<circle cx="1038.5" cy="698" r="1.75"/>
<circle cx="1040.9" cy="700.4" r="1.75"/>
<circle cx="1043.2" cy="700.1" r="1.75"/>
<circle cx="1045.6" cy="703.6" r="1.75"/>
<circle cx="1048.8" cy="706.8" r="1.75"/>
<circle cx="1052" cy="701.2" r="1.75"/>
<circle cx="1054.3" cy="700.4" r="1.75"/>
<circle cx="1055.5" cy="706" r="1.75"/>
<circle cx="1056.7" cy="690.1" r="1.75"/>
<circle cx="1058.3" cy="706" r="1.75"/>
<circle cx="1060.7" cy="706.8" r="1.75"/>
<circle cx="1063.9" cy="705.2" r="1.75"/>
<circle cx="1065.5" cy="701.2" r="1.75"/>
<circle cx="1068.1" cy="706.8" r="1.75"/>
<circle cx="1071" cy="701.2" r="1.75"/>
<circle cx="1073.4" cy="702" r="1.75"/>
<circle cx="1075.4" cy="709.1" r="1.75"/>
<circle cx="1077.3" cy="701.2" r="1.75"/>
<circle cx="1078.9" cy="706" r="1.75"/>
<circle cx="1080.8" cy="693.3" r="1.75"/>
<circle cx="1082.9" cy="696.5" r="1.75"/>
<circle cx="1084.5" cy="704.9" r="1.75"/>
<circle cx="1086.9" cy="698" r="1.75"/>
<circle cx="1089.2" cy="705.2" r="1.75"/>
<circle cx="1093.2" cy="700.4" r="1.75"/>
<circle cx="1095.6" cy="692.5" r="1.75"/>
<circle cx="1097.2" cy="679" r="1.75"/>
<circle cx="1099.6" cy="663.9" r="1.75"/>
<circle cx="1101.9" cy="665.2" r="1.75"/>
<circle cx="1102.7" cy="690.9" r="1.75"/>
<circle cx="1105.9" cy="700.4" r="1.75"/>
<circle cx="1106.6" cy="699.1" r="1.75"/>
<circle cx="1108.3" cy="689.3" r="1.75"/>
<circle cx="1110" cy="695.6" r="1.75"/>
<circle cx="1110.7" cy="696.5" r="1.75"/>
<circle cx="1113" cy="698.8" r="1.75"/>
<circle cx="1115.1" cy="676.6" r="1.75"/>
<circle cx="1117" cy="692.5" r="1.75"/>
<circle cx="1120.2" cy="694.9" r="1.75"/>
<circle cx="1121.8" cy="686.1" r="1.75"/>
<circle cx="1123.7" cy="699.6" r="1.75"/>
<circle cx="1126.5" cy="689.3" r="1.75"/>
<circle cx="1128.4" cy="663.9" r="1.75"/>
<circle cx="1129.7" cy="692.5" r="1.75"/>
<circle cx="1131" cy="700.4" r="1.75"/>
<circle cx="1132.1" cy="689.3" r="1.75"/>
<circle cx="1133.8" cy="706.1" r="1.75"/>
<circle cx="1134.5" cy="708.4" r="1.75"/>
<circle cx="1136.8" cy="695.7" r="1.75"/>
<circle cx="1139.2" cy="690.9" r="1.75"/>
<circle cx="1140.5" cy="673.5" r="1.75"/>
<circle cx="1141.6" cy="697.2" r="1.75"/>
<circle cx="1143.2" cy="683" r="1.75"/>
<circle cx="1144.9" cy="701.1" r="1.75"/>
<circle cx="1145.9" cy="703.6" r="1.75"/>
<circle cx="1147.9" cy="682.2" r="1.75"/>
<circle cx="1149.5" cy="703.6" r="1.75"/>
<circle cx="1150.2" cy="701.7" r="1.75"/>
<circle cx="1151.9" cy="687.7" r="1.75"/>
<circle cx="1153.8" cy="702" r="1.75"/>
<circle cx="1154.6" cy="699.1" r="1.75"/>
<circle cx="1156.3" cy="678.2" r="1.75"/>
<circle cx="1157.9" cy="705.2" r="1.75"/>
<circle cx="1159.8" cy="690.9" r="1.75"/>
<circle cx="1161.4" cy="686.1" r="1.75"/>
<circle cx="1163.3" cy="692.5" r="1.75"/>
<circle cx="1165.4" cy="708.4" r="1.75"/>
<circle cx="1167.8" cy="697.2" r="1.75"/>
<circle cx="1169.7" cy="693.3" r="1.75"/>
<circle cx="1171.7" cy="705.2" r="1.75"/>
<circle cx="1174.1" cy="683" r="1.75"/>
<circle cx="1174.8" cy="680" r="1.75"/>
<circle cx="1176.5" cy="657.6" r="1.75"/>
<circle cx="1178.1" cy="671.9" r="1.75"/>
<circle cx="1178.9" cy="706" r="1.75"/>
<circle cx="1181.3" cy="698" r="1.75"/>
<circle cx="1183.6" cy="695.7" r="1.75"/>
<circle cx="1184.3" cy="694" r="1.75"/>
<circle cx="1186" cy="681.4" r="1.75"/>
<circle cx="1187.6" cy="696.5" r="1.75"/>
<circle cx="1188.3" cy="695.1" r="1.75"/>
<circle cx="1190" cy="684.6" r="1.75"/>
<circle cx="1191.7" cy="701.3" r="1.75"/>
<circle cx="1192.4" cy="703.6" r="1.75"/>
<circle cx="1194.4" cy="706.8" r="1.75"/>
<circle cx="1196.3" cy="700.4" r="1.75"/>
<circle cx="1198.7" cy="705.2" r="1.75"/>
<circle cx="1201.9" cy="696.5" r="1.75"/>
<circle cx="1203.9" cy="686.9" r="1.75"/>
<circle cx="1205.8" cy="705.2" r="1.75"/>
<circle cx="1207" cy="701.6" r="1.75"/>
<circle cx="1208.7" cy="675" r="1.75"/>
<circle cx="1209.8" cy="687.7" r="1.75"/>
<circle cx="1211.3" cy="682.5" r="1.75"/>
<circle cx="1213" cy="644.6" r="1.75"/>
<circle cx="1214.1" cy="698.8" r="1.75"/>
<circle cx="1216.2" cy="706" r="1.75"/>
<circle cx="1218.8" cy="679.8" r="1.75"/>
<circle cx="1220" cy="678.3" r="1.75"/>
<circle cx="1221.7" cy="667.1" r="1.75"/>
<circle cx="1223.3" cy="703.6" r="1.75"/>
<circle cx="1225.2" cy="708.4" r="1.75"/>
<circle cx="1226.3" cy="706" r="1.75"/>
<circle cx="1228" cy="688.5" r="1.75"/>
<circle cx="1229.6" cy="705.2" r="1.75"/>
<circle cx="1231.2" cy="687.7" r="1.75"/>
<circle cx="1232.9" cy="706.5" r="1.75"/>
<circle cx="1233.6" cy="709.1" r="1.75"/>
<circle cx="1236.8" cy="702" r="1.75"/>
<circle cx="1237.5" cy="700.7" r="1.75"/>
<circle cx="1239.2" cy="690.9" r="1.75"/>
<circle cx="1241.1" cy="701.2" r="1.75"/>
<circle cx="1243" cy="698.5" r="1.75"/>
<circle cx="1244.7" cy="679" r="1.75"/>
<circle cx="1246.3" cy="705.2" r="1.75"/>
<circle cx="1248.6" cy="703.7" r="1.75"/>
<circle cx="1250.3" cy="692.5" r="1.75"/>
<circle cx="1251.8" cy="704.4" r="1.75"/>
<circle cx="1253.4" cy="687.7" r="1.75"/>
<circle cx="1255" cy="703.6" r="1.75"/>
<circle cx="1256.9" cy="666.3" r="1.75"/>
<circle cx="1259" cy="660.4" r="1.75"/>
<circle cx="1260.6" cy="703.6" r="1.75"/>
<circle cx="1262.9" cy="704.4" r="1.75"/>
<circle cx="1264.2" cy="682.2" r="1.75"/>
<circle cx="1265" cy="686.1" r="1.75"/>
<circle cx="1265.6" cy="700.4" r="1.75"/>
<circle cx="1267.9" cy="706" r="1.75"/>
<circle cx="1270.3" cy="692.5" r="1.75"/>
<circle cx="1272.4" cy="641.7" r="1.75"/>
<circle cx="1274" cy="692.5" r="1.75"/>
<circle cx="1275.4" cy="667.9" r="1.75"/>
<circle cx="1277.1" cy="698.8" r="1.75"/>
<circle cx="1278.1" cy="693.7" r="1.75"/>
<circle cx="1279.8" cy="656" r="1.75"/>
<circle cx="1281.4" cy="679.8" r="1.75"/>
<circle cx="1282.7" cy="671.1" r="1.75"/>
<circle cx="1284.1" cy="707.6" r="1.75"/>
<circle cx="1286.2" cy="698.8" r="1.75"/>
<circle cx="1288.6" cy="678.2" r="1.75"/>
<circle cx="1289.8" cy="675.1" r="1.75"/>
<circle cx="1291.4" cy="652.5" r="1.75"/>
<circle cx="1293" cy="704.4" r="1.75"/>
<circle cx="1294.1" cy="664.7" r="1.75"/>
<circle cx="1295.2" cy="686.1" r="1.75"/>
<circle cx="1296.5" cy="656" r="1.75"/>
<circle cx="1297.8" cy="702" r="1.75"/>
<circle cx="1299.7" cy="674.2" r="1.75"/>
<circle cx="1301.6" cy="703.6" r="1.75"/>
<circle cx="1302.8" cy="705.2" r="1.75"/>
<circle cx="1304.4" cy="678.2" r="1.75"/>
<circle cx="1306.3" cy="653.1" r="1.75"/>
<circle cx="1308.4" cy="657.6" r="1.75"/>
<circle cx="1310" cy="698" r="1.75"/>
<circle cx="1310.8" cy="660.4" r="1.75"/>
<circle cx="1312.3" cy="700.4" r="1.75"/>
<circle cx="1313" cy="697.7" r="1.75"/>
<circle cx="1314.7" cy="678.2" r="1.75"/>
<circle cx="1316.3" cy="704.4" r="1.75"/>
<circle cx="1318.4" cy="673.5" r="1.75"/>
<circle cx="1320" cy="707.6" r="1.75"/>
<circle cx="1322.7" cy="706.8" r="1.75"/>
<circle cx="1325" cy="698.8" r="1.75"/>
<circle cx="1328.2" cy="668.7" r="1.75"/>
<circle cx="1328.9" cy="666.5" r="1.75"/>
<circle cx="1330.6" cy="650.5" r="1.75"/>
<circle cx="1331.4" cy="702.8" r="1.75"/>
<circle cx="1333.3" cy="671.1" r="1.75"/>
<circle cx="1334.9" cy="701.2" r="1.75"/>
<circle cx="1337.4" cy="660.8" r="1.75"/>
<circle cx="1339.3" cy="635.4" r="1.75"/>
<circle cx="1340.1" cy="663.9" r="1.75"/>
<circle cx="1341.7" cy="625.9" r="1.75"/>
<circle cx="1342.8" cy="697.2" r="1.75"/>
<circle cx="1344.9" cy="665.5" r="1.75"/>
<circle cx="1346.1" cy="636.2" r="1.75"/>
<circle cx="1347.6" cy="651.2" r="1.75"/>
<circle cx="1349.1" cy="705.2" r="1.75"/>
<circle cx="1351.2" cy="679.8" r="1.75"/>
<circle cx="1352.8" cy="705.2" r="1.75"/>
<circle cx="1355.2" cy="684.6" r="1.75"/>
<circle cx="1355.9" cy="682.8" r="1.75"/>
<circle cx="1357.6" cy="669.5" r="1.75"/>
<circle cx="1358.7" cy="695.7" r="1.75"/>
<circle cx="1360.3" cy="675.8" r="1.75"/>
<circle cx="1362.3" cy="706.8" r="1.75"/>
<circle cx="1363.9" cy="705.2" r="1.75"/>
<circle cx="1366" cy="678.2" r="1.75"/>
<circle cx="1367.7" cy="699.1" r="1.75"/>
<circle cx="1368.7" cy="702" r="1.75"/>
<circle cx="1371" cy="686.1" r="1.75"/>
<circle cx="1371.8" cy="683" r="1.75"/>
<circle cx="1373.4" cy="660.4" r="1.75"/>
<circle cx="1375" cy="700.4" r="1.75"/>
<circle cx="1377.4" cy="698.8" r="1.75"/>
<circle cx="1378.7" cy="668.7" r="1.75"/>
<circle cx="1380.2" cy="640.1" r="1.75"/>
<circle cx="1382.5" cy="640.1" r="1.75"/>
<circle cx="1383.7" cy="703.6" r="1.75"/>
<circle cx="1385.3" cy="705.2" r="1.75"/>
<circle cx="1386.9" cy="687.7" r="1.75"/>
<circle cx="1387.6" cy="686.4" r="1.75"/>
<circle cx="1389.3" cy="676.6" r="1.75"/>
<circle cx="1390.4" cy="700.4" r="1.75"/>
<circle cx="1392.9" cy="686.1" r="1.75"/>
<circle cx="1394.4" cy="664.7" r="1.75"/>
<circle cx="1395.6" cy="700.4" r="1.75"/>
<circle cx="1396.3" cy="698.7" r="1.75"/>
<circle cx="1398" cy="686.1" r="1.75"/>
<circle cx="1399.7" cy="698.7" r="1.75"/>
<circle cx="1400.4" cy="700.4" r="1.75"/>
<circle cx="1402.8" cy="685.3" r="1.75"/>
<circle cx="1404.3" cy="674.2" r="1.75"/>
<circle cx="1405.6" cy="698.8" r="1.75"/>
<circle cx="1407.5" cy="671.1" r="1.75"/>
<circle cx="1409.4" cy="679.8" r="1.75"/>
<circle cx="1410.7" cy="704.4" r="1.75"/>
<circle cx="1413.1" cy="698.8" r="1.75"/>
<circle cx="1414.7" cy="662" r="1.75"/>
<circle cx="1416.2" cy="706" r="1.75"/>
<circle cx="1416.9" cy="703.2" r="1.75"/>
<circle cx="1418.6" cy="683" r="1.75"/>
<circle cx="1420.2" cy="702.8" r="1.75"/>
<circle cx="1420.9" cy="701.2" r="1.75"/>
<circle cx="1422.6" cy="689.3" r="1.75"/>
<circle cx="1424.2" cy="702" r="1.75"/>
<circle cx="1424.9" cy="700.9" r="1.75"/>
<circle cx="1426.6" cy="692.5" r="1.75"/>
<circle cx="1428.2" cy="701.6" r="1.75"/>
<circle cx="1428.9" cy="702.8" r="1.75"/>
<circle cx="1431.3" cy="678.2" r="1.75"/>
<circle cx="1434.2" cy="672.7" r="1.75"/>
<circle cx="1435.3" cy="705.2" r="1.75"/>
<circle cx="1436.4" cy="703.6" r="1.75"/>
<circle cx="184" cy="713" r="1.45" fill="#7599a9"/>
<circle cx="185.7" cy="713" r="1.45" fill="#7599a9"/>
<circle cx="187.4" cy="713" r="1.45" fill="#7599a9"/>
<circle cx="189.1" cy="713" r="1.45" fill="#7599a9"/>
<circle cx="190.8" cy="713" r="1.45" fill="#7599a9"/>
<circle cx="192.6" cy="713" r="1.45" fill="#7599a9"/>
<circle cx="194.3" cy="713" r="1.45" fill="#7599a9"/>
<circle cx="196" cy="712.9" r="1.45" fill="#7599a9"/>
<circle cx="197.7" cy="712.7" r="1.45" fill="#7599a9"/>
<circle cx="199.4" cy="712.5" r="1.45" fill="#7599a9"/>
<circle cx="201.1" cy="712.4" r="1.45" fill="#7599a9"/>
<circle cx="202.8" cy="712.3" r="1.45" fill="#7599a9"/>
<circle cx="204.5" cy="712.3" r="1.45" fill="#7599a9"/>
<circle cx="206.2" cy="712.3" r="1.45" fill="#7599a9"/>
<circle cx="207.9" cy="712.3" r="1.45" fill="#7599a9"/>
<circle cx="209.7" cy="712.2" r="1.45" fill="#7599a9"/>
<circle cx="211.4" cy="712.2" r="1.45" fill="#7599a9"/>
<circle cx="213.1" cy="712.2" r="1.45" fill="#7599a9"/>
<circle cx="214.8" cy="712.2" r="1.45" fill="#7599a9"/>
<circle cx="216.5" cy="712.3" r="1.45" fill="#7599a9"/>
<circle cx="218.2" cy="712.4" r="1.45" fill="#7599a9"/>
<circle cx="219.9" cy="712.5" r="1.45" fill="#7599a9"/>
<circle cx="221.6" cy="712.6" r="1.45" fill="#7599a9"/>
<circle cx="223.3" cy="712.7" r="1.45" fill="#7599a9"/>
<circle cx="225" cy="712.8" r="1.45" fill="#7599a9"/>
<circle cx="226.8" cy="712.7" r="1.45" fill="#7599a9"/>
<circle cx="228.5" cy="712.6" r="1.45" fill="#7599a9"/>
<circle cx="230.2" cy="712.5" r="1.45" fill="#7599a9"/>
<circle cx="231.9" cy="712.4" r="1.45" fill="#7599a9"/>
<circle cx="233.6" cy="712.4" r="1.45" fill="#7599a9"/>
<circle cx="235.3" cy="712.4" r="1.45" fill="#7599a9"/>
<circle cx="237" cy="712.4" r="1.45" fill="#7599a9"/>
<circle cx="238.7" cy="712.4" r="1.45" fill="#7599a9"/>
<circle cx="240.4" cy="712.3" r="1.45" fill="#7599a9"/>
<circle cx="242.1" cy="712.3" r="1.45" fill="#7599a9"/>
<circle cx="243.9" cy="712.3" r="1.45" fill="#7599a9"/>
<circle cx="245.6" cy="712.3" r="1.45" fill="#7599a9"/>
<circle cx="247.3" cy="712.3" r="1.45" fill="#7599a9"/>
<circle cx="249" cy="712.3" r="1.45" fill="#7599a9"/>
<circle cx="250.7" cy="712.3" r="1.45" fill="#7599a9"/>
<circle cx="252.4" cy="712.3" r="1.45" fill="#7599a9"/>
<circle cx="254.1" cy="712.2" r="1.45" fill="#7599a9"/>
<circle cx="255.8" cy="712.2" r="1.45" fill="#7599a9"/>
<circle cx="257.5" cy="712.2" r="1.45" fill="#7599a9"/>
<circle cx="259.2" cy="712.2" r="1.45" fill="#7599a9"/>
<circle cx="261" cy="712.2" r="1.45" fill="#7599a9"/>
<circle cx="262.7" cy="712.2" r="1.45" fill="#7599a9"/>
<circle cx="264.4" cy="712.2" r="1.45" fill="#7599a9"/>
<circle cx="266.1" cy="712.2" r="1.45" fill="#7599a9"/>
<circle cx="267.8" cy="712.1" r="1.45" fill="#7599a9"/>
<circle cx="269.5" cy="712.1" r="1.45" fill="#7599a9"/>
<circle cx="271.2" cy="712.1" r="1.45" fill="#7599a9"/>
<circle cx="272.9" cy="712.1" r="1.45" fill="#7599a9"/>
<circle cx="274.6" cy="712.1" r="1.45" fill="#7599a9"/>
<circle cx="276.3" cy="712.1" r="1.45" fill="#7599a9"/>
<circle cx="278.1" cy="712.1" r="1.45" fill="#7599a9"/>
<circle cx="279.8" cy="712.1" r="1.45" fill="#7599a9"/>
<circle cx="281.5" cy="712.1" r="1.45" fill="#7599a9"/>
<circle cx="283.2" cy="712" r="1.45" fill="#7599a9"/>
<circle cx="284.9" cy="712" r="1.45" fill="#7599a9"/>
<circle cx="286.6" cy="712" r="1.45" fill="#7599a9"/>
<circle cx="288.3" cy="712" r="1.45" fill="#7599a9"/>
<circle cx="290" cy="712" r="1.45" fill="#7599a9"/>
<circle cx="291.7" cy="712" r="1.45" fill="#7599a9"/>
<circle cx="293.4" cy="712" r="1.45" fill="#7599a9"/>
<circle cx="295.1" cy="711.9" r="1.45" fill="#7599a9"/>
<circle cx="296.9" cy="711.9" r="1.45" fill="#7599a9"/>
<circle cx="298.6" cy="711.9" r="1.45" fill="#7599a9"/>
<circle cx="300.3" cy="711.9" r="1.45" fill="#7599a9"/>
<circle cx="302" cy="711.8" r="1.45" fill="#7599a9"/>
<circle cx="303.7" cy="711.8" r="1.45" fill="#7599a9"/>
<circle cx="305.4" cy="711.8" r="1.45" fill="#7599a9"/>
<circle cx="307.1" cy="711.7" r="1.45" fill="#7599a9"/>
<circle cx="308.8" cy="711.7" r="1.45" fill="#7599a9"/>
<circle cx="310.5" cy="711.6" r="1.45" fill="#7599a9"/>
<circle cx="312.2" cy="711.6" r="1.45" fill="#7599a9"/>
<circle cx="314" cy="711.5" r="1.45" fill="#7599a9"/>
<circle cx="315.7" cy="711.6" r="1.45" fill="#7599a9"/>
<circle cx="317.4" cy="711.8" r="1.45" fill="#7599a9"/>
<circle cx="319.1" cy="712.1" r="1.45" fill="#7599a9"/>
<circle cx="320.8" cy="712.1" r="1.45" fill="#7599a9"/>
<circle cx="322.5" cy="711.9" r="1.45" fill="#7599a9"/>
<circle cx="324.2" cy="711.6" r="1.45" fill="#7599a9"/>
<circle cx="325.9" cy="711.4" r="1.45" fill="#7599a9"/>
<circle cx="327.6" cy="711.1" r="1.45" fill="#7599a9"/>
<circle cx="329.3" cy="711.3" r="1.45" fill="#7599a9"/>
</g>
<text x="732.1" y="581.7" font-size="12.1" fill="#555" textLength="25.1" lengthAdjust="spacingAndGlyphs">平均</text>
<rect x="763.6" y="573.8" width="1.9" height="1.9" fill="#555"/>
<rect x="763.6" y="580.3" width="1.9" height="1.9" fill="#555"/>
<text x="772" y="582" font-size="13" fill="#555" textLength="31.7" lengthAdjust="spacingAndGlyphs">2565</text>
</svg>
<div class="hl"></div>
</body></html>
